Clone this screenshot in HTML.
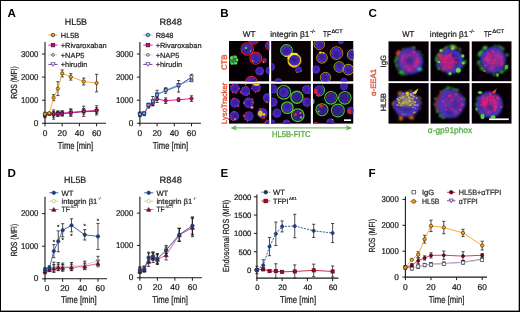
<!DOCTYPE html><html><head><meta charset="utf-8"><style>html,body{margin:0;padding:0;background:#fff;overflow:hidden}svg{display:block;will-change:transform;text-rendering:geometricPrecision}</style></head><body>
<svg width="520" height="312" viewBox="0 0 520 312" font-family='"Liberation Sans", sans-serif'>
<defs><filter id="b1" x="-50%" y="-50%" width="200%" height="200%"><feGaussianBlur stdDeviation="0.9"/></filter><filter id="b2" x="-50%" y="-50%" width="200%" height="200%"><feGaussianBlur stdDeviation="1.0"/></filter><filter id="b3" x="-50%" y="-50%" width="200%" height="200%"><feGaussianBlur stdDeviation="0.35"/></filter><filter id="cb" x="-10%" y="-10%" width="120%" height="120%"><feGaussianBlur stdDeviation="0.9"/></filter></defs>
<rect x="0" y="0" width="520" height="312" fill="#000"/>
<rect x="1" y="1" width="517.7" height="309.6" fill="#fff"/>
<text x="7.6" y="16.6" font-size="11.6" fill="#000" font-weight="bold" >A</text>
<text x="220.2" y="16.6" font-size="11.6" fill="#000" font-weight="bold" >B</text>
<text x="368.4" y="16.8" font-size="11.6" fill="#000" font-weight="bold" >C</text>
<text x="7.6" y="176.6" font-size="11.6" fill="#000" font-weight="bold" >D</text>
<text x="220.4" y="176.8" font-size="11.6" fill="#000" font-weight="bold" >E</text>
<text x="368.6" y="176.8" font-size="11.6" fill="#000" font-weight="bold" >F</text>
<line x1="45" y1="42" x2="45" y2="123.8" stroke="#1a1a1a" stroke-width="1.1" />
<line x1="44.5" y1="123.3" x2="106" y2="123.3" stroke="#1a1a1a" stroke-width="1.1" />
<line x1="42" y1="123.3" x2="45" y2="123.3" stroke="#1a1a1a" stroke-width="1" />
<text x="38.4" y="125.8" font-size="8.4" fill="#1a1a1a" stroke="#1a1a1a" stroke-width="0.22" text-anchor="end" >0</text>
<line x1="42" y1="100.2" x2="45" y2="100.2" stroke="#1a1a1a" stroke-width="1" />
<text x="38.4" y="102.7" font-size="8.4" fill="#1a1a1a" stroke="#1a1a1a" stroke-width="0.22" text-anchor="end" textLength="17.4" lengthAdjust="spacingAndGlyphs" >1000</text>
<line x1="42" y1="77.1" x2="45" y2="77.1" stroke="#1a1a1a" stroke-width="1" />
<text x="38.4" y="79.6" font-size="8.4" fill="#1a1a1a" stroke="#1a1a1a" stroke-width="0.22" text-anchor="end" textLength="17.4" lengthAdjust="spacingAndGlyphs" >2000</text>
<line x1="42" y1="54" x2="45" y2="54" stroke="#1a1a1a" stroke-width="1" />
<text x="38.4" y="56.5" font-size="8.4" fill="#1a1a1a" stroke="#1a1a1a" stroke-width="0.22" text-anchor="end" textLength="17.4" lengthAdjust="spacingAndGlyphs" >3000</text>
<line x1="45" y1="123.3" x2="45" y2="126.3" stroke="#1a1a1a" stroke-width="1" />
<text x="45" y="135.9" font-size="8.4" fill="#1a1a1a" stroke="#1a1a1a" stroke-width="0.22" text-anchor="middle" >0</text>
<line x1="62.2" y1="123.3" x2="62.2" y2="126.3" stroke="#1a1a1a" stroke-width="1" />
<text x="62.2" y="135.9" font-size="8.4" fill="#1a1a1a" stroke="#1a1a1a" stroke-width="0.22" text-anchor="middle" >20</text>
<line x1="79.4" y1="123.3" x2="79.4" y2="126.3" stroke="#1a1a1a" stroke-width="1" />
<text x="79.4" y="135.9" font-size="8.4" fill="#1a1a1a" stroke="#1a1a1a" stroke-width="0.22" text-anchor="middle" >40</text>
<line x1="96.6" y1="123.3" x2="96.6" y2="126.3" stroke="#1a1a1a" stroke-width="1" />
<text x="96.6" y="135.9" font-size="8.4" fill="#1a1a1a" stroke="#1a1a1a" stroke-width="0.22" text-anchor="middle" >60</text>
<text x="64.8" y="24.9" font-size="9.2" fill="#1a1a1a" stroke="#1a1a1a" stroke-width="0.22" textLength="22.2" lengthAdjust="spacingAndGlyphs" >HL5B</text>
<text x="57.8" y="148.9" font-size="10" fill="#1a1a1a" stroke="#1a1a1a" stroke-width="0.22" textLength="35.4" lengthAdjust="spacingAndGlyphs" >Time [min]</text>
<line x1="48.4" y1="35" x2="57.6" y2="35" stroke="#f7a21b" stroke-width="0.9" />
<circle cx="53" cy="35" r="1.75" fill="#f7a21b" stroke="#231f20" stroke-width="0.7"/>
<text x="60.8" y="37.6" font-size="7.4" fill="#231f20" stroke="#231f20" stroke-width="0.22" >HL5B</text>
<line x1="48.4" y1="45.1" x2="57.6" y2="45.1" stroke="#e5007e" stroke-width="0.9" />
<rect x="51.25" y="43.35" width="3.5" height="3.5" fill="#e5007e" stroke="#231f20" stroke-width="0.7"/>
<text x="60.8" y="47.7" font-size="7.4" fill="#231f20" stroke="#231f20" stroke-width="0.22" >+Rivaroxaban</text>
<line x1="48.4" y1="54.9" x2="57.6" y2="54.9" stroke="#c8c8c8" stroke-width="0.9" />
<circle cx="53" cy="54.9" r="1.35" fill="#fff" stroke="#231f20" stroke-width="0.7"/>
<text x="60.8" y="57.5" font-size="7.4" fill="#231f20" stroke="#231f20" stroke-width="0.22" >+NAP5</text>
<line x1="48.4" y1="64.4" x2="57.6" y2="64.4" stroke="#5d2a8e" stroke-width="0.9" />
<polygon points="50.9,62.65 55.1,62.65 53,66.33" fill="#fff" stroke="#5d2a8e" stroke-width="0.7"/>
<text x="60.8" y="67" font-size="7.4" fill="#231f20" stroke="#231f20" stroke-width="0.22" >+hirudin</text>
<line x1="45" y1="112.21" x2="45" y2="117.76" stroke="#231f20" stroke-width="0.8" />
<line x1="43.4" y1="112.21" x2="46.6" y2="112.21" stroke="#231f20" stroke-width="0.8" />
<line x1="43.4" y1="117.76" x2="46.6" y2="117.76" stroke="#231f20" stroke-width="0.8" />
<line x1="53.6" y1="109.9" x2="53.6" y2="119.14" stroke="#231f20" stroke-width="0.8" />
<line x1="52" y1="109.9" x2="55.2" y2="109.9" stroke="#231f20" stroke-width="0.8" />
<line x1="52" y1="119.14" x2="55.2" y2="119.14" stroke="#231f20" stroke-width="0.8" />
<line x1="57.9" y1="110.83" x2="57.9" y2="116.37" stroke="#231f20" stroke-width="0.8" />
<line x1="56.3" y1="110.83" x2="59.5" y2="110.83" stroke="#231f20" stroke-width="0.8" />
<line x1="56.3" y1="116.37" x2="59.5" y2="116.37" stroke="#231f20" stroke-width="0.8" />
<line x1="62.2" y1="110.59" x2="62.2" y2="116.14" stroke="#231f20" stroke-width="0.8" />
<line x1="60.6" y1="110.59" x2="63.8" y2="110.59" stroke="#231f20" stroke-width="0.8" />
<line x1="60.6" y1="116.14" x2="63.8" y2="116.14" stroke="#231f20" stroke-width="0.8" />
<line x1="70.8" y1="108.98" x2="70.8" y2="115.91" stroke="#231f20" stroke-width="0.8" />
<line x1="69.2" y1="108.98" x2="72.4" y2="108.98" stroke="#231f20" stroke-width="0.8" />
<line x1="69.2" y1="115.91" x2="72.4" y2="115.91" stroke="#231f20" stroke-width="0.8" />
<line x1="83.7" y1="106.21" x2="83.7" y2="116.37" stroke="#231f20" stroke-width="0.8" />
<line x1="82.1" y1="106.21" x2="85.3" y2="106.21" stroke="#231f20" stroke-width="0.8" />
<line x1="82.1" y1="116.37" x2="85.3" y2="116.37" stroke="#231f20" stroke-width="0.8" />
<line x1="96.6" y1="105.74" x2="96.6" y2="114.98" stroke="#231f20" stroke-width="0.8" />
<line x1="95" y1="105.74" x2="98.2" y2="105.74" stroke="#231f20" stroke-width="0.8" />
<line x1="95" y1="114.98" x2="98.2" y2="114.98" stroke="#231f20" stroke-width="0.8" />
<polyline points="45,114.98 49.3,113.6 53.6,114.52 57.9,113.6 62.2,113.37 70.8,112.44 83.7,111.29 96.6,110.36" fill="none" stroke="#c8c8c8" stroke-width="0.9" />
<circle cx="45" cy="114.98" r="1.3" fill="#fff" stroke="#231f20" stroke-width="0.7"/>
<circle cx="49.3" cy="113.6" r="1.3" fill="#fff" stroke="#231f20" stroke-width="0.7"/>
<circle cx="53.6" cy="114.52" r="1.3" fill="#fff" stroke="#231f20" stroke-width="0.7"/>
<circle cx="57.9" cy="113.6" r="1.3" fill="#fff" stroke="#231f20" stroke-width="0.7"/>
<circle cx="62.2" cy="113.37" r="1.3" fill="#fff" stroke="#231f20" stroke-width="0.7"/>
<circle cx="70.8" cy="112.44" r="1.3" fill="#fff" stroke="#231f20" stroke-width="0.7"/>
<circle cx="83.7" cy="111.29" r="1.3" fill="#fff" stroke="#231f20" stroke-width="0.7"/>
<circle cx="96.6" cy="110.36" r="1.3" fill="#fff" stroke="#231f20" stroke-width="0.7"/>
<polyline points="45,115.22 49.3,114.06 53.6,114.52 57.9,113.83 62.2,113.6 70.8,112.67 83.7,111.75 96.6,111.29" fill="none" stroke="#5d2a8e" stroke-width="0.9" />
<polygon points="43.02,113.56 46.98,113.56 45,117.03" fill="#fff" stroke="#5d2a8e" stroke-width="0.7"/>
<polygon points="47.32,112.41 51.28,112.41 49.3,115.88" fill="#fff" stroke="#5d2a8e" stroke-width="0.7"/>
<polygon points="51.62,112.87 55.58,112.87 53.6,116.34" fill="#fff" stroke="#5d2a8e" stroke-width="0.7"/>
<polygon points="55.92,112.18 59.88,112.18 57.9,115.64" fill="#fff" stroke="#5d2a8e" stroke-width="0.7"/>
<polygon points="60.22,111.95 64.18,111.95 62.2,115.41" fill="#fff" stroke="#5d2a8e" stroke-width="0.7"/>
<polygon points="68.82,111.02 72.78,111.02 70.8,114.49" fill="#fff" stroke="#5d2a8e" stroke-width="0.7"/>
<polygon points="81.72,110.1 85.68,110.1 83.7,113.56" fill="#fff" stroke="#5d2a8e" stroke-width="0.7"/>
<polygon points="94.62,109.64 98.58,109.64 96.6,113.1" fill="#fff" stroke="#5d2a8e" stroke-width="0.7"/>
<line x1="45" y1="113.14" x2="45" y2="116.83" stroke="#231f20" stroke-width="0.8" />
<line x1="43.4" y1="113.14" x2="46.6" y2="113.14" stroke="#231f20" stroke-width="0.8" />
<line x1="43.4" y1="116.83" x2="46.6" y2="116.83" stroke="#231f20" stroke-width="0.8" />
<line x1="53.6" y1="111.52" x2="53.6" y2="117.06" stroke="#231f20" stroke-width="0.8" />
<line x1="52" y1="111.52" x2="55.2" y2="111.52" stroke="#231f20" stroke-width="0.8" />
<line x1="52" y1="117.06" x2="55.2" y2="117.06" stroke="#231f20" stroke-width="0.8" />
<line x1="57.9" y1="111.52" x2="57.9" y2="116.14" stroke="#231f20" stroke-width="0.8" />
<line x1="56.3" y1="111.52" x2="59.5" y2="111.52" stroke="#231f20" stroke-width="0.8" />
<line x1="56.3" y1="116.14" x2="59.5" y2="116.14" stroke="#231f20" stroke-width="0.8" />
<line x1="62.2" y1="111.75" x2="62.2" y2="115.45" stroke="#231f20" stroke-width="0.8" />
<line x1="60.6" y1="111.75" x2="63.8" y2="111.75" stroke="#231f20" stroke-width="0.8" />
<line x1="60.6" y1="115.45" x2="63.8" y2="115.45" stroke="#231f20" stroke-width="0.8" />
<line x1="70.8" y1="109.21" x2="70.8" y2="116.14" stroke="#231f20" stroke-width="0.8" />
<line x1="69.2" y1="109.21" x2="72.4" y2="109.21" stroke="#231f20" stroke-width="0.8" />
<line x1="69.2" y1="116.14" x2="72.4" y2="116.14" stroke="#231f20" stroke-width="0.8" />
<line x1="83.7" y1="108.52" x2="83.7" y2="114.06" stroke="#231f20" stroke-width="0.8" />
<line x1="82.1" y1="108.52" x2="85.3" y2="108.52" stroke="#231f20" stroke-width="0.8" />
<line x1="82.1" y1="114.06" x2="85.3" y2="114.06" stroke="#231f20" stroke-width="0.8" />
<line x1="96.6" y1="107.82" x2="96.6" y2="113.37" stroke="#231f20" stroke-width="0.8" />
<line x1="95" y1="107.82" x2="98.2" y2="107.82" stroke="#231f20" stroke-width="0.8" />
<line x1="95" y1="113.37" x2="98.2" y2="113.37" stroke="#231f20" stroke-width="0.8" />
<polyline points="45,114.98 49.3,113.83 53.6,114.29 57.9,113.83 62.2,113.6 70.8,112.67 83.7,111.29 96.6,110.59" fill="none" stroke="#e5007e" stroke-width="0.9" />
<rect x="43.55" y="113.53" width="2.9" height="2.9" fill="#e5007e" stroke="#231f20" stroke-width="0.7"/>
<rect x="47.85" y="112.38" width="2.9" height="2.9" fill="#e5007e" stroke="#231f20" stroke-width="0.7"/>
<rect x="52.15" y="112.84" width="2.9" height="2.9" fill="#e5007e" stroke="#231f20" stroke-width="0.7"/>
<rect x="56.45" y="112.38" width="2.9" height="2.9" fill="#e5007e" stroke="#231f20" stroke-width="0.7"/>
<rect x="60.75" y="112.15" width="2.9" height="2.9" fill="#e5007e" stroke="#231f20" stroke-width="0.7"/>
<rect x="69.35" y="111.22" width="2.9" height="2.9" fill="#e5007e" stroke="#231f20" stroke-width="0.7"/>
<rect x="82.25" y="109.84" width="2.9" height="2.9" fill="#e5007e" stroke="#231f20" stroke-width="0.7"/>
<rect x="95.15" y="109.14" width="2.9" height="2.9" fill="#e5007e" stroke="#231f20" stroke-width="0.7"/>
<line x1="53.6" y1="94.66" x2="53.6" y2="100.66" stroke="#231f20" stroke-width="0.8" />
<line x1="52" y1="94.66" x2="55.2" y2="94.66" stroke="#231f20" stroke-width="0.8" />
<line x1="52" y1="100.66" x2="55.2" y2="100.66" stroke="#231f20" stroke-width="0.8" />
<line x1="57.9" y1="81.72" x2="57.9" y2="95.58" stroke="#231f20" stroke-width="0.8" />
<line x1="56.3" y1="81.72" x2="59.5" y2="81.72" stroke="#231f20" stroke-width="0.8" />
<line x1="56.3" y1="95.58" x2="59.5" y2="95.58" stroke="#231f20" stroke-width="0.8" />
<line x1="62.2" y1="69.94" x2="62.2" y2="76.87" stroke="#231f20" stroke-width="0.8" />
<line x1="60.6" y1="69.94" x2="63.8" y2="69.94" stroke="#231f20" stroke-width="0.8" />
<line x1="60.6" y1="76.87" x2="63.8" y2="76.87" stroke="#231f20" stroke-width="0.8" />
<line x1="70.8" y1="73.64" x2="70.8" y2="80.1" stroke="#231f20" stroke-width="0.8" />
<line x1="69.2" y1="73.64" x2="72.4" y2="73.64" stroke="#231f20" stroke-width="0.8" />
<line x1="69.2" y1="80.1" x2="72.4" y2="80.1" stroke="#231f20" stroke-width="0.8" />
<line x1="83.7" y1="78.02" x2="83.7" y2="84.95" stroke="#231f20" stroke-width="0.8" />
<line x1="82.1" y1="78.02" x2="85.3" y2="78.02" stroke="#231f20" stroke-width="0.8" />
<line x1="82.1" y1="84.95" x2="85.3" y2="84.95" stroke="#231f20" stroke-width="0.8" />
<line x1="96.6" y1="74.33" x2="96.6" y2="91.88" stroke="#231f20" stroke-width="0.8" />
<line x1="95" y1="74.33" x2="98.2" y2="74.33" stroke="#231f20" stroke-width="0.8" />
<line x1="95" y1="91.88" x2="98.2" y2="91.88" stroke="#231f20" stroke-width="0.8" />
<polyline points="45,114.06 49.3,113.14 53.6,97.66 57.9,88.65 62.2,73.4 70.8,76.87 83.7,81.49 96.6,83.11" fill="none" stroke="#f7a21b" stroke-width="0.9" />
<circle cx="45" cy="114.06" r="1.65" fill="#f7a21b" stroke="#4a3000" stroke-width="0.7"/>
<circle cx="49.3" cy="113.14" r="1.65" fill="#f7a21b" stroke="#4a3000" stroke-width="0.7"/>
<circle cx="53.6" cy="97.66" r="1.65" fill="#f7a21b" stroke="#4a3000" stroke-width="0.7"/>
<circle cx="57.9" cy="88.65" r="1.65" fill="#f7a21b" stroke="#4a3000" stroke-width="0.7"/>
<circle cx="62.2" cy="73.4" r="1.65" fill="#f7a21b" stroke="#4a3000" stroke-width="0.7"/>
<circle cx="70.8" cy="76.87" r="1.65" fill="#f7a21b" stroke="#4a3000" stroke-width="0.7"/>
<circle cx="83.7" cy="81.49" r="1.65" fill="#f7a21b" stroke="#4a3000" stroke-width="0.7"/>
<circle cx="96.6" cy="83.11" r="1.65" fill="#f7a21b" stroke="#4a3000" stroke-width="0.7"/>
<line x1="139.9" y1="42" x2="139.9" y2="123.8" stroke="#1a1a1a" stroke-width="1.1" />
<line x1="139.4" y1="123.3" x2="200.9" y2="123.3" stroke="#1a1a1a" stroke-width="1.1" />
<line x1="136.9" y1="123.3" x2="139.9" y2="123.3" stroke="#1a1a1a" stroke-width="1" />
<text x="133.3" y="125.8" font-size="8.4" fill="#1a1a1a" stroke="#1a1a1a" stroke-width="0.22" text-anchor="end" >0</text>
<line x1="136.9" y1="100.2" x2="139.9" y2="100.2" stroke="#1a1a1a" stroke-width="1" />
<text x="133.3" y="102.7" font-size="8.4" fill="#1a1a1a" stroke="#1a1a1a" stroke-width="0.22" text-anchor="end" textLength="17.4" lengthAdjust="spacingAndGlyphs" >1000</text>
<line x1="136.9" y1="77.1" x2="139.9" y2="77.1" stroke="#1a1a1a" stroke-width="1" />
<text x="133.3" y="79.6" font-size="8.4" fill="#1a1a1a" stroke="#1a1a1a" stroke-width="0.22" text-anchor="end" textLength="17.4" lengthAdjust="spacingAndGlyphs" >2000</text>
<line x1="136.9" y1="54" x2="139.9" y2="54" stroke="#1a1a1a" stroke-width="1" />
<text x="133.3" y="56.5" font-size="8.4" fill="#1a1a1a" stroke="#1a1a1a" stroke-width="0.22" text-anchor="end" textLength="17.4" lengthAdjust="spacingAndGlyphs" >3000</text>
<line x1="139.9" y1="123.3" x2="139.9" y2="126.3" stroke="#1a1a1a" stroke-width="1" />
<text x="139.9" y="135.9" font-size="8.4" fill="#1a1a1a" stroke="#1a1a1a" stroke-width="0.22" text-anchor="middle" >0</text>
<line x1="157.1" y1="123.3" x2="157.1" y2="126.3" stroke="#1a1a1a" stroke-width="1" />
<text x="157.1" y="135.9" font-size="8.4" fill="#1a1a1a" stroke="#1a1a1a" stroke-width="0.22" text-anchor="middle" >20</text>
<line x1="174.3" y1="123.3" x2="174.3" y2="126.3" stroke="#1a1a1a" stroke-width="1" />
<text x="174.3" y="135.9" font-size="8.4" fill="#1a1a1a" stroke="#1a1a1a" stroke-width="0.22" text-anchor="middle" >40</text>
<line x1="191.5" y1="123.3" x2="191.5" y2="126.3" stroke="#1a1a1a" stroke-width="1" />
<text x="191.5" y="135.9" font-size="8.4" fill="#1a1a1a" stroke="#1a1a1a" stroke-width="0.22" text-anchor="middle" >60</text>
<text x="159.6" y="24.9" font-size="9.2" fill="#1a1a1a" stroke="#1a1a1a" stroke-width="0.22" textLength="22.2" lengthAdjust="spacingAndGlyphs" >R848</text>
<text x="152.7" y="148.9" font-size="10" fill="#1a1a1a" stroke="#1a1a1a" stroke-width="0.22" textLength="35.4" lengthAdjust="spacingAndGlyphs" >Time [min]</text>
<line x1="143.3" y1="35" x2="152.5" y2="35" stroke="#5cb8ea" stroke-width="0.9" />
<circle cx="147.9" cy="35" r="1.75" fill="#5cb8ea" stroke="#231f20" stroke-width="0.7"/>
<text x="155.7" y="37.6" font-size="7.4" fill="#231f20" stroke="#231f20" stroke-width="0.22" >R848</text>
<line x1="143.3" y1="45.1" x2="152.5" y2="45.1" stroke="#e5007e" stroke-width="0.9" />
<rect x="146.15" y="43.35" width="3.5" height="3.5" fill="#e5007e" stroke="#231f20" stroke-width="0.7"/>
<text x="155.7" y="47.7" font-size="7.4" fill="#231f20" stroke="#231f20" stroke-width="0.22" >+Rivaroxaban</text>
<line x1="143.3" y1="54.9" x2="152.5" y2="54.9" stroke="#c8c8c8" stroke-width="0.9" />
<circle cx="147.9" cy="54.9" r="1.35" fill="#fff" stroke="#231f20" stroke-width="0.7"/>
<text x="155.7" y="57.5" font-size="7.4" fill="#231f20" stroke="#231f20" stroke-width="0.22" >+NAP5</text>
<line x1="143.3" y1="64.4" x2="152.5" y2="64.4" stroke="#5d2a8e" stroke-width="0.9" />
<polygon points="145.8,62.65 150,62.65 147.9,66.33" fill="#fff" stroke="#5d2a8e" stroke-width="0.7"/>
<text x="155.7" y="67" font-size="7.4" fill="#231f20" stroke="#231f20" stroke-width="0.22" >+hirudin</text>
<line x1="139.9" y1="111.98" x2="139.9" y2="116.6" stroke="#231f20" stroke-width="0.8" />
<line x1="138.3" y1="111.98" x2="141.5" y2="111.98" stroke="#231f20" stroke-width="0.8" />
<line x1="138.3" y1="116.6" x2="141.5" y2="116.6" stroke="#231f20" stroke-width="0.8" />
<line x1="148.5" y1="103.2" x2="148.5" y2="107.82" stroke="#231f20" stroke-width="0.8" />
<line x1="146.9" y1="103.2" x2="150.1" y2="103.2" stroke="#231f20" stroke-width="0.8" />
<line x1="146.9" y1="107.82" x2="150.1" y2="107.82" stroke="#231f20" stroke-width="0.8" />
<line x1="152.8" y1="96.5" x2="152.8" y2="105.74" stroke="#231f20" stroke-width="0.8" />
<line x1="151.2" y1="96.5" x2="154.4" y2="96.5" stroke="#231f20" stroke-width="0.8" />
<line x1="151.2" y1="105.74" x2="154.4" y2="105.74" stroke="#231f20" stroke-width="0.8" />
<line x1="157.1" y1="90.27" x2="157.1" y2="97.2" stroke="#231f20" stroke-width="0.8" />
<line x1="155.5" y1="90.27" x2="158.7" y2="90.27" stroke="#231f20" stroke-width="0.8" />
<line x1="155.5" y1="97.2" x2="158.7" y2="97.2" stroke="#231f20" stroke-width="0.8" />
<line x1="165.7" y1="87.73" x2="165.7" y2="93.27" stroke="#231f20" stroke-width="0.8" />
<line x1="164.1" y1="87.73" x2="167.3" y2="87.73" stroke="#231f20" stroke-width="0.8" />
<line x1="164.1" y1="93.27" x2="167.3" y2="93.27" stroke="#231f20" stroke-width="0.8" />
<line x1="178.6" y1="80.56" x2="178.6" y2="92.12" stroke="#231f20" stroke-width="0.8" />
<line x1="177" y1="80.56" x2="180.2" y2="80.56" stroke="#231f20" stroke-width="0.8" />
<line x1="177" y1="92.12" x2="180.2" y2="92.12" stroke="#231f20" stroke-width="0.8" />
<line x1="191.5" y1="74.33" x2="191.5" y2="79.87" stroke="#231f20" stroke-width="0.8" />
<line x1="189.9" y1="74.33" x2="193.1" y2="74.33" stroke="#231f20" stroke-width="0.8" />
<line x1="189.9" y1="79.87" x2="193.1" y2="79.87" stroke="#231f20" stroke-width="0.8" />
<polyline points="139.9,114.29 144.2,113.6 148.5,105.51 152.8,101.12 157.1,93.73 165.7,90.5 178.6,86.34 191.5,77.1" fill="none" stroke="#c8c8c8" stroke-width="0.9" />
<circle cx="139.9" cy="114.29" r="1.3" fill="#fff" stroke="#231f20" stroke-width="0.7"/>
<circle cx="144.2" cy="113.6" r="1.3" fill="#fff" stroke="#231f20" stroke-width="0.7"/>
<circle cx="148.5" cy="105.51" r="1.3" fill="#fff" stroke="#231f20" stroke-width="0.7"/>
<circle cx="152.8" cy="101.12" r="1.3" fill="#fff" stroke="#231f20" stroke-width="0.7"/>
<circle cx="157.1" cy="93.73" r="1.3" fill="#fff" stroke="#231f20" stroke-width="0.7"/>
<circle cx="165.7" cy="90.5" r="1.3" fill="#fff" stroke="#231f20" stroke-width="0.7"/>
<circle cx="178.6" cy="86.34" r="1.3" fill="#fff" stroke="#231f20" stroke-width="0.7"/>
<circle cx="191.5" cy="77.1" r="1.3" fill="#fff" stroke="#231f20" stroke-width="0.7"/>
<polyline points="139.9,114.52 144.2,113.6 148.5,105.28 152.8,101.35 157.1,94.42 165.7,90.96 178.6,85.42 191.5,77.33" fill="none" stroke="#5d2a8e" stroke-width="0.9" />
<polygon points="137.92,112.87 141.88,112.87 139.9,116.34" fill="#fff" stroke="#5d2a8e" stroke-width="0.7"/>
<polygon points="142.22,111.95 146.18,111.95 144.2,115.41" fill="#fff" stroke="#5d2a8e" stroke-width="0.7"/>
<polygon points="146.52,103.63 150.48,103.63 148.5,107.1" fill="#fff" stroke="#5d2a8e" stroke-width="0.7"/>
<polygon points="150.82,99.7 154.78,99.7 152.8,103.17" fill="#fff" stroke="#5d2a8e" stroke-width="0.7"/>
<polygon points="155.12,92.77 159.08,92.77 157.1,96.24" fill="#fff" stroke="#5d2a8e" stroke-width="0.7"/>
<polygon points="163.72,89.31 167.68,89.31 165.7,92.78" fill="#fff" stroke="#5d2a8e" stroke-width="0.7"/>
<polygon points="176.62,83.77 180.58,83.77 178.6,87.23" fill="#fff" stroke="#5d2a8e" stroke-width="0.7"/>
<polygon points="189.52,75.68 193.48,75.68 191.5,79.15" fill="#fff" stroke="#5d2a8e" stroke-width="0.7"/>
<line x1="139.9" y1="112.44" x2="139.9" y2="116.14" stroke="#231f20" stroke-width="0.8" />
<line x1="138.3" y1="112.44" x2="141.5" y2="112.44" stroke="#231f20" stroke-width="0.8" />
<line x1="138.3" y1="116.14" x2="141.5" y2="116.14" stroke="#231f20" stroke-width="0.8" />
<line x1="144.2" y1="111.98" x2="144.2" y2="115.68" stroke="#231f20" stroke-width="0.8" />
<line x1="142.6" y1="111.98" x2="145.8" y2="111.98" stroke="#231f20" stroke-width="0.8" />
<line x1="142.6" y1="115.68" x2="145.8" y2="115.68" stroke="#231f20" stroke-width="0.8" />
<line x1="148.5" y1="104.13" x2="148.5" y2="107.82" stroke="#231f20" stroke-width="0.8" />
<line x1="146.9" y1="104.13" x2="150.1" y2="104.13" stroke="#231f20" stroke-width="0.8" />
<line x1="146.9" y1="107.82" x2="150.1" y2="107.82" stroke="#231f20" stroke-width="0.8" />
<line x1="152.8" y1="101.12" x2="152.8" y2="105.74" stroke="#231f20" stroke-width="0.8" />
<line x1="151.2" y1="101.12" x2="154.4" y2="101.12" stroke="#231f20" stroke-width="0.8" />
<line x1="151.2" y1="105.74" x2="154.4" y2="105.74" stroke="#231f20" stroke-width="0.8" />
<line x1="157.1" y1="95.58" x2="157.1" y2="102.51" stroke="#231f20" stroke-width="0.8" />
<line x1="155.5" y1="95.58" x2="158.7" y2="95.58" stroke="#231f20" stroke-width="0.8" />
<line x1="155.5" y1="102.51" x2="158.7" y2="102.51" stroke="#231f20" stroke-width="0.8" />
<line x1="165.7" y1="97.89" x2="165.7" y2="103.43" stroke="#231f20" stroke-width="0.8" />
<line x1="164.1" y1="97.89" x2="167.3" y2="97.89" stroke="#231f20" stroke-width="0.8" />
<line x1="164.1" y1="103.43" x2="167.3" y2="103.43" stroke="#231f20" stroke-width="0.8" />
<line x1="178.6" y1="97.89" x2="178.6" y2="101.59" stroke="#231f20" stroke-width="0.8" />
<line x1="177" y1="97.89" x2="180.2" y2="97.89" stroke="#231f20" stroke-width="0.8" />
<line x1="177" y1="101.59" x2="180.2" y2="101.59" stroke="#231f20" stroke-width="0.8" />
<line x1="191.5" y1="95.81" x2="191.5" y2="101.36" stroke="#231f20" stroke-width="0.8" />
<line x1="189.9" y1="95.81" x2="193.1" y2="95.81" stroke="#231f20" stroke-width="0.8" />
<line x1="189.9" y1="101.36" x2="193.1" y2="101.36" stroke="#231f20" stroke-width="0.8" />
<polyline points="139.9,114.29 144.2,113.83 148.5,105.97 152.8,103.43 157.1,99.05 165.7,100.66 178.6,99.74 191.5,98.58" fill="none" stroke="#e5007e" stroke-width="0.9" />
<circle cx="139.9" cy="114.29" r="1.65" fill="#e5007e" stroke="#231f20" stroke-width="0.7"/>
<circle cx="144.2" cy="113.83" r="1.65" fill="#e5007e" stroke="#231f20" stroke-width="0.7"/>
<circle cx="148.5" cy="105.97" r="1.65" fill="#e5007e" stroke="#231f20" stroke-width="0.7"/>
<circle cx="152.8" cy="103.43" r="1.65" fill="#e5007e" stroke="#231f20" stroke-width="0.7"/>
<circle cx="157.1" cy="99.05" r="1.65" fill="#e5007e" stroke="#231f20" stroke-width="0.7"/>
<circle cx="165.7" cy="100.66" r="1.65" fill="#e5007e" stroke="#231f20" stroke-width="0.7"/>
<circle cx="178.6" cy="99.74" r="1.65" fill="#e5007e" stroke="#231f20" stroke-width="0.7"/>
<circle cx="191.5" cy="98.58" r="1.65" fill="#e5007e" stroke="#231f20" stroke-width="0.7"/>
<polyline points="139.9,114.29 144.2,113.37 148.5,105.05 152.8,101.35 157.1,95.12 165.7,90.04 178.6,84.95 191.5,80.33" fill="none" stroke="#5cb8ea" stroke-width="0.9" />
<rect x="138.45" y="112.84" width="2.9" height="2.9" fill="#5cb8ea" stroke="#1b2a5a" stroke-width="0.7"/>
<rect x="142.75" y="111.92" width="2.9" height="2.9" fill="#5cb8ea" stroke="#1b2a5a" stroke-width="0.7"/>
<rect x="147.05" y="103.6" width="2.9" height="2.9" fill="#5cb8ea" stroke="#1b2a5a" stroke-width="0.7"/>
<rect x="151.35" y="99.9" width="2.9" height="2.9" fill="#5cb8ea" stroke="#1b2a5a" stroke-width="0.7"/>
<rect x="155.65" y="93.67" width="2.9" height="2.9" fill="#5cb8ea" stroke="#1b2a5a" stroke-width="0.7"/>
<rect x="164.25" y="88.59" width="2.9" height="2.9" fill="#5cb8ea" stroke="#1b2a5a" stroke-width="0.7"/>
<rect x="177.15" y="83.5" width="2.9" height="2.9" fill="#5cb8ea" stroke="#1b2a5a" stroke-width="0.7"/>
<rect x="190.05" y="78.88" width="2.9" height="2.9" fill="#5cb8ea" stroke="#1b2a5a" stroke-width="0.7"/>
<text x="16.8" y="98.8" font-size="8.8" fill="#1a1a1a" stroke="#1a1a1a" stroke-width="0.22" textLength="32.6" lengthAdjust="spacingAndGlyphs" transform="rotate(-90 16.8 98.8)" >ROS (MFI)</text>
<line x1="45" y1="196.8" x2="45" y2="279.3" stroke="#1a1a1a" stroke-width="1.1" />
<line x1="44.5" y1="278.8" x2="107" y2="278.8" stroke="#1a1a1a" stroke-width="1.1" />
<line x1="42" y1="278.8" x2="45" y2="278.8" stroke="#1a1a1a" stroke-width="1" />
<text x="38.4" y="281.3" font-size="8.4" fill="#1a1a1a" stroke="#1a1a1a" stroke-width="0.22" text-anchor="end" >0</text>
<line x1="42" y1="246.2" x2="45" y2="246.2" stroke="#1a1a1a" stroke-width="1" />
<text x="38.4" y="248.7" font-size="8.4" fill="#1a1a1a" stroke="#1a1a1a" stroke-width="0.22" text-anchor="end" textLength="17.4" lengthAdjust="spacingAndGlyphs" >1000</text>
<line x1="42" y1="213.6" x2="45" y2="213.6" stroke="#1a1a1a" stroke-width="1" />
<text x="38.4" y="216.1" font-size="8.4" fill="#1a1a1a" stroke="#1a1a1a" stroke-width="0.22" text-anchor="end" textLength="17.4" lengthAdjust="spacingAndGlyphs" >2000</text>
<line x1="45" y1="278.8" x2="45" y2="281.8" stroke="#1a1a1a" stroke-width="1" />
<text x="47.2" y="291.4" font-size="8.4" fill="#1a1a1a" stroke="#1a1a1a" stroke-width="0.22" text-anchor="middle" >0</text>
<line x1="62.66" y1="278.8" x2="62.66" y2="281.8" stroke="#1a1a1a" stroke-width="1" />
<text x="64.86" y="291.4" font-size="8.4" fill="#1a1a1a" stroke="#1a1a1a" stroke-width="0.22" text-anchor="middle" >20</text>
<line x1="80.32" y1="278.8" x2="80.32" y2="281.8" stroke="#1a1a1a" stroke-width="1" />
<text x="82.52" y="291.4" font-size="8.4" fill="#1a1a1a" stroke="#1a1a1a" stroke-width="0.22" text-anchor="middle" >40</text>
<line x1="97.98" y1="278.8" x2="97.98" y2="281.8" stroke="#1a1a1a" stroke-width="1" />
<text x="100.18" y="291.4" font-size="8.4" fill="#1a1a1a" stroke="#1a1a1a" stroke-width="0.22" text-anchor="middle" >60</text>
<text x="64.1" y="182.8" font-size="9.2" fill="#1a1a1a" stroke="#1a1a1a" stroke-width="0.22" textLength="22.2" lengthAdjust="spacingAndGlyphs" >HL5B</text>
<text x="60.9" y="303.3" font-size="10" fill="#1a1a1a" stroke="#1a1a1a" stroke-width="0.22" textLength="35.8" lengthAdjust="spacingAndGlyphs" >Time [min]</text>
<line x1="49.2" y1="192.8" x2="58.4" y2="192.8" stroke="#36589a" stroke-width="0.9" />
<circle cx="53.8" cy="192.8" r="1.75" fill="#1d3c78" stroke="#1d3c78" stroke-width="0.7"/>
<line x1="49.2" y1="201.2" x2="58.4" y2="201.2" stroke="#c8d8a4" stroke-width="0.9" />
<circle cx="53.8" cy="201.2" r="1.75" fill="#fff" stroke="#a8bf7a" stroke-width="0.7"/>
<line x1="49.2" y1="209.5" x2="58.4" y2="209.5" stroke="#e6479b" stroke-width="0.9" />
<polygon points="51.7,211.25 55.9,211.25 53.8,207.57" fill="#6e0a3c" stroke="#6e0a3c" stroke-width="0.7"/>
<text x="61.5" y="195.6" font-size="7.6" fill="#231f20" stroke="#231f20" stroke-width="0.22" >WT</text>
<text x="61.5" y="204" font-size="7.6" fill="#231f20" stroke="#231f20" stroke-width="0.22" textLength="35.8" lengthAdjust="spacingAndGlyphs" >integrin β1</text>
<text x="97.8" y="199.6" font-size="4.2" fill="#231f20" stroke="#231f20" stroke-width="0.1" >-/-</text>
<text x="61.5" y="212.3" font-size="7.6" fill="#231f20" stroke="#231f20" stroke-width="0.22" textLength="8.4" lengthAdjust="spacingAndGlyphs" >TF</text>
<text x="70.5" y="208" font-size="4.2" fill="#231f20" stroke="#231f20" stroke-width="0.1" textLength="8" lengthAdjust="spacingAndGlyphs" >ΔCT</text>
<line x1="45" y1="268.04" x2="45" y2="273.26" stroke="#231f20" stroke-width="0.8" />
<line x1="43.4" y1="268.04" x2="46.6" y2="268.04" stroke="#231f20" stroke-width="0.8" />
<line x1="43.4" y1="273.26" x2="46.6" y2="273.26" stroke="#231f20" stroke-width="0.8" />
<line x1="49.41" y1="267.06" x2="49.41" y2="270.98" stroke="#231f20" stroke-width="0.8" />
<line x1="47.81" y1="267.06" x2="51.02" y2="267.06" stroke="#231f20" stroke-width="0.8" />
<line x1="47.81" y1="270.98" x2="51.02" y2="270.98" stroke="#231f20" stroke-width="0.8" />
<line x1="53.83" y1="262.17" x2="53.83" y2="271.95" stroke="#231f20" stroke-width="0.8" />
<line x1="52.23" y1="262.17" x2="55.43" y2="262.17" stroke="#231f20" stroke-width="0.8" />
<line x1="52.23" y1="271.95" x2="55.43" y2="271.95" stroke="#231f20" stroke-width="0.8" />
<line x1="58.25" y1="262.5" x2="58.25" y2="270.32" stroke="#231f20" stroke-width="0.8" />
<line x1="56.65" y1="262.5" x2="59.85" y2="262.5" stroke="#231f20" stroke-width="0.8" />
<line x1="56.65" y1="270.32" x2="59.85" y2="270.32" stroke="#231f20" stroke-width="0.8" />
<line x1="62.66" y1="263.15" x2="62.66" y2="270.98" stroke="#231f20" stroke-width="0.8" />
<line x1="61.06" y1="263.15" x2="64.26" y2="263.15" stroke="#231f20" stroke-width="0.8" />
<line x1="61.06" y1="270.98" x2="64.26" y2="270.98" stroke="#231f20" stroke-width="0.8" />
<line x1="71.49" y1="262.5" x2="71.49" y2="270.32" stroke="#231f20" stroke-width="0.8" />
<line x1="69.89" y1="262.5" x2="73.09" y2="262.5" stroke="#231f20" stroke-width="0.8" />
<line x1="69.89" y1="270.32" x2="73.09" y2="270.32" stroke="#231f20" stroke-width="0.8" />
<line x1="84.73" y1="261.2" x2="84.73" y2="269.02" stroke="#231f20" stroke-width="0.8" />
<line x1="83.14" y1="261.2" x2="86.33" y2="261.2" stroke="#231f20" stroke-width="0.8" />
<line x1="83.14" y1="269.02" x2="86.33" y2="269.02" stroke="#231f20" stroke-width="0.8" />
<line x1="97.98" y1="256.31" x2="97.98" y2="264.78" stroke="#231f20" stroke-width="0.8" />
<line x1="96.38" y1="256.31" x2="99.58" y2="256.31" stroke="#231f20" stroke-width="0.8" />
<line x1="96.38" y1="264.78" x2="99.58" y2="264.78" stroke="#231f20" stroke-width="0.8" />
<polyline points="45,270.65 49.41,269.02 53.83,267.06 58.25,266.41 62.66,267.06 71.49,266.41 84.73,265.11 97.98,260.54" fill="none" stroke="#c8d8a4" stroke-width="0.9" />
<circle cx="45" cy="270.65" r="1.7" fill="#fff" stroke="#9fb070" stroke-width="0.7"/>
<circle cx="49.41" cy="269.02" r="1.7" fill="#fff" stroke="#9fb070" stroke-width="0.7"/>
<circle cx="53.83" cy="267.06" r="1.7" fill="#fff" stroke="#9fb070" stroke-width="0.7"/>
<circle cx="58.25" cy="266.41" r="1.7" fill="#fff" stroke="#9fb070" stroke-width="0.7"/>
<circle cx="62.66" cy="267.06" r="1.7" fill="#fff" stroke="#9fb070" stroke-width="0.7"/>
<circle cx="71.49" cy="266.41" r="1.7" fill="#fff" stroke="#9fb070" stroke-width="0.7"/>
<circle cx="84.73" cy="265.11" r="1.7" fill="#fff" stroke="#9fb070" stroke-width="0.7"/>
<circle cx="97.98" cy="260.54" r="1.7" fill="#fff" stroke="#9fb070" stroke-width="0.7"/>
<line x1="45" y1="268.69" x2="45" y2="273.91" stroke="#231f20" stroke-width="0.8" />
<line x1="43.4" y1="268.69" x2="46.6" y2="268.69" stroke="#231f20" stroke-width="0.8" />
<line x1="43.4" y1="273.91" x2="46.6" y2="273.91" stroke="#231f20" stroke-width="0.8" />
<line x1="49.41" y1="267.72" x2="49.41" y2="271.63" stroke="#231f20" stroke-width="0.8" />
<line x1="47.81" y1="267.72" x2="51.02" y2="267.72" stroke="#231f20" stroke-width="0.8" />
<line x1="47.81" y1="271.63" x2="51.02" y2="271.63" stroke="#231f20" stroke-width="0.8" />
<line x1="53.83" y1="264.46" x2="53.83" y2="272.28" stroke="#231f20" stroke-width="0.8" />
<line x1="52.23" y1="264.46" x2="55.43" y2="264.46" stroke="#231f20" stroke-width="0.8" />
<line x1="52.23" y1="272.28" x2="55.43" y2="272.28" stroke="#231f20" stroke-width="0.8" />
<line x1="58.25" y1="264.13" x2="58.25" y2="270.65" stroke="#231f20" stroke-width="0.8" />
<line x1="56.65" y1="264.13" x2="59.85" y2="264.13" stroke="#231f20" stroke-width="0.8" />
<line x1="56.65" y1="270.65" x2="59.85" y2="270.65" stroke="#231f20" stroke-width="0.8" />
<line x1="62.66" y1="264.46" x2="62.66" y2="270.98" stroke="#231f20" stroke-width="0.8" />
<line x1="61.06" y1="264.46" x2="64.26" y2="264.46" stroke="#231f20" stroke-width="0.8" />
<line x1="61.06" y1="270.98" x2="64.26" y2="270.98" stroke="#231f20" stroke-width="0.8" />
<line x1="71.49" y1="264.13" x2="71.49" y2="270.65" stroke="#231f20" stroke-width="0.8" />
<line x1="69.89" y1="264.13" x2="73.09" y2="264.13" stroke="#231f20" stroke-width="0.8" />
<line x1="69.89" y1="270.65" x2="73.09" y2="270.65" stroke="#231f20" stroke-width="0.8" />
<line x1="84.73" y1="263.15" x2="84.73" y2="269.67" stroke="#231f20" stroke-width="0.8" />
<line x1="83.14" y1="263.15" x2="86.33" y2="263.15" stroke="#231f20" stroke-width="0.8" />
<line x1="83.14" y1="269.67" x2="86.33" y2="269.67" stroke="#231f20" stroke-width="0.8" />
<line x1="97.98" y1="260.22" x2="97.98" y2="266.74" stroke="#231f20" stroke-width="0.8" />
<line x1="96.38" y1="260.22" x2="99.58" y2="260.22" stroke="#231f20" stroke-width="0.8" />
<line x1="96.38" y1="266.74" x2="99.58" y2="266.74" stroke="#231f20" stroke-width="0.8" />
<polyline points="45,271.3 49.41,269.67 53.83,268.37 58.25,267.39 62.66,267.72 71.49,267.39 84.73,266.41 97.98,263.48" fill="none" stroke="#e6479b" stroke-width="0.9" />
<polygon points="42.96,273 47.04,273 45,269.43" fill="#6e0a3c" stroke="#6e0a3c" stroke-width="0.7"/>
<polygon points="47.38,271.37 51.45,271.37 49.41,267.8" fill="#6e0a3c" stroke="#6e0a3c" stroke-width="0.7"/>
<polygon points="51.79,270.07 55.87,270.07 53.83,266.5" fill="#6e0a3c" stroke="#6e0a3c" stroke-width="0.7"/>
<polygon points="56.21,269.09 60.29,269.09 58.25,265.52" fill="#6e0a3c" stroke="#6e0a3c" stroke-width="0.7"/>
<polygon points="60.62,269.42 64.7,269.42 62.66,265.85" fill="#6e0a3c" stroke="#6e0a3c" stroke-width="0.7"/>
<polygon points="69.45,269.09 73.53,269.09 71.49,265.52" fill="#6e0a3c" stroke="#6e0a3c" stroke-width="0.7"/>
<polygon points="82.69,268.11 86.78,268.11 84.73,264.54" fill="#6e0a3c" stroke="#6e0a3c" stroke-width="0.7"/>
<polygon points="95.94,265.18 100.02,265.18 97.98,261.61" fill="#6e0a3c" stroke="#6e0a3c" stroke-width="0.7"/>
<line x1="45" y1="267.72" x2="45" y2="272.28" stroke="#231f20" stroke-width="0.8" />
<line x1="43.4" y1="267.72" x2="46.6" y2="267.72" stroke="#231f20" stroke-width="0.8" />
<line x1="43.4" y1="272.28" x2="46.6" y2="272.28" stroke="#231f20" stroke-width="0.8" />
<line x1="49.41" y1="265.76" x2="49.41" y2="269.67" stroke="#231f20" stroke-width="0.8" />
<line x1="47.81" y1="265.76" x2="51.02" y2="265.76" stroke="#231f20" stroke-width="0.8" />
<line x1="47.81" y1="269.67" x2="51.02" y2="269.67" stroke="#231f20" stroke-width="0.8" />
<line x1="53.83" y1="244.57" x2="53.83" y2="257.61" stroke="#231f20" stroke-width="0.8" />
<line x1="52.23" y1="244.57" x2="55.43" y2="244.57" stroke="#231f20" stroke-width="0.8" />
<line x1="52.23" y1="257.61" x2="55.43" y2="257.61" stroke="#231f20" stroke-width="0.8" />
<line x1="58.25" y1="230.88" x2="58.25" y2="251.74" stroke="#231f20" stroke-width="0.8" />
<line x1="56.65" y1="230.88" x2="59.85" y2="230.88" stroke="#231f20" stroke-width="0.8" />
<line x1="56.65" y1="251.74" x2="59.85" y2="251.74" stroke="#231f20" stroke-width="0.8" />
<line x1="62.66" y1="223.71" x2="62.66" y2="236.75" stroke="#231f20" stroke-width="0.8" />
<line x1="61.06" y1="223.71" x2="64.26" y2="223.71" stroke="#231f20" stroke-width="0.8" />
<line x1="61.06" y1="236.75" x2="64.26" y2="236.75" stroke="#231f20" stroke-width="0.8" />
<line x1="71.49" y1="218.82" x2="71.49" y2="231.86" stroke="#231f20" stroke-width="0.8" />
<line x1="69.89" y1="218.82" x2="73.09" y2="218.82" stroke="#231f20" stroke-width="0.8" />
<line x1="69.89" y1="231.86" x2="73.09" y2="231.86" stroke="#231f20" stroke-width="0.8" />
<line x1="84.73" y1="229.57" x2="84.73" y2="240.01" stroke="#231f20" stroke-width="0.8" />
<line x1="83.14" y1="229.57" x2="86.33" y2="229.57" stroke="#231f20" stroke-width="0.8" />
<line x1="83.14" y1="240.01" x2="86.33" y2="240.01" stroke="#231f20" stroke-width="0.8" />
<line x1="97.98" y1="223.38" x2="97.98" y2="249.46" stroke="#231f20" stroke-width="0.8" />
<line x1="96.38" y1="223.38" x2="99.58" y2="223.38" stroke="#231f20" stroke-width="0.8" />
<line x1="96.38" y1="249.46" x2="99.58" y2="249.46" stroke="#231f20" stroke-width="0.8" />
<polyline points="45,270 49.41,267.72 53.83,251.09 58.25,241.31 62.66,230.23 71.49,225.34 84.73,234.79 97.98,236.42" fill="none" stroke="#36589a" stroke-width="0.9" />
<circle cx="45" cy="270" r="1.7" fill="#1d3c78" stroke="#1d3c78" stroke-width="0.7"/>
<circle cx="49.41" cy="267.72" r="1.7" fill="#1d3c78" stroke="#1d3c78" stroke-width="0.7"/>
<circle cx="53.83" cy="251.09" r="1.7" fill="#1d3c78" stroke="#1d3c78" stroke-width="0.7"/>
<circle cx="58.25" cy="241.31" r="1.7" fill="#1d3c78" stroke="#1d3c78" stroke-width="0.7"/>
<circle cx="62.66" cy="230.23" r="1.7" fill="#1d3c78" stroke="#1d3c78" stroke-width="0.7"/>
<circle cx="71.49" cy="225.34" r="1.7" fill="#1d3c78" stroke="#1d3c78" stroke-width="0.7"/>
<circle cx="84.73" cy="234.79" r="1.7" fill="#1d3c78" stroke="#1d3c78" stroke-width="0.7"/>
<circle cx="97.98" cy="236.42" r="1.7" fill="#1d3c78" stroke="#1d3c78" stroke-width="0.7"/>
<text x="53.83" y="243.91" font-size="6" fill="#231f20" stroke="#231f20" stroke-width="0.22" text-anchor="middle" >*</text>
<text x="58.25" y="229.24" font-size="6" fill="#231f20" stroke="#231f20" stroke-width="0.22" text-anchor="middle" >*</text>
<text x="62.66" y="241.95" font-size="6" fill="#231f20" stroke="#231f20" stroke-width="0.22" text-anchor="middle" >*</text>
<text x="71.49" y="238.04" font-size="6" fill="#231f20" stroke="#231f20" stroke-width="0.22" text-anchor="middle" >*</text>
<text x="84.73" y="227.61" font-size="6" fill="#231f20" stroke="#231f20" stroke-width="0.22" text-anchor="middle" >*</text>
<text x="97.98" y="222.72" font-size="6" fill="#231f20" stroke="#231f20" stroke-width="0.22" text-anchor="middle" >*</text>
<line x1="139.9" y1="196.8" x2="139.9" y2="278.2" stroke="#1a1a1a" stroke-width="1.1" />
<line x1="139.4" y1="277.7" x2="201.9" y2="277.7" stroke="#1a1a1a" stroke-width="1.1" />
<line x1="136.9" y1="277.7" x2="139.9" y2="277.7" stroke="#1a1a1a" stroke-width="1" />
<text x="133.3" y="280.2" font-size="8.4" fill="#1a1a1a" stroke="#1a1a1a" stroke-width="0.22" text-anchor="end" >0</text>
<line x1="136.9" y1="245.4" x2="139.9" y2="245.4" stroke="#1a1a1a" stroke-width="1" />
<text x="133.3" y="247.9" font-size="8.4" fill="#1a1a1a" stroke="#1a1a1a" stroke-width="0.22" text-anchor="end" textLength="17.4" lengthAdjust="spacingAndGlyphs" >1000</text>
<line x1="136.9" y1="213.1" x2="139.9" y2="213.1" stroke="#1a1a1a" stroke-width="1" />
<text x="133.3" y="215.6" font-size="8.4" fill="#1a1a1a" stroke="#1a1a1a" stroke-width="0.22" text-anchor="end" textLength="17.4" lengthAdjust="spacingAndGlyphs" >2000</text>
<line x1="139.9" y1="277.7" x2="139.9" y2="280.7" stroke="#1a1a1a" stroke-width="1" />
<text x="139.9" y="290.3" font-size="8.4" fill="#1a1a1a" stroke="#1a1a1a" stroke-width="0.22" text-anchor="middle" >0</text>
<line x1="157.4" y1="277.7" x2="157.4" y2="280.7" stroke="#1a1a1a" stroke-width="1" />
<text x="157.4" y="290.3" font-size="8.4" fill="#1a1a1a" stroke="#1a1a1a" stroke-width="0.22" text-anchor="middle" >20</text>
<line x1="174.9" y1="277.7" x2="174.9" y2="280.7" stroke="#1a1a1a" stroke-width="1" />
<text x="174.9" y="290.3" font-size="8.4" fill="#1a1a1a" stroke="#1a1a1a" stroke-width="0.22" text-anchor="middle" >40</text>
<line x1="192.4" y1="277.7" x2="192.4" y2="280.7" stroke="#1a1a1a" stroke-width="1" />
<text x="192.4" y="290.3" font-size="8.4" fill="#1a1a1a" stroke="#1a1a1a" stroke-width="0.22" text-anchor="middle" >60</text>
<text x="159.6" y="182.8" font-size="9.2" fill="#1a1a1a" stroke="#1a1a1a" stroke-width="0.22" textLength="22.2" lengthAdjust="spacingAndGlyphs" >R848</text>
<text x="152.2" y="303.3" font-size="10" fill="#1a1a1a" stroke="#1a1a1a" stroke-width="0.22" textLength="35.8" lengthAdjust="spacingAndGlyphs" >Time [min]</text>
<line x1="144.1" y1="192.8" x2="153.3" y2="192.8" stroke="#36589a" stroke-width="0.9" />
<circle cx="148.7" cy="192.8" r="1.75" fill="#1d3c78" stroke="#1d3c78" stroke-width="0.7"/>
<line x1="144.1" y1="201.2" x2="153.3" y2="201.2" stroke="#c8d8a4" stroke-width="0.9" />
<circle cx="148.7" cy="201.2" r="1.75" fill="#fff" stroke="#a8bf7a" stroke-width="0.7"/>
<line x1="144.1" y1="209.5" x2="153.3" y2="209.5" stroke="#e6479b" stroke-width="0.9" />
<polygon points="146.6,211.25 150.8,211.25 148.7,207.57" fill="#6e0a3c" stroke="#6e0a3c" stroke-width="0.7"/>
<text x="156.4" y="195.6" font-size="7.6" fill="#231f20" stroke="#231f20" stroke-width="0.22" >WT</text>
<text x="156.4" y="204" font-size="7.6" fill="#231f20" stroke="#231f20" stroke-width="0.22" textLength="35.8" lengthAdjust="spacingAndGlyphs" >integrin β1</text>
<text x="192.7" y="199.6" font-size="4.2" fill="#231f20" stroke="#231f20" stroke-width="0.1" >-/-</text>
<text x="156.4" y="212.3" font-size="7.6" fill="#231f20" stroke="#231f20" stroke-width="0.22" textLength="8.4" lengthAdjust="spacingAndGlyphs" >TF</text>
<text x="165.4" y="208" font-size="4.2" fill="#231f20" stroke="#231f20" stroke-width="0.1" textLength="8" lengthAdjust="spacingAndGlyphs" >ΔCT</text>
<line x1="139.9" y1="266.72" x2="139.9" y2="273.18" stroke="#231f20" stroke-width="0.8" />
<line x1="138.3" y1="266.72" x2="141.5" y2="266.72" stroke="#231f20" stroke-width="0.8" />
<line x1="138.3" y1="273.18" x2="141.5" y2="273.18" stroke="#231f20" stroke-width="0.8" />
<line x1="144.28" y1="266.07" x2="144.28" y2="271.24" stroke="#231f20" stroke-width="0.8" />
<line x1="142.68" y1="266.07" x2="145.88" y2="266.07" stroke="#231f20" stroke-width="0.8" />
<line x1="142.68" y1="271.24" x2="145.88" y2="271.24" stroke="#231f20" stroke-width="0.8" />
<line x1="148.65" y1="252.18" x2="148.65" y2="261.87" stroke="#231f20" stroke-width="0.8" />
<line x1="147.05" y1="252.18" x2="150.25" y2="252.18" stroke="#231f20" stroke-width="0.8" />
<line x1="147.05" y1="261.87" x2="150.25" y2="261.87" stroke="#231f20" stroke-width="0.8" />
<line x1="153.03" y1="251.86" x2="153.03" y2="259.61" stroke="#231f20" stroke-width="0.8" />
<line x1="151.43" y1="251.86" x2="154.62" y2="251.86" stroke="#231f20" stroke-width="0.8" />
<line x1="151.43" y1="259.61" x2="154.62" y2="259.61" stroke="#231f20" stroke-width="0.8" />
<line x1="157.4" y1="253.47" x2="157.4" y2="263.17" stroke="#231f20" stroke-width="0.8" />
<line x1="155.8" y1="253.47" x2="159" y2="253.47" stroke="#231f20" stroke-width="0.8" />
<line x1="155.8" y1="263.17" x2="159" y2="263.17" stroke="#231f20" stroke-width="0.8" />
<line x1="166.15" y1="245.4" x2="166.15" y2="253.15" stroke="#231f20" stroke-width="0.8" />
<line x1="164.55" y1="245.4" x2="167.75" y2="245.4" stroke="#231f20" stroke-width="0.8" />
<line x1="164.55" y1="253.15" x2="167.75" y2="253.15" stroke="#231f20" stroke-width="0.8" />
<line x1="179.28" y1="228.28" x2="179.28" y2="241.2" stroke="#231f20" stroke-width="0.8" />
<line x1="177.68" y1="228.28" x2="180.88" y2="228.28" stroke="#231f20" stroke-width="0.8" />
<line x1="177.68" y1="241.2" x2="180.88" y2="241.2" stroke="#231f20" stroke-width="0.8" />
<line x1="192.4" y1="216.98" x2="192.4" y2="235.06" stroke="#231f20" stroke-width="0.8" />
<line x1="190.8" y1="216.98" x2="194" y2="216.98" stroke="#231f20" stroke-width="0.8" />
<line x1="190.8" y1="235.06" x2="194" y2="235.06" stroke="#231f20" stroke-width="0.8" />
<polyline points="139.9,269.95 144.28,268.66 148.65,257.03 153.03,255.74 157.4,258.32 166.15,249.28 179.28,234.74 192.4,226.02" fill="none" stroke="#c8d8a4" stroke-width="0.9" />
<circle cx="139.9" cy="269.95" r="1.7" fill="#fff" stroke="#9fb070" stroke-width="0.7"/>
<circle cx="144.28" cy="268.66" r="1.7" fill="#fff" stroke="#9fb070" stroke-width="0.7"/>
<circle cx="148.65" cy="257.03" r="1.7" fill="#fff" stroke="#9fb070" stroke-width="0.7"/>
<circle cx="153.03" cy="255.74" r="1.7" fill="#fff" stroke="#9fb070" stroke-width="0.7"/>
<circle cx="157.4" cy="258.32" r="1.7" fill="#fff" stroke="#9fb070" stroke-width="0.7"/>
<circle cx="166.15" cy="249.28" r="1.7" fill="#fff" stroke="#9fb070" stroke-width="0.7"/>
<circle cx="179.28" cy="234.74" r="1.7" fill="#fff" stroke="#9fb070" stroke-width="0.7"/>
<circle cx="192.4" cy="226.02" r="1.7" fill="#fff" stroke="#9fb070" stroke-width="0.7"/>
<line x1="139.9" y1="268.33" x2="139.9" y2="273.5" stroke="#231f20" stroke-width="0.8" />
<line x1="138.3" y1="268.33" x2="141.5" y2="268.33" stroke="#231f20" stroke-width="0.8" />
<line x1="138.3" y1="273.5" x2="141.5" y2="273.5" stroke="#231f20" stroke-width="0.8" />
<line x1="144.28" y1="267.04" x2="144.28" y2="272.21" stroke="#231f20" stroke-width="0.8" />
<line x1="142.68" y1="267.04" x2="145.88" y2="267.04" stroke="#231f20" stroke-width="0.8" />
<line x1="142.68" y1="272.21" x2="145.88" y2="272.21" stroke="#231f20" stroke-width="0.8" />
<line x1="148.65" y1="256.7" x2="148.65" y2="266.4" stroke="#231f20" stroke-width="0.8" />
<line x1="147.05" y1="256.7" x2="150.25" y2="256.7" stroke="#231f20" stroke-width="0.8" />
<line x1="147.05" y1="266.4" x2="150.25" y2="266.4" stroke="#231f20" stroke-width="0.8" />
<line x1="153.03" y1="252.83" x2="153.03" y2="262.52" stroke="#231f20" stroke-width="0.8" />
<line x1="151.43" y1="252.83" x2="154.62" y2="252.83" stroke="#231f20" stroke-width="0.8" />
<line x1="151.43" y1="262.52" x2="154.62" y2="262.52" stroke="#231f20" stroke-width="0.8" />
<line x1="157.4" y1="254.77" x2="157.4" y2="264.46" stroke="#231f20" stroke-width="0.8" />
<line x1="155.8" y1="254.77" x2="159" y2="254.77" stroke="#231f20" stroke-width="0.8" />
<line x1="155.8" y1="264.46" x2="159" y2="264.46" stroke="#231f20" stroke-width="0.8" />
<line x1="166.15" y1="250.24" x2="166.15" y2="259.94" stroke="#231f20" stroke-width="0.8" />
<line x1="164.55" y1="250.24" x2="167.75" y2="250.24" stroke="#231f20" stroke-width="0.8" />
<line x1="164.55" y1="259.94" x2="167.75" y2="259.94" stroke="#231f20" stroke-width="0.8" />
<line x1="179.28" y1="228.6" x2="179.28" y2="241.52" stroke="#231f20" stroke-width="0.8" />
<line x1="177.68" y1="228.6" x2="180.88" y2="228.6" stroke="#231f20" stroke-width="0.8" />
<line x1="177.68" y1="241.52" x2="180.88" y2="241.52" stroke="#231f20" stroke-width="0.8" />
<line x1="192.4" y1="218.59" x2="192.4" y2="236.68" stroke="#231f20" stroke-width="0.8" />
<line x1="190.8" y1="218.59" x2="194" y2="218.59" stroke="#231f20" stroke-width="0.8" />
<line x1="190.8" y1="236.68" x2="194" y2="236.68" stroke="#231f20" stroke-width="0.8" />
<polyline points="139.9,270.92 144.28,269.62 148.65,261.55 153.03,257.67 157.4,259.61 166.15,255.09 179.28,235.06 192.4,227.63" fill="none" stroke="#e6479b" stroke-width="0.9" />
<polygon points="137.86,272.62 141.94,272.62 139.9,269.05" fill="#6e0a3c" stroke="#6e0a3c" stroke-width="0.7"/>
<polygon points="142.24,271.32 146.31,271.32 144.28,267.75" fill="#6e0a3c" stroke="#6e0a3c" stroke-width="0.7"/>
<polygon points="146.61,263.25 150.69,263.25 148.65,259.68" fill="#6e0a3c" stroke="#6e0a3c" stroke-width="0.7"/>
<polygon points="150.99,259.37 155.06,259.37 153.03,255.8" fill="#6e0a3c" stroke="#6e0a3c" stroke-width="0.7"/>
<polygon points="155.36,261.31 159.44,261.31 157.4,257.74" fill="#6e0a3c" stroke="#6e0a3c" stroke-width="0.7"/>
<polygon points="164.11,256.79 168.19,256.79 166.15,253.22" fill="#6e0a3c" stroke="#6e0a3c" stroke-width="0.7"/>
<polygon points="177.24,236.76 181.31,236.76 179.28,233.19" fill="#6e0a3c" stroke="#6e0a3c" stroke-width="0.7"/>
<polygon points="190.36,229.33 194.44,229.33 192.4,225.76" fill="#6e0a3c" stroke="#6e0a3c" stroke-width="0.7"/>
<line x1="139.9" y1="267.69" x2="139.9" y2="272.86" stroke="#231f20" stroke-width="0.8" />
<line x1="138.3" y1="267.69" x2="141.5" y2="267.69" stroke="#231f20" stroke-width="0.8" />
<line x1="138.3" y1="272.86" x2="141.5" y2="272.86" stroke="#231f20" stroke-width="0.8" />
<line x1="144.28" y1="266.39" x2="144.28" y2="271.56" stroke="#231f20" stroke-width="0.8" />
<line x1="142.68" y1="266.39" x2="145.88" y2="266.39" stroke="#231f20" stroke-width="0.8" />
<line x1="142.68" y1="271.56" x2="145.88" y2="271.56" stroke="#231f20" stroke-width="0.8" />
<line x1="148.65" y1="253.15" x2="148.65" y2="262.84" stroke="#231f20" stroke-width="0.8" />
<line x1="147.05" y1="253.15" x2="150.25" y2="253.15" stroke="#231f20" stroke-width="0.8" />
<line x1="147.05" y1="262.84" x2="150.25" y2="262.84" stroke="#231f20" stroke-width="0.8" />
<line x1="153.03" y1="252.51" x2="153.03" y2="260.26" stroke="#231f20" stroke-width="0.8" />
<line x1="151.43" y1="252.51" x2="154.62" y2="252.51" stroke="#231f20" stroke-width="0.8" />
<line x1="151.43" y1="260.26" x2="154.62" y2="260.26" stroke="#231f20" stroke-width="0.8" />
<line x1="157.4" y1="254.12" x2="157.4" y2="263.81" stroke="#231f20" stroke-width="0.8" />
<line x1="155.8" y1="254.12" x2="159" y2="254.12" stroke="#231f20" stroke-width="0.8" />
<line x1="155.8" y1="263.81" x2="159" y2="263.81" stroke="#231f20" stroke-width="0.8" />
<line x1="166.15" y1="247.01" x2="166.15" y2="253.47" stroke="#231f20" stroke-width="0.8" />
<line x1="164.55" y1="247.01" x2="167.75" y2="247.01" stroke="#231f20" stroke-width="0.8" />
<line x1="164.55" y1="253.47" x2="167.75" y2="253.47" stroke="#231f20" stroke-width="0.8" />
<line x1="179.28" y1="228.28" x2="179.28" y2="241.2" stroke="#231f20" stroke-width="0.8" />
<line x1="177.68" y1="228.28" x2="180.88" y2="228.28" stroke="#231f20" stroke-width="0.8" />
<line x1="177.68" y1="241.2" x2="180.88" y2="241.2" stroke="#231f20" stroke-width="0.8" />
<line x1="192.4" y1="217.3" x2="192.4" y2="234.09" stroke="#231f20" stroke-width="0.8" />
<line x1="190.8" y1="217.3" x2="194" y2="217.3" stroke="#231f20" stroke-width="0.8" />
<line x1="190.8" y1="234.09" x2="194" y2="234.09" stroke="#231f20" stroke-width="0.8" />
<polyline points="139.9,270.27 144.28,268.98 148.65,258 153.03,256.38 157.4,258.97 166.15,250.24 179.28,234.74 192.4,225.7" fill="none" stroke="#36589a" stroke-width="0.9" />
<circle cx="139.9" cy="270.27" r="1.7" fill="#1d3c78" stroke="#1d3c78" stroke-width="0.7"/>
<circle cx="144.28" cy="268.98" r="1.7" fill="#1d3c78" stroke="#1d3c78" stroke-width="0.7"/>
<circle cx="148.65" cy="258" r="1.7" fill="#1d3c78" stroke="#1d3c78" stroke-width="0.7"/>
<circle cx="153.03" cy="256.38" r="1.7" fill="#1d3c78" stroke="#1d3c78" stroke-width="0.7"/>
<circle cx="157.4" cy="258.97" r="1.7" fill="#1d3c78" stroke="#1d3c78" stroke-width="0.7"/>
<circle cx="166.15" cy="250.24" r="1.7" fill="#1d3c78" stroke="#1d3c78" stroke-width="0.7"/>
<circle cx="179.28" cy="234.74" r="1.7" fill="#1d3c78" stroke="#1d3c78" stroke-width="0.7"/>
<circle cx="192.4" cy="225.7" r="1.7" fill="#1d3c78" stroke="#1d3c78" stroke-width="0.7"/>
<text x="16.8" y="256.3" font-size="8.8" fill="#1a1a1a" stroke="#1a1a1a" stroke-width="0.22" textLength="32.5" lengthAdjust="spacingAndGlyphs" transform="rotate(-90 16.8 256.3)" >ROS (MFI)</text>
<line x1="256.9" y1="194.6" x2="256.9" y2="278.6" stroke="#1a1a1a" stroke-width="1.1" />
<line x1="256.4" y1="278.1" x2="338.4" y2="278.1" stroke="#1a1a1a" stroke-width="1.1" />
<line x1="253.9" y1="270" x2="256.9" y2="270" stroke="#1a1a1a" stroke-width="1" />
<text x="251.4" y="272.8" font-size="7.8" fill="#1a1a1a" stroke="#1a1a1a" stroke-width="0.22" text-anchor="end" >0</text>
<line x1="253.9" y1="251.7" x2="256.9" y2="251.7" stroke="#1a1a1a" stroke-width="1" />
<text x="251.4" y="254.5" font-size="7.8" fill="#1a1a1a" stroke="#1a1a1a" stroke-width="0.22" text-anchor="end" >500</text>
<line x1="253.9" y1="233.4" x2="256.9" y2="233.4" stroke="#1a1a1a" stroke-width="1" />
<text x="251.4" y="236.2" font-size="7.8" fill="#1a1a1a" stroke="#1a1a1a" stroke-width="0.22" text-anchor="end" >1000</text>
<line x1="253.9" y1="215.1" x2="256.9" y2="215.1" stroke="#1a1a1a" stroke-width="1" />
<text x="251.4" y="217.9" font-size="7.8" fill="#1a1a1a" stroke="#1a1a1a" stroke-width="0.22" text-anchor="end" >1500</text>
<line x1="253.9" y1="196.8" x2="256.9" y2="196.8" stroke="#1a1a1a" stroke-width="1" />
<text x="251.4" y="199.6" font-size="7.8" fill="#1a1a1a" stroke="#1a1a1a" stroke-width="0.22" text-anchor="end" >2000</text>
<line x1="256.9" y1="278.1" x2="256.9" y2="281.1" stroke="#1a1a1a" stroke-width="1" />
<text x="257.4" y="290.3" font-size="7.8" fill="#1a1a1a" stroke="#1a1a1a" stroke-width="0.22" text-anchor="middle" >0</text>
<line x1="282.14" y1="278.1" x2="282.14" y2="281.1" stroke="#1a1a1a" stroke-width="1" />
<text x="282.64" y="290.3" font-size="7.8" fill="#1a1a1a" stroke="#1a1a1a" stroke-width="0.22" text-anchor="middle" >20</text>
<line x1="307.38" y1="278.1" x2="307.38" y2="281.1" stroke="#1a1a1a" stroke-width="1" />
<text x="307.88" y="290.3" font-size="7.8" fill="#1a1a1a" stroke="#1a1a1a" stroke-width="0.22" text-anchor="middle" >40</text>
<line x1="332.62" y1="278.1" x2="332.62" y2="281.1" stroke="#1a1a1a" stroke-width="1" />
<text x="333.12" y="290.3" font-size="7.8" fill="#1a1a1a" stroke="#1a1a1a" stroke-width="0.22" text-anchor="middle" >60</text>
<text x="280.1" y="303" font-size="10" fill="#1a1a1a" stroke="#1a1a1a" stroke-width="0.22" textLength="36" lengthAdjust="spacingAndGlyphs" >Time [min]</text>
<text x="228.8" y="272" font-size="8.8" fill="#1a1a1a" stroke="#1a1a1a" stroke-width="0.22" textLength="72.2" lengthAdjust="spacingAndGlyphs" transform="rotate(-90 228.8 272)" >Endosomal ROS (MFI)</text>
<line x1="261.3" y1="192.2" x2="270.1" y2="192.2" stroke="#36589a" stroke-width="0.9" stroke-dasharray="1.5,1"/>
<circle cx="265.7" cy="192.2" r="1.8" fill="#1d3c78" stroke="#0a1a40" stroke-width="0.7"/>
<text x="273" y="195" font-size="7.6" fill="#231f20" stroke="#231f20" stroke-width="0.22" >WT</text>
<line x1="261.3" y1="201" x2="270.1" y2="201" stroke="#c2304f" stroke-width="0.9" />
<rect x="263.9" y="199.2" width="3.6" height="3.6" fill="#b0002a" stroke="#5a0012" stroke-width="0.7"/>
<text x="273" y="203.8" font-size="7.6" fill="#231f20" stroke="#231f20" stroke-width="0.22" textLength="15.6" lengthAdjust="spacingAndGlyphs" >TFPI</text>
<text x="289" y="199.6" font-size="4.2" fill="#231f20" stroke="#231f20" stroke-width="0.22" >ΔK1</text>
<line x1="256.9" y1="266.34" x2="256.9" y2="273.66" stroke="#231f20" stroke-width="0.8" />
<line x1="255.3" y1="266.34" x2="258.5" y2="266.34" stroke="#231f20" stroke-width="0.8" />
<line x1="255.3" y1="273.66" x2="258.5" y2="273.66" stroke="#231f20" stroke-width="0.8" />
<line x1="275.83" y1="263.78" x2="275.83" y2="278.42" stroke="#231f20" stroke-width="0.8" />
<line x1="274.23" y1="263.78" x2="277.43" y2="263.78" stroke="#231f20" stroke-width="0.8" />
<line x1="274.23" y1="278.42" x2="277.43" y2="278.42" stroke="#231f20" stroke-width="0.8" />
<line x1="294.76" y1="264.88" x2="294.76" y2="278.05" stroke="#231f20" stroke-width="0.8" />
<line x1="293.16" y1="264.88" x2="296.36" y2="264.88" stroke="#231f20" stroke-width="0.8" />
<line x1="293.16" y1="278.05" x2="296.36" y2="278.05" stroke="#231f20" stroke-width="0.8" />
<line x1="313.69" y1="264.14" x2="313.69" y2="276.59" stroke="#231f20" stroke-width="0.8" />
<line x1="312.09" y1="264.14" x2="315.29" y2="264.14" stroke="#231f20" stroke-width="0.8" />
<line x1="312.09" y1="276.59" x2="315.29" y2="276.59" stroke="#231f20" stroke-width="0.8" />
<line x1="332.62" y1="265.97" x2="332.62" y2="276.95" stroke="#231f20" stroke-width="0.8" />
<line x1="331.02" y1="265.97" x2="334.22" y2="265.97" stroke="#231f20" stroke-width="0.8" />
<line x1="331.02" y1="276.95" x2="334.22" y2="276.95" stroke="#231f20" stroke-width="0.8" />
<polyline points="256.9,270 263.21,269.27 269.52,271.1 275.83,271.1 282.14,271.83 294.76,271.46 313.69,270.37 332.62,271.46" fill="none" stroke="#c2304f" stroke-width="1" />
<rect x="255.3" y="268.4" width="3.2" height="3.2" fill="#b0002a" stroke="#5a0012" stroke-width="0.7"/>
<rect x="261.61" y="267.67" width="3.2" height="3.2" fill="#b0002a" stroke="#5a0012" stroke-width="0.7"/>
<rect x="267.92" y="269.5" width="3.2" height="3.2" fill="#b0002a" stroke="#5a0012" stroke-width="0.7"/>
<rect x="274.23" y="269.5" width="3.2" height="3.2" fill="#b0002a" stroke="#5a0012" stroke-width="0.7"/>
<rect x="280.54" y="270.23" width="3.2" height="3.2" fill="#b0002a" stroke="#5a0012" stroke-width="0.7"/>
<rect x="293.16" y="269.86" width="3.2" height="3.2" fill="#b0002a" stroke="#5a0012" stroke-width="0.7"/>
<rect x="312.09" y="268.77" width="3.2" height="3.2" fill="#b0002a" stroke="#5a0012" stroke-width="0.7"/>
<rect x="331.02" y="269.86" width="3.2" height="3.2" fill="#b0002a" stroke="#5a0012" stroke-width="0.7"/>
<line x1="263.21" y1="259.75" x2="263.21" y2="270.73" stroke="#231f20" stroke-width="0.8" />
<line x1="261.61" y1="259.75" x2="264.81" y2="259.75" stroke="#231f20" stroke-width="0.8" />
<line x1="261.61" y1="270.73" x2="264.81" y2="270.73" stroke="#231f20" stroke-width="0.8" />
<line x1="269.52" y1="237.43" x2="269.52" y2="255.73" stroke="#231f20" stroke-width="0.8" />
<line x1="267.92" y1="237.43" x2="271.12" y2="237.43" stroke="#231f20" stroke-width="0.8" />
<line x1="267.92" y1="255.73" x2="271.12" y2="255.73" stroke="#231f20" stroke-width="0.8" />
<line x1="275.83" y1="222.05" x2="275.83" y2="245.48" stroke="#231f20" stroke-width="0.8" />
<line x1="274.23" y1="222.05" x2="277.43" y2="222.05" stroke="#231f20" stroke-width="0.8" />
<line x1="274.23" y1="245.48" x2="277.43" y2="245.48" stroke="#231f20" stroke-width="0.8" />
<line x1="282.14" y1="220.96" x2="282.14" y2="231.94" stroke="#231f20" stroke-width="0.8" />
<line x1="280.54" y1="220.96" x2="283.74" y2="220.96" stroke="#231f20" stroke-width="0.8" />
<line x1="280.54" y1="231.94" x2="283.74" y2="231.94" stroke="#231f20" stroke-width="0.8" />
<line x1="294.76" y1="214.37" x2="294.76" y2="237.79" stroke="#231f20" stroke-width="0.8" />
<line x1="293.16" y1="214.37" x2="296.36" y2="214.37" stroke="#231f20" stroke-width="0.8" />
<line x1="293.16" y1="237.79" x2="296.36" y2="237.79" stroke="#231f20" stroke-width="0.8" />
<line x1="313.69" y1="224.25" x2="313.69" y2="237.43" stroke="#231f20" stroke-width="0.8" />
<line x1="312.09" y1="224.25" x2="315.29" y2="224.25" stroke="#231f20" stroke-width="0.8" />
<line x1="312.09" y1="237.43" x2="315.29" y2="237.43" stroke="#231f20" stroke-width="0.8" />
<line x1="332.62" y1="223.52" x2="332.62" y2="242.55" stroke="#231f20" stroke-width="0.8" />
<line x1="331.02" y1="223.52" x2="334.22" y2="223.52" stroke="#231f20" stroke-width="0.8" />
<line x1="331.02" y1="242.55" x2="334.22" y2="242.55" stroke="#231f20" stroke-width="0.8" />
<polyline points="256.9,270 263.21,265.24 269.52,246.58 275.83,233.77 282.14,226.45 294.76,226.08 313.69,230.84 332.62,233.03" fill="none" stroke="#36589a" stroke-width="1" stroke-dasharray="2,1.2"/>
<circle cx="256.9" cy="270" r="1.6" fill="#1d3c78" stroke="#1d3c78" stroke-width="0.7"/>
<circle cx="263.21" cy="265.24" r="1.6" fill="#1d3c78" stroke="#1d3c78" stroke-width="0.7"/>
<circle cx="269.52" cy="246.58" r="1.6" fill="#1d3c78" stroke="#1d3c78" stroke-width="0.7"/>
<circle cx="275.83" cy="233.77" r="1.6" fill="#1d3c78" stroke="#1d3c78" stroke-width="0.7"/>
<circle cx="282.14" cy="226.45" r="1.6" fill="#1d3c78" stroke="#1d3c78" stroke-width="0.7"/>
<circle cx="294.76" cy="226.08" r="1.6" fill="#1d3c78" stroke="#1d3c78" stroke-width="0.7"/>
<circle cx="313.69" cy="230.84" r="1.6" fill="#1d3c78" stroke="#1d3c78" stroke-width="0.7"/>
<circle cx="332.62" cy="233.03" r="1.6" fill="#1d3c78" stroke="#1d3c78" stroke-width="0.7"/>
<line x1="405.4" y1="196.6" x2="405.4" y2="277.6" stroke="#1a1a1a" stroke-width="1.1" />
<line x1="404.9" y1="277.1" x2="487" y2="277.1" stroke="#1a1a1a" stroke-width="1.1" />
<line x1="402.4" y1="277.1" x2="405.4" y2="277.1" stroke="#1a1a1a" stroke-width="1" />
<text x="398.8" y="279.6" font-size="8.4" fill="#1a1a1a" stroke="#1a1a1a" stroke-width="0.22" text-anchor="end" >0</text>
<line x1="402.4" y1="251.2" x2="405.4" y2="251.2" stroke="#1a1a1a" stroke-width="1" />
<text x="398.8" y="253.7" font-size="8.4" fill="#1a1a1a" stroke="#1a1a1a" stroke-width="0.22" text-anchor="end" textLength="17.4" lengthAdjust="spacingAndGlyphs" >1000</text>
<line x1="402.4" y1="225.3" x2="405.4" y2="225.3" stroke="#1a1a1a" stroke-width="1" />
<text x="398.8" y="227.8" font-size="8.4" fill="#1a1a1a" stroke="#1a1a1a" stroke-width="0.22" text-anchor="end" textLength="17.4" lengthAdjust="spacingAndGlyphs" >2000</text>
<line x1="402.4" y1="199.4" x2="405.4" y2="199.4" stroke="#1a1a1a" stroke-width="1" />
<text x="398.8" y="201.9" font-size="8.4" fill="#1a1a1a" stroke="#1a1a1a" stroke-width="0.22" text-anchor="end" textLength="17.4" lengthAdjust="spacingAndGlyphs" >3000</text>
<line x1="405.4" y1="277.1" x2="405.4" y2="280.1" stroke="#1a1a1a" stroke-width="1" />
<text x="405.4" y="289.7" font-size="8.4" fill="#1a1a1a" stroke="#1a1a1a" stroke-width="0.22" text-anchor="middle" >0</text>
<line x1="431" y1="277.1" x2="431" y2="280.1" stroke="#1a1a1a" stroke-width="1" />
<text x="431" y="289.7" font-size="8.4" fill="#1a1a1a" stroke="#1a1a1a" stroke-width="0.22" text-anchor="middle" >20</text>
<line x1="456.6" y1="277.1" x2="456.6" y2="280.1" stroke="#1a1a1a" stroke-width="1" />
<text x="456.6" y="289.7" font-size="8.4" fill="#1a1a1a" stroke="#1a1a1a" stroke-width="0.22" text-anchor="middle" >40</text>
<line x1="482.2" y1="277.1" x2="482.2" y2="280.1" stroke="#1a1a1a" stroke-width="1" />
<text x="482.2" y="289.7" font-size="8.4" fill="#1a1a1a" stroke="#1a1a1a" stroke-width="0.22" text-anchor="middle" >60</text>
<text x="428.7" y="303.4" font-size="10" fill="#1a1a1a" stroke="#1a1a1a" stroke-width="0.22" textLength="35.7" lengthAdjust="spacingAndGlyphs" >Time [min]</text>
<text x="375.5" y="252.6" font-size="8.8" fill="#1a1a1a" stroke="#1a1a1a" stroke-width="0.22" textLength="33.6" lengthAdjust="spacingAndGlyphs" transform="rotate(-90 375.5 252.6)" >ROS (MFI)</text>
<line x1="409.7" y1="192.2" x2="417.7" y2="192.2" stroke="#d8d8d8" stroke-width="0.9" />
<rect x="412" y="190.5" width="3.4" height="3.4" fill="#fff" stroke="#555" stroke-width="0.8"/>
<text x="422" y="195" font-size="7.6" fill="#231f20" stroke="#231f20" stroke-width="0.22" >IgG</text>
<line x1="409.7" y1="201.4" x2="417.7" y2="201.4" stroke="#f7a21b" stroke-width="0.9" />
<circle cx="413.7" cy="201.4" r="1.9" fill="#f7a21b" stroke="#4a3000" stroke-width="0.7"/>
<text x="422" y="204.2" font-size="7.6" fill="#231f20" stroke="#231f20" stroke-width="0.22" textLength="17.4" lengthAdjust="spacingAndGlyphs" >HL5B</text>
<line x1="447" y1="192.3" x2="455.4" y2="192.3" stroke="#c2304f" stroke-width="0.9" />
<circle cx="451.2" cy="192.3" r="1.8" fill="#8a0020" stroke="#3a0010" stroke-width="0.7"/>
<text x="458.8" y="195.1" font-size="7.6" fill="#231f20" stroke="#231f20" stroke-width="0.22" textLength="42.4" lengthAdjust="spacingAndGlyphs" >HL5B+αTFPI</text>
<line x1="447" y1="200.8" x2="455.4" y2="200.8" stroke="#5d2a8e" stroke-width="0.9" />
<polygon points="449.16,199.1 453.24,199.1 451.2,202.67" fill="#fff" stroke="#5d2a8e" stroke-width="0.8"/>
<text x="458.8" y="203.6" font-size="7.6" fill="#231f20" stroke="#231f20" stroke-width="0.22" textLength="18.9" lengthAdjust="spacingAndGlyphs" >αTFPI</text>
<line x1="405.4" y1="265.7" x2="405.4" y2="268.81" stroke="#231f20" stroke-width="0.8" />
<line x1="403.8" y1="265.7" x2="407" y2="265.7" stroke="#231f20" stroke-width="0.8" />
<line x1="403.8" y1="268.81" x2="407" y2="268.81" stroke="#231f20" stroke-width="0.8" />
<line x1="411.8" y1="266.48" x2="411.8" y2="269.59" stroke="#231f20" stroke-width="0.8" />
<line x1="410.2" y1="266.48" x2="413.4" y2="266.48" stroke="#231f20" stroke-width="0.8" />
<line x1="410.2" y1="269.59" x2="413.4" y2="269.59" stroke="#231f20" stroke-width="0.8" />
<line x1="418.2" y1="265.19" x2="418.2" y2="268.29" stroke="#231f20" stroke-width="0.8" />
<line x1="416.6" y1="265.19" x2="419.8" y2="265.19" stroke="#231f20" stroke-width="0.8" />
<line x1="416.6" y1="268.29" x2="419.8" y2="268.29" stroke="#231f20" stroke-width="0.8" />
<line x1="424.6" y1="263.37" x2="424.6" y2="266.48" stroke="#231f20" stroke-width="0.8" />
<line x1="423" y1="263.37" x2="426.2" y2="263.37" stroke="#231f20" stroke-width="0.8" />
<line x1="423" y1="266.48" x2="426.2" y2="266.48" stroke="#231f20" stroke-width="0.8" />
<line x1="431" y1="262.6" x2="431" y2="265.7" stroke="#231f20" stroke-width="0.8" />
<line x1="429.4" y1="262.6" x2="432.6" y2="262.6" stroke="#231f20" stroke-width="0.8" />
<line x1="429.4" y1="265.7" x2="432.6" y2="265.7" stroke="#231f20" stroke-width="0.8" />
<line x1="443.8" y1="262.08" x2="443.8" y2="265.19" stroke="#231f20" stroke-width="0.8" />
<line x1="442.2" y1="262.08" x2="445.4" y2="262.08" stroke="#231f20" stroke-width="0.8" />
<line x1="442.2" y1="265.19" x2="445.4" y2="265.19" stroke="#231f20" stroke-width="0.8" />
<line x1="463" y1="260.52" x2="463" y2="263.63" stroke="#231f20" stroke-width="0.8" />
<line x1="461.4" y1="260.52" x2="464.6" y2="260.52" stroke="#231f20" stroke-width="0.8" />
<line x1="461.4" y1="263.63" x2="464.6" y2="263.63" stroke="#231f20" stroke-width="0.8" />
<line x1="482.2" y1="257.68" x2="482.2" y2="260.78" stroke="#231f20" stroke-width="0.8" />
<line x1="480.6" y1="257.68" x2="483.8" y2="257.68" stroke="#231f20" stroke-width="0.8" />
<line x1="480.6" y1="260.78" x2="483.8" y2="260.78" stroke="#231f20" stroke-width="0.8" />
<polyline points="405.4,267.26 411.8,268.04 418.2,266.74 424.6,264.93 431,264.15 443.8,263.63 463,262.08 482.2,259.23" fill="none" stroke="#8e5fb0" stroke-width="0.9" />
<polygon points="403.72,265.86 407.08,265.86 405.4,268.8" fill="#fff" stroke="#5d2a8e" stroke-width="0.7"/>
<polygon points="410.12,266.64 413.48,266.64 411.8,269.58" fill="#fff" stroke="#5d2a8e" stroke-width="0.7"/>
<polygon points="416.52,265.34 419.88,265.34 418.2,268.28" fill="#fff" stroke="#5d2a8e" stroke-width="0.7"/>
<polygon points="422.92,263.53 426.28,263.53 424.6,266.47" fill="#fff" stroke="#5d2a8e" stroke-width="0.7"/>
<polygon points="429.32,262.75 432.68,262.75 431,265.69" fill="#fff" stroke="#5d2a8e" stroke-width="0.7"/>
<polygon points="442.12,262.23 445.48,262.23 443.8,265.17" fill="#fff" stroke="#5d2a8e" stroke-width="0.7"/>
<polygon points="461.32,260.68 464.68,260.68 463,263.62" fill="#fff" stroke="#5d2a8e" stroke-width="0.7"/>
<polygon points="480.52,257.83 483.88,257.83 482.2,260.77" fill="#fff" stroke="#5d2a8e" stroke-width="0.7"/>
<line x1="405.4" y1="265.96" x2="405.4" y2="269.07" stroke="#231f20" stroke-width="0.8" />
<line x1="403.8" y1="265.96" x2="407" y2="265.96" stroke="#231f20" stroke-width="0.8" />
<line x1="403.8" y1="269.07" x2="407" y2="269.07" stroke="#231f20" stroke-width="0.8" />
<line x1="411.8" y1="267" x2="411.8" y2="270.11" stroke="#231f20" stroke-width="0.8" />
<line x1="410.2" y1="267" x2="413.4" y2="267" stroke="#231f20" stroke-width="0.8" />
<line x1="410.2" y1="270.11" x2="413.4" y2="270.11" stroke="#231f20" stroke-width="0.8" />
<line x1="418.2" y1="264.93" x2="418.2" y2="268.03" stroke="#231f20" stroke-width="0.8" />
<line x1="416.6" y1="264.93" x2="419.8" y2="264.93" stroke="#231f20" stroke-width="0.8" />
<line x1="416.6" y1="268.03" x2="419.8" y2="268.03" stroke="#231f20" stroke-width="0.8" />
<line x1="424.6" y1="263.63" x2="424.6" y2="266.74" stroke="#231f20" stroke-width="0.8" />
<line x1="423" y1="263.63" x2="426.2" y2="263.63" stroke="#231f20" stroke-width="0.8" />
<line x1="423" y1="266.74" x2="426.2" y2="266.74" stroke="#231f20" stroke-width="0.8" />
<line x1="431" y1="263.11" x2="431" y2="266.22" stroke="#231f20" stroke-width="0.8" />
<line x1="429.4" y1="263.11" x2="432.6" y2="263.11" stroke="#231f20" stroke-width="0.8" />
<line x1="429.4" y1="266.22" x2="432.6" y2="266.22" stroke="#231f20" stroke-width="0.8" />
<line x1="443.8" y1="262.47" x2="443.8" y2="265.57" stroke="#231f20" stroke-width="0.8" />
<line x1="442.2" y1="262.47" x2="445.4" y2="262.47" stroke="#231f20" stroke-width="0.8" />
<line x1="442.2" y1="265.57" x2="445.4" y2="265.57" stroke="#231f20" stroke-width="0.8" />
<line x1="463" y1="261.04" x2="463" y2="264.15" stroke="#231f20" stroke-width="0.8" />
<line x1="461.4" y1="261.04" x2="464.6" y2="261.04" stroke="#231f20" stroke-width="0.8" />
<line x1="461.4" y1="264.15" x2="464.6" y2="264.15" stroke="#231f20" stroke-width="0.8" />
<line x1="482.2" y1="258.32" x2="482.2" y2="261.43" stroke="#231f20" stroke-width="0.8" />
<line x1="480.6" y1="258.32" x2="483.8" y2="258.32" stroke="#231f20" stroke-width="0.8" />
<line x1="480.6" y1="261.43" x2="483.8" y2="261.43" stroke="#231f20" stroke-width="0.8" />
<polyline points="405.4,267.52 411.8,268.55 418.2,266.48 424.6,265.19 431,264.67 443.8,264.02 463,262.6 482.2,259.88" fill="none" stroke="#cfcfcf" stroke-width="0.9" />
<rect x="403.9" y="266.02" width="3" height="3" fill="#fff" stroke="#555" stroke-width="0.7"/>
<rect x="410.3" y="267.05" width="3" height="3" fill="#fff" stroke="#555" stroke-width="0.7"/>
<rect x="416.7" y="264.98" width="3" height="3" fill="#fff" stroke="#555" stroke-width="0.7"/>
<rect x="423.1" y="263.69" width="3" height="3" fill="#fff" stroke="#555" stroke-width="0.7"/>
<rect x="429.5" y="263.17" width="3" height="3" fill="#fff" stroke="#555" stroke-width="0.7"/>
<rect x="442.3" y="262.52" width="3" height="3" fill="#fff" stroke="#555" stroke-width="0.7"/>
<rect x="461.5" y="261.1" width="3" height="3" fill="#fff" stroke="#555" stroke-width="0.7"/>
<rect x="480.7" y="258.38" width="3" height="3" fill="#fff" stroke="#555" stroke-width="0.7"/>
<line x1="405.4" y1="265.96" x2="405.4" y2="269.07" stroke="#231f20" stroke-width="0.8" />
<line x1="403.8" y1="265.96" x2="407" y2="265.96" stroke="#231f20" stroke-width="0.8" />
<line x1="403.8" y1="269.07" x2="407" y2="269.07" stroke="#231f20" stroke-width="0.8" />
<line x1="411.8" y1="263.63" x2="411.8" y2="266.74" stroke="#231f20" stroke-width="0.8" />
<line x1="410.2" y1="263.63" x2="413.4" y2="263.63" stroke="#231f20" stroke-width="0.8" />
<line x1="410.2" y1="266.74" x2="413.4" y2="266.74" stroke="#231f20" stroke-width="0.8" />
<line x1="418.2" y1="258.19" x2="418.2" y2="263.37" stroke="#231f20" stroke-width="0.8" />
<line x1="416.6" y1="258.19" x2="419.8" y2="258.19" stroke="#231f20" stroke-width="0.8" />
<line x1="416.6" y1="263.37" x2="419.8" y2="263.37" stroke="#231f20" stroke-width="0.8" />
<line x1="424.6" y1="255.86" x2="424.6" y2="260.01" stroke="#231f20" stroke-width="0.8" />
<line x1="423" y1="255.86" x2="426.2" y2="255.86" stroke="#231f20" stroke-width="0.8" />
<line x1="423" y1="260.01" x2="426.2" y2="260.01" stroke="#231f20" stroke-width="0.8" />
<line x1="431" y1="252.81" x2="431" y2="257.99" stroke="#231f20" stroke-width="0.8" />
<line x1="429.4" y1="252.81" x2="432.6" y2="252.81" stroke="#231f20" stroke-width="0.8" />
<line x1="429.4" y1="257.99" x2="432.6" y2="257.99" stroke="#231f20" stroke-width="0.8" />
<line x1="443.8" y1="251.07" x2="443.8" y2="259.36" stroke="#231f20" stroke-width="0.8" />
<line x1="442.2" y1="251.07" x2="445.4" y2="251.07" stroke="#231f20" stroke-width="0.8" />
<line x1="442.2" y1="259.36" x2="445.4" y2="259.36" stroke="#231f20" stroke-width="0.8" />
<line x1="463" y1="251.72" x2="463" y2="260.52" stroke="#231f20" stroke-width="0.8" />
<line x1="461.4" y1="251.72" x2="464.6" y2="251.72" stroke="#231f20" stroke-width="0.8" />
<line x1="461.4" y1="260.52" x2="464.6" y2="260.52" stroke="#231f20" stroke-width="0.8" />
<line x1="482.2" y1="253.66" x2="482.2" y2="256.77" stroke="#231f20" stroke-width="0.8" />
<line x1="480.6" y1="253.66" x2="483.8" y2="253.66" stroke="#231f20" stroke-width="0.8" />
<line x1="480.6" y1="256.77" x2="483.8" y2="256.77" stroke="#231f20" stroke-width="0.8" />
<polyline points="405.4,267.52 411.8,265.19 418.2,260.78 424.6,257.93 431,255.4 443.8,255.21 463,256.12 482.2,255.21" fill="none" stroke="#c2304f" stroke-width="0.9" />
<circle cx="405.4" cy="267.52" r="1.5" fill="#8a0020" stroke="#3a0010" stroke-width="0.7"/>
<circle cx="411.8" cy="265.19" r="1.5" fill="#8a0020" stroke="#3a0010" stroke-width="0.7"/>
<circle cx="418.2" cy="260.78" r="1.5" fill="#8a0020" stroke="#3a0010" stroke-width="0.7"/>
<circle cx="424.6" cy="257.93" r="1.5" fill="#8a0020" stroke="#3a0010" stroke-width="0.7"/>
<circle cx="431" cy="255.4" r="1.5" fill="#8a0020" stroke="#3a0010" stroke-width="0.7"/>
<circle cx="443.8" cy="255.21" r="1.5" fill="#8a0020" stroke="#3a0010" stroke-width="0.7"/>
<circle cx="463" cy="256.12" r="1.5" fill="#8a0020" stroke="#3a0010" stroke-width="0.7"/>
<circle cx="482.2" cy="255.21" r="1.5" fill="#8a0020" stroke="#3a0010" stroke-width="0.7"/>
<line x1="418.2" y1="251.74" x2="418.2" y2="257.44" stroke="#231f20" stroke-width="0.8" />
<line x1="416.6" y1="251.74" x2="419.8" y2="251.74" stroke="#231f20" stroke-width="0.8" />
<line x1="416.6" y1="257.44" x2="419.8" y2="257.44" stroke="#231f20" stroke-width="0.8" />
<line x1="424.6" y1="235.32" x2="424.6" y2="243.09" stroke="#231f20" stroke-width="0.8" />
<line x1="423" y1="235.32" x2="426.2" y2="235.32" stroke="#231f20" stroke-width="0.8" />
<line x1="423" y1="243.09" x2="426.2" y2="243.09" stroke="#231f20" stroke-width="0.8" />
<line x1="431" y1="220.2" x2="431" y2="231.59" stroke="#231f20" stroke-width="0.8" />
<line x1="429.4" y1="220.2" x2="432.6" y2="220.2" stroke="#231f20" stroke-width="0.8" />
<line x1="429.4" y1="231.59" x2="432.6" y2="231.59" stroke="#231f20" stroke-width="0.8" />
<line x1="443.8" y1="221.29" x2="443.8" y2="233.72" stroke="#231f20" stroke-width="0.8" />
<line x1="442.2" y1="221.29" x2="445.4" y2="221.29" stroke="#231f20" stroke-width="0.8" />
<line x1="442.2" y1="233.72" x2="445.4" y2="233.72" stroke="#231f20" stroke-width="0.8" />
<line x1="463" y1="229.26" x2="463" y2="236.51" stroke="#231f20" stroke-width="0.8" />
<line x1="461.4" y1="229.26" x2="464.6" y2="229.26" stroke="#231f20" stroke-width="0.8" />
<line x1="461.4" y1="236.51" x2="464.6" y2="236.51" stroke="#231f20" stroke-width="0.8" />
<line x1="482.2" y1="241.2" x2="482.2" y2="250.01" stroke="#231f20" stroke-width="0.8" />
<line x1="480.6" y1="241.2" x2="483.8" y2="241.2" stroke="#231f20" stroke-width="0.8" />
<line x1="480.6" y1="250.01" x2="483.8" y2="250.01" stroke="#231f20" stroke-width="0.8" />
<polyline points="405.4,267.52 411.8,259.8 418.2,254.59 424.6,239.21 431,225.9 443.8,227.5 463,232.89 482.2,245.61" fill="none" stroke="#f7a21b" stroke-width="0.9" />
<circle cx="405.4" cy="267.52" r="1.7" fill="#f7a21b" stroke="#4a3000" stroke-width="0.7"/>
<circle cx="411.8" cy="259.8" r="1.7" fill="#f7a21b" stroke="#4a3000" stroke-width="0.7"/>
<circle cx="418.2" cy="254.59" r="1.7" fill="#f7a21b" stroke="#4a3000" stroke-width="0.7"/>
<circle cx="424.6" cy="239.21" r="1.7" fill="#f7a21b" stroke="#4a3000" stroke-width="0.7"/>
<circle cx="431" cy="225.9" r="1.7" fill="#f7a21b" stroke="#4a3000" stroke-width="0.7"/>
<circle cx="443.8" cy="227.5" r="1.7" fill="#f7a21b" stroke="#4a3000" stroke-width="0.7"/>
<circle cx="463" cy="232.89" r="1.7" fill="#f7a21b" stroke="#4a3000" stroke-width="0.7"/>
<circle cx="482.2" cy="245.61" r="1.7" fill="#f7a21b" stroke="#4a3000" stroke-width="0.7"/>
<clipPath id="c1"><rect x="229" y="41" width="40.3" height="40.6"/></clipPath>
<g clip-path="url(#c1)">
<rect x="229" y="41" width="40.3" height="40.6" fill="#060006"/>
<g>
<circle cx="247.3" cy="49" r="5.3" fill="#4a2cba" filter="url(#b3)" opacity="1"/>
<circle cx="246.78" cy="49.71" r="2.04" fill="#2e1a84" filter="url(#b1)" opacity="0.55"/>
<circle cx="246.42" cy="50.04" r="1.92" fill="#2e1a84" filter="url(#b1)" opacity="0.55"/>
<circle cx="248.68" cy="48.66" r="1.46" fill="#2e1a84" filter="url(#b1)" opacity="0.55"/>
<circle cx="247.36" cy="48.74" r="1.98" fill="#2e1a84" filter="url(#b1)" opacity="0.55"/>
<circle cx="247.3" cy="49" r="6.2" fill="none" stroke="#ee1c25" stroke-width="1.1" filter="url(#b3)" opacity="1"/>
<ellipse cx="246" cy="48" rx="1.3" ry="1.3" fill="#4cc63a" filter="url(#b3)" opacity="1"/>
<ellipse cx="250.6" cy="51" rx="0.8" ry="0.8" fill="#4cc63a" filter="url(#b3)" opacity="1"/>
<circle cx="255.8" cy="58.3" r="5" fill="#4a2cba" filter="url(#b3)" opacity="1"/>
<circle cx="256.16" cy="55.78" r="1.45" fill="#2e1a84" filter="url(#b1)" opacity="0.55"/>
<circle cx="256.78" cy="59.12" r="1.29" fill="#2e1a84" filter="url(#b1)" opacity="0.55"/>
<circle cx="256.12" cy="60.21" r="1.62" fill="#2e1a84" filter="url(#b1)" opacity="0.55"/>
<circle cx="254.64" cy="57.68" r="1.31" fill="#2e1a84" filter="url(#b1)" opacity="0.55"/>
<circle cx="255.8" cy="58.3" r="5.9" fill="none" stroke="#ee1c25" stroke-width="1.1" filter="url(#b3)" opacity="1"/>
<ellipse cx="252.8" cy="61" rx="0.7" ry="0.7" fill="#f2d21a" filter="url(#b3)" opacity="1"/>
<circle cx="253.5" cy="38.8" r="4.5" fill="#4a2cba" filter="url(#b3)" opacity="1"/>
<circle cx="253.55" cy="38.86" r="1.16" fill="#2e1a84" filter="url(#b1)" opacity="0.55"/>
<circle cx="253.88" cy="38.77" r="1.46" fill="#2e1a84" filter="url(#b1)" opacity="0.55"/>
<circle cx="252.26" cy="38.1" r="1.41" fill="#2e1a84" filter="url(#b1)" opacity="0.55"/>
<circle cx="254.49" cy="39.6" r="1.49" fill="#2e1a84" filter="url(#b1)" opacity="0.55"/>
<circle cx="253.5" cy="38.8" r="5.4" fill="none" stroke="#ee1c25" stroke-width="1.1" filter="url(#b3)" opacity="1"/>
<circle cx="270.2" cy="45.5" r="4.2" fill="#4a2cba" filter="url(#b3)" opacity="1"/>
<circle cx="270.86" cy="47.4" r="1.64" fill="#2e1a84" filter="url(#b1)" opacity="0.55"/>
<circle cx="271.1" cy="45.92" r="1.1" fill="#2e1a84" filter="url(#b1)" opacity="0.55"/>
<circle cx="272.13" cy="44.24" r="1.15" fill="#2e1a84" filter="url(#b1)" opacity="0.55"/>
<circle cx="269.63" cy="46.92" r="1.36" fill="#2e1a84" filter="url(#b1)" opacity="0.55"/>
<circle cx="270.2" cy="45.5" r="4.8" fill="none" stroke="#ee1c25" stroke-width="0.9" filter="url(#b3)" opacity="1"/>
<ellipse cx="233.8" cy="60.2" rx="4.2" ry="4.6" fill="#30a828" filter="url(#b3)" opacity="0.95"/>
<ellipse cx="231.5" cy="57.5" rx="1.5" ry="1.5" fill="#58e040" filter="url(#b3)" opacity="1"/>
<ellipse cx="235.5" cy="56.8" rx="1.3" ry="1.3" fill="#58e040" filter="url(#b3)" opacity="1"/>
<ellipse cx="237.2" cy="60" rx="1.3" ry="1.3" fill="#58e040" filter="url(#b3)" opacity="1"/>
<ellipse cx="235.8" cy="63.2" rx="1.4" ry="1.4" fill="#58e040" filter="url(#b3)" opacity="1"/>
<ellipse cx="231.8" cy="63.5" rx="1.2" ry="1.2" fill="#58e040" filter="url(#b3)" opacity="1"/>
<ellipse cx="234.6" cy="59.2" rx="1.3" ry="1.1" fill="#3848b8" filter="url(#b3)" opacity="1"/>
<ellipse cx="232.6" cy="61.6" rx="1.1" ry="1" fill="#3848b8" filter="url(#b3)" opacity="1"/>
<ellipse cx="236" cy="61.5" rx="0.8" ry="0.8" fill="#2a2a90" filter="url(#b3)" opacity="1"/>
<ellipse cx="264.5" cy="60.5" rx="2.2" ry="2.2" fill="#6a1f6a" filter="url(#b3)" opacity="1"/>
<circle cx="264.5" cy="60.5" r="2.2" fill="none" stroke="#b0202a" stroke-width="0.6" filter="url(#b3)" opacity="1"/>
<ellipse cx="263.5" cy="62" rx="0.7" ry="0.7" fill="#f2d21a" filter="url(#b3)" opacity="1"/>
<circle cx="259.7" cy="71.2" r="4.4" fill="#4a2cba" filter="url(#b3)" opacity="1"/>
<circle cx="259.75" cy="71.33" r="1.14" fill="#2e1a84" filter="url(#b1)" opacity="0.55"/>
<circle cx="258.67" cy="71.09" r="1.47" fill="#2e1a84" filter="url(#b1)" opacity="0.55"/>
<circle cx="258.37" cy="69.86" r="1.48" fill="#2e1a84" filter="url(#b1)" opacity="0.55"/>
<circle cx="259.77" cy="71.06" r="1.16" fill="#2e1a84" filter="url(#b1)" opacity="0.55"/>
<circle cx="269.5" cy="70.5" r="3.8" fill="#4a2cba" filter="url(#b3)" opacity="1"/>
<circle cx="269.48" cy="70.34" r="1.4" fill="#2e1a84" filter="url(#b1)" opacity="0.55"/>
<circle cx="270.8" cy="70.96" r="1.08" fill="#2e1a84" filter="url(#b1)" opacity="0.55"/>
<circle cx="269.22" cy="70.01" r="1" fill="#2e1a84" filter="url(#b1)" opacity="0.55"/>
<circle cx="269.89" cy="70.61" r="1.4" fill="#2e1a84" filter="url(#b1)" opacity="0.55"/>
<ellipse cx="261" cy="73.5" rx="0.6" ry="0.6" fill="#2a90ff" filter="url(#b3)" opacity="1"/>
<circle cx="251.4" cy="82.3" r="5" fill="#4a2cba" filter="url(#b3)" opacity="1"/>
<circle cx="251.4" cy="82.35" r="1.9" fill="#2e1a84" filter="url(#b1)" opacity="0.55"/>
<circle cx="251.35" cy="83.38" r="1.44" fill="#2e1a84" filter="url(#b1)" opacity="0.55"/>
<circle cx="252.79" cy="83.23" r="1.95" fill="#2e1a84" filter="url(#b1)" opacity="0.55"/>
<circle cx="254.03" cy="82.81" r="1.93" fill="#2e1a84" filter="url(#b1)" opacity="0.55"/>
<circle cx="251.4" cy="82.3" r="5.9" fill="none" stroke="#ee1c25" stroke-width="1.1" filter="url(#b3)" opacity="1"/>
</g></g>
<clipPath id="c2"><rect x="271.1" y="41" width="39.8" height="40.6"/></clipPath>
<g clip-path="url(#c2)">
<rect x="271.1" y="41" width="39.8" height="40.6" fill="#0b0202"/>
<g>
<circle cx="286.5" cy="50.4" r="5.3" fill="#4a2cba" filter="url(#b3)" opacity="1"/>
<circle cx="287.56" cy="51.23" r="1.4" fill="#2e1a84" filter="url(#b1)" opacity="0.55"/>
<circle cx="284.71" cy="50.8" r="2.06" fill="#2e1a84" filter="url(#b1)" opacity="0.55"/>
<circle cx="288.44" cy="50.91" r="1.96" fill="#2e1a84" filter="url(#b1)" opacity="0.55"/>
<circle cx="287.18" cy="50.26" r="1.69" fill="#2e1a84" filter="url(#b1)" opacity="0.55"/>
<circle cx="286.5" cy="50.4" r="5.9" fill="none" stroke="#56dc3c" stroke-width="1" filter="url(#b3)" opacity="1"/>
<path d="M292.04,52.42 A5.9,5.9 0 0 1 284.48,55.94" fill="none" stroke="#f2d21a" stroke-width="1.2" filter="url(#b3)" opacity="1"/>
<circle cx="294.4" cy="60.2" r="5.6" fill="#4a2cba" filter="url(#b3)" opacity="1"/>
<circle cx="291.91" cy="59.11" r="1.94" fill="#2e1a84" filter="url(#b1)" opacity="0.55"/>
<circle cx="294.06" cy="59.24" r="2.2" fill="#2e1a84" filter="url(#b1)" opacity="0.55"/>
<circle cx="294.44" cy="60.16" r="1.61" fill="#2e1a84" filter="url(#b1)" opacity="0.55"/>
<circle cx="294.77" cy="59.99" r="2.16" fill="#2e1a84" filter="url(#b1)" opacity="0.55"/>
<circle cx="294.4" cy="60.2" r="6.3" fill="none" stroke="#f2d21a" stroke-width="1.3" filter="url(#b3)" opacity="1"/>
<path d="M288.2,59.11 A6.3,6.3 0 0 1 297.55,54.74" fill="none" stroke="#ffe84a" stroke-width="2" filter="url(#b3)" opacity="1"/>
<path d="M297.6,65.74 A6.4,6.4 0 0 1 288.86,63.4" fill="none" stroke="#f5d020" stroke-width="1.8" filter="url(#b3)" opacity="1"/>
<ellipse cx="289.54" cy="55.46" rx="0.71" ry="0.71" fill="#f08a12" filter="url(#b3)" opacity="1"/>
<ellipse cx="300.75" cy="57.8" rx="0.75" ry="0.75" fill="#f08a12" filter="url(#b3)" opacity="1"/>
<ellipse cx="300.71" cy="61.36" rx="0.76" ry="0.76" fill="#f08a12" filter="url(#b3)" opacity="1"/>
<ellipse cx="290.25" cy="54.56" rx="0.46" ry="0.46" fill="#f08a12" filter="url(#b3)" opacity="1"/>
<ellipse cx="288.4" cy="61.38" rx="0.62" ry="0.62" fill="#f08a12" filter="url(#b3)" opacity="1"/>
<ellipse cx="289.22" cy="57.6" rx="0.5" ry="0.5" fill="#f08a12" filter="url(#b3)" opacity="1"/>
<ellipse cx="293.11" cy="67.11" rx="0.7" ry="0.7" fill="#f08a12" filter="url(#b3)" opacity="1"/>
<circle cx="298.4" cy="69.6" r="3.3" fill="#4a2cba" filter="url(#b3)" opacity="1"/>
<circle cx="299.38" cy="68.43" r="1.08" fill="#2e1a84" filter="url(#b1)" opacity="0.55"/>
<circle cx="297.21" cy="70.86" r="1.13" fill="#2e1a84" filter="url(#b1)" opacity="0.55"/>
<circle cx="298.51" cy="69.6" r="0.95" fill="#2e1a84" filter="url(#b1)" opacity="0.55"/>
<circle cx="298.44" cy="69.59" r="1" fill="#2e1a84" filter="url(#b1)" opacity="0.55"/>
<ellipse cx="296.98" cy="72.43" rx="0.6" ry="0.6" fill="#f08a12" filter="url(#b3)" opacity="1"/>
<ellipse cx="301.5" cy="71.11" rx="0.51" ry="0.51" fill="#f08a12" filter="url(#b3)" opacity="1"/>
<ellipse cx="301.6" cy="70.82" rx="0.4" ry="0.4" fill="#f08a12" filter="url(#b3)" opacity="1"/>
<ellipse cx="295.56" cy="70.86" rx="0.41" ry="0.41" fill="#f08a12" filter="url(#b3)" opacity="1"/>
<circle cx="271.2" cy="66.9" r="3.8" fill="#4a2cba" filter="url(#b3)" opacity="1"/>
<circle cx="271.2" cy="66.85" r="1.12" fill="#2e1a84" filter="url(#b1)" opacity="0.55"/>
<circle cx="271.95" cy="66.99" r="1.29" fill="#2e1a84" filter="url(#b1)" opacity="0.55"/>
<circle cx="271.76" cy="66.25" r="1.32" fill="#2e1a84" filter="url(#b1)" opacity="0.55"/>
<circle cx="270.81" cy="68.4" r="1.17" fill="#2e1a84" filter="url(#b1)" opacity="0.55"/>
<circle cx="278.3" cy="82.3" r="4" fill="#4a2cba" filter="url(#b3)" opacity="1"/>
<circle cx="277.75" cy="82.57" r="1.46" fill="#2e1a84" filter="url(#b1)" opacity="0.55"/>
<circle cx="278.52" cy="82.54" r="1.02" fill="#2e1a84" filter="url(#b1)" opacity="0.55"/>
<circle cx="279.04" cy="81.95" r="1.23" fill="#2e1a84" filter="url(#b1)" opacity="0.55"/>
<circle cx="278.46" cy="82.29" r="1.4" fill="#2e1a84" filter="url(#b1)" opacity="0.55"/>
</g></g>
<clipPath id="c3"><rect x="312.8" y="41" width="40.7" height="40.6"/></clipPath>
<g clip-path="url(#c3)">
<rect x="312.8" y="41" width="40.7" height="40.6" fill="#060006"/>
<g>
<circle cx="319.3" cy="44.3" r="4.6" fill="#4a2cba" filter="url(#b3)" opacity="1"/>
<circle cx="319.86" cy="44.36" r="1.65" fill="#2e1a84" filter="url(#b1)" opacity="0.55"/>
<circle cx="321.59" cy="44.88" r="1.48" fill="#2e1a84" filter="url(#b1)" opacity="0.55"/>
<circle cx="320.45" cy="45.08" r="1.44" fill="#2e1a84" filter="url(#b1)" opacity="0.55"/>
<circle cx="320.13" cy="46.25" r="1.28" fill="#2e1a84" filter="url(#b1)" opacity="0.55"/>
<circle cx="319.3" cy="44.3" r="5.3" fill="none" stroke="#e89018" stroke-width="0.8" filter="url(#b3)" opacity="1"/>
<circle cx="336.5" cy="53.1" r="5.7" fill="#4a2cba" filter="url(#b3)" opacity="1"/>
<circle cx="336.47" cy="53.65" r="1.85" fill="#2e1a84" filter="url(#b1)" opacity="0.55"/>
<circle cx="336.88" cy="55.45" r="1.98" fill="#2e1a84" filter="url(#b1)" opacity="0.55"/>
<circle cx="336.46" cy="55.43" r="2.19" fill="#2e1a84" filter="url(#b1)" opacity="0.55"/>
<circle cx="336.51" cy="53.17" r="2.23" fill="#2e1a84" filter="url(#b1)" opacity="0.55"/>
<circle cx="336.5" cy="53.1" r="6.4" fill="none" stroke="#eb9a18" stroke-width="0.8" filter="url(#b3)" opacity="1"/>
<circle cx="322" cy="57.9" r="4.6" fill="#4a2cba" filter="url(#b3)" opacity="1"/>
<circle cx="321.54" cy="56.17" r="1.7" fill="#2e1a84" filter="url(#b1)" opacity="0.55"/>
<circle cx="323.34" cy="57.39" r="1.5" fill="#2e1a84" filter="url(#b1)" opacity="0.55"/>
<circle cx="322.12" cy="57.35" r="1.65" fill="#2e1a84" filter="url(#b1)" opacity="0.55"/>
<circle cx="321.72" cy="56.66" r="1.47" fill="#2e1a84" filter="url(#b1)" opacity="0.55"/>
<circle cx="322" cy="57.9" r="5.3" fill="none" stroke="#e8b020" stroke-width="0.8" filter="url(#b3)" opacity="1"/>
<circle cx="352.6" cy="54.8" r="4.6" fill="#4a2cba" filter="url(#b3)" opacity="1"/>
<circle cx="352.03" cy="53.89" r="1.17" fill="#2e1a84" filter="url(#b1)" opacity="0.55"/>
<circle cx="352.48" cy="54.61" r="1.57" fill="#2e1a84" filter="url(#b1)" opacity="0.55"/>
<circle cx="352.09" cy="55.39" r="1.52" fill="#2e1a84" filter="url(#b1)" opacity="0.55"/>
<circle cx="352.76" cy="54.93" r="1.36" fill="#2e1a84" filter="url(#b1)" opacity="0.55"/>
<circle cx="352.6" cy="54.8" r="5.3" fill="none" stroke="#e8c020" stroke-width="0.8" filter="url(#b3)" opacity="1"/>
<circle cx="339.3" cy="67" r="4.6" fill="#4a2cba" filter="url(#b3)" opacity="1"/>
<circle cx="339.67" cy="65.26" r="1.59" fill="#2e1a84" filter="url(#b1)" opacity="0.55"/>
<circle cx="339.07" cy="64.58" r="1.4" fill="#2e1a84" filter="url(#b1)" opacity="0.55"/>
<circle cx="339.34" cy="65.44" r="1.16" fill="#2e1a84" filter="url(#b1)" opacity="0.55"/>
<circle cx="339.31" cy="66.58" r="1.54" fill="#2e1a84" filter="url(#b1)" opacity="0.55"/>
<circle cx="339.3" cy="67" r="5.3" fill="none" stroke="#b8d020" stroke-width="0.8" filter="url(#b3)" opacity="1"/>
<circle cx="348.3" cy="69.6" r="4.6" fill="#4a2cba" filter="url(#b3)" opacity="1"/>
<circle cx="348.28" cy="69.57" r="1.36" fill="#2e1a84" filter="url(#b1)" opacity="0.55"/>
<circle cx="349.35" cy="69.5" r="1.83" fill="#2e1a84" filter="url(#b1)" opacity="0.55"/>
<circle cx="347.99" cy="69.61" r="1.54" fill="#2e1a84" filter="url(#b1)" opacity="0.55"/>
<circle cx="349.62" cy="71.6" r="1.69" fill="#2e1a84" filter="url(#b1)" opacity="0.55"/>
<circle cx="348.3" cy="69.6" r="5.3" fill="none" stroke="#e8c818" stroke-width="0.8" filter="url(#b3)" opacity="1"/>
<circle cx="316" cy="69.6" r="4.1" fill="#4a2cba" filter="url(#b3)" opacity="1"/>
<circle cx="315.34" cy="69.86" r="1.6" fill="#2e1a84" filter="url(#b1)" opacity="0.55"/>
<circle cx="317.34" cy="68.6" r="1.29" fill="#2e1a84" filter="url(#b1)" opacity="0.55"/>
<circle cx="314.63" cy="69.65" r="1.23" fill="#2e1a84" filter="url(#b1)" opacity="0.55"/>
<circle cx="315" cy="67.77" r="1.08" fill="#2e1a84" filter="url(#b1)" opacity="0.55"/>
<circle cx="325.5" cy="77.5" r="4.5" fill="#4a2cba" filter="url(#b3)" opacity="1"/>
<circle cx="324.89" cy="76.83" r="1.33" fill="#2e1a84" filter="url(#b1)" opacity="0.55"/>
<circle cx="325.39" cy="77.43" r="1.8" fill="#2e1a84" filter="url(#b1)" opacity="0.55"/>
<circle cx="325.55" cy="77.52" r="1.38" fill="#2e1a84" filter="url(#b1)" opacity="0.55"/>
<circle cx="325.22" cy="77.48" r="1.32" fill="#2e1a84" filter="url(#b1)" opacity="0.55"/>
<circle cx="325.5" cy="77.5" r="5.2" fill="none" stroke="#d8b020" stroke-width="0.8" filter="url(#b3)" opacity="1"/>
<circle cx="344" cy="81" r="3.3" fill="#4a2cba" filter="url(#b3)" opacity="1"/>
<circle cx="343.84" cy="80.16" r="1.22" fill="#2e1a84" filter="url(#b1)" opacity="0.55"/>
<circle cx="344.53" cy="81.4" r="1.22" fill="#2e1a84" filter="url(#b1)" opacity="0.55"/>
<circle cx="343.34" cy="81.04" r="1.2" fill="#2e1a84" filter="url(#b1)" opacity="0.55"/>
<circle cx="345.3" cy="81.66" r="1.27" fill="#2e1a84" filter="url(#b1)" opacity="0.55"/>
<circle cx="340.8" cy="41.5" r="2.8" fill="#4a2cba" filter="url(#b3)" opacity="1"/>
<circle cx="339.92" cy="40.46" r="1.08" fill="#2e1a84" filter="url(#b1)" opacity="0.55"/>
<circle cx="340.78" cy="41.01" r="1.02" fill="#2e1a84" filter="url(#b1)" opacity="0.55"/>
<circle cx="341.36" cy="41.16" r="0.99" fill="#2e1a84" filter="url(#b1)" opacity="0.55"/>
<circle cx="339.62" cy="40.76" r="1.12" fill="#2e1a84" filter="url(#b1)" opacity="0.55"/>
<ellipse cx="320.5" cy="52.6" rx="1.6" ry="1" fill="#f2d21a" filter="url(#b3)" opacity="1"/>
<ellipse cx="323.5" cy="52.8" rx="1" ry="1" fill="#ffb000" filter="url(#b3)" opacity="1"/>
</g></g>
<clipPath id="c4"><rect x="229" y="83.5" width="40.3" height="40.3"/></clipPath>
<g clip-path="url(#c4)">
<rect x="229" y="83.5" width="40.3" height="40.3" fill="#060006"/>
<g>
<circle cx="234.9" cy="88.4" r="4.8" fill="#4a2cba" filter="url(#b3)" opacity="1"/>
<circle cx="236.35" cy="88.97" r="1.51" fill="#2e1a84" filter="url(#b1)" opacity="0.55"/>
<circle cx="233.57" cy="90.39" r="1.56" fill="#2e1a84" filter="url(#b1)" opacity="0.55"/>
<circle cx="234.72" cy="88.26" r="1.79" fill="#2e1a84" filter="url(#b1)" opacity="0.55"/>
<circle cx="235.3" cy="86.99" r="1.41" fill="#2e1a84" filter="url(#b1)" opacity="0.55"/>
<ellipse cx="230.85" cy="86.45" rx="0.79" ry="0.79" fill="#f03020" filter="url(#b3)" opacity="0.9"/>
<ellipse cx="236.22" cy="93.08" rx="0.9" ry="0.9" fill="#f03020" filter="url(#b3)" opacity="0.9"/>
<ellipse cx="232.49" cy="84.92" rx="0.76" ry="0.76" fill="#f03020" filter="url(#b3)" opacity="0.9"/>
<ellipse cx="232.87" cy="92.21" rx="0.95" ry="0.95" fill="#f03020" filter="url(#b3)" opacity="0.9"/>
<ellipse cx="239.02" cy="88.31" rx="0.91" ry="0.91" fill="#f03020" filter="url(#b3)" opacity="0.9"/>
<circle cx="245.3" cy="91" r="4.9" fill="#4a2cba" filter="url(#b3)" opacity="1"/>
<circle cx="247.67" cy="89.87" r="1.78" fill="#2e1a84" filter="url(#b1)" opacity="0.55"/>
<circle cx="244.36" cy="90.45" r="1.54" fill="#2e1a84" filter="url(#b1)" opacity="0.55"/>
<circle cx="245.1" cy="90.07" r="1.9" fill="#2e1a84" filter="url(#b1)" opacity="0.55"/>
<circle cx="246.4" cy="91.56" r="1.23" fill="#2e1a84" filter="url(#b1)" opacity="0.55"/>
<ellipse cx="240.8" cy="92.39" rx="0.94" ry="0.94" fill="#f03020" filter="url(#b3)" opacity="0.9"/>
<ellipse cx="240.75" cy="92" rx="0.79" ry="0.79" fill="#f03020" filter="url(#b3)" opacity="0.9"/>
<ellipse cx="247.16" cy="95.28" rx="0.81" ry="0.81" fill="#f03020" filter="url(#b3)" opacity="0.9"/>
<ellipse cx="246.44" cy="86.9" rx="0.66" ry="0.66" fill="#f03020" filter="url(#b3)" opacity="0.9"/>
<ellipse cx="249.48" cy="93.67" rx="0.84" ry="0.84" fill="#f03020" filter="url(#b3)" opacity="0.9"/>
<circle cx="256.3" cy="87.6" r="4.7" fill="#4a2cba" filter="url(#b3)" opacity="1"/>
<circle cx="256.32" cy="87.55" r="1.6" fill="#2e1a84" filter="url(#b1)" opacity="0.55"/>
<circle cx="256.28" cy="87.33" r="1.22" fill="#2e1a84" filter="url(#b1)" opacity="0.55"/>
<circle cx="254.99" cy="88.39" r="1.63" fill="#2e1a84" filter="url(#b1)" opacity="0.55"/>
<circle cx="254.87" cy="89.5" r="1.58" fill="#2e1a84" filter="url(#b1)" opacity="0.55"/>
<ellipse cx="251.75" cy="88.33" rx="0.82" ry="0.82" fill="#f03020" filter="url(#b3)" opacity="0.9"/>
<ellipse cx="258.8" cy="90.73" rx="0.69" ry="0.69" fill="#f03020" filter="url(#b3)" opacity="0.9"/>
<ellipse cx="255.58" cy="92.3" rx="0.84" ry="0.84" fill="#f03020" filter="url(#b3)" opacity="0.9"/>
<ellipse cx="252.67" cy="84.91" rx="0.82" ry="0.82" fill="#f03020" filter="url(#b3)" opacity="0.9"/>
<ellipse cx="259" cy="91.09" rx="0.6" ry="0.6" fill="#f03020" filter="url(#b3)" opacity="0.9"/>
<circle cx="267.6" cy="97.9" r="4.8" fill="#4a2cba" filter="url(#b3)" opacity="1"/>
<circle cx="267.77" cy="99.06" r="1.43" fill="#2e1a84" filter="url(#b1)" opacity="0.55"/>
<circle cx="267.27" cy="98.27" r="1.3" fill="#2e1a84" filter="url(#b1)" opacity="0.55"/>
<circle cx="267.87" cy="98.47" r="1.57" fill="#2e1a84" filter="url(#b1)" opacity="0.55"/>
<circle cx="266.9" cy="99.48" r="1.57" fill="#2e1a84" filter="url(#b1)" opacity="0.55"/>
<ellipse cx="267.33" cy="102.63" rx="0.83" ry="0.83" fill="#f03020" filter="url(#b3)" opacity="0.9"/>
<ellipse cx="270.09" cy="94.44" rx="0.63" ry="0.63" fill="#f03020" filter="url(#b3)" opacity="0.9"/>
<ellipse cx="270.19" cy="101.33" rx="0.86" ry="0.86" fill="#f03020" filter="url(#b3)" opacity="0.9"/>
<ellipse cx="270.74" cy="101.25" rx="0.62" ry="0.62" fill="#f03020" filter="url(#b3)" opacity="0.9"/>
<ellipse cx="266.36" cy="102.22" rx="0.9" ry="0.9" fill="#f03020" filter="url(#b3)" opacity="0.9"/>
<circle cx="234.9" cy="102.8" r="4.9" fill="#4a2cba" filter="url(#b3)" opacity="1"/>
<circle cx="233.29" cy="102.59" r="1.69" fill="#2e1a84" filter="url(#b1)" opacity="0.55"/>
<circle cx="237.04" cy="101.74" r="1.33" fill="#2e1a84" filter="url(#b1)" opacity="0.55"/>
<circle cx="235.01" cy="102.77" r="1.5" fill="#2e1a84" filter="url(#b1)" opacity="0.55"/>
<circle cx="236.04" cy="103.7" r="1.53" fill="#2e1a84" filter="url(#b1)" opacity="0.55"/>
<ellipse cx="238.7" cy="105.82" rx="0.82" ry="0.82" fill="#f03020" filter="url(#b3)" opacity="0.9"/>
<ellipse cx="239.02" cy="101.18" rx="0.64" ry="0.64" fill="#f03020" filter="url(#b3)" opacity="0.9"/>
<ellipse cx="234.42" cy="98.01" rx="0.66" ry="0.66" fill="#f03020" filter="url(#b3)" opacity="0.9"/>
<ellipse cx="233.07" cy="98.63" rx="0.87" ry="0.87" fill="#f03020" filter="url(#b3)" opacity="0.9"/>
<ellipse cx="238.13" cy="105.77" rx="0.93" ry="0.93" fill="#f03020" filter="url(#b3)" opacity="0.9"/>
<circle cx="248.7" cy="102.8" r="5.2" fill="#4a2cba" filter="url(#b3)" opacity="1"/>
<circle cx="248.2" cy="103.76" r="1.41" fill="#2e1a84" filter="url(#b1)" opacity="0.55"/>
<circle cx="247.69" cy="103.49" r="1.33" fill="#2e1a84" filter="url(#b1)" opacity="0.55"/>
<circle cx="249.16" cy="102.83" r="1.95" fill="#2e1a84" filter="url(#b1)" opacity="0.55"/>
<circle cx="248.86" cy="102.25" r="1.82" fill="#2e1a84" filter="url(#b1)" opacity="0.55"/>
<ellipse cx="253.03" cy="101.84" rx="0.86" ry="0.86" fill="#f03020" filter="url(#b3)" opacity="0.9"/>
<ellipse cx="251.68" cy="107.36" rx="0.53" ry="0.53" fill="#f03020" filter="url(#b3)" opacity="0.9"/>
<ellipse cx="252.43" cy="99.28" rx="0.91" ry="0.91" fill="#f03020" filter="url(#b3)" opacity="0.9"/>
<ellipse cx="253.37" cy="102.79" rx="0.68" ry="0.68" fill="#f03020" filter="url(#b3)" opacity="0.9"/>
<ellipse cx="247.48" cy="98.25" rx="0.64" ry="0.64" fill="#f03020" filter="url(#b3)" opacity="0.9"/>
<circle cx="234.3" cy="116" r="4.9" fill="#4a2cba" filter="url(#b3)" opacity="1"/>
<circle cx="234.76" cy="115.75" r="1.59" fill="#2e1a84" filter="url(#b1)" opacity="0.55"/>
<circle cx="234.46" cy="116.06" r="1.84" fill="#2e1a84" filter="url(#b1)" opacity="0.55"/>
<circle cx="234.58" cy="115.85" r="1.45" fill="#2e1a84" filter="url(#b1)" opacity="0.55"/>
<circle cx="236" cy="116.74" r="1.49" fill="#2e1a84" filter="url(#b1)" opacity="0.55"/>
<ellipse cx="231.31" cy="119.54" rx="0.71" ry="0.71" fill="#f03020" filter="url(#b3)" opacity="0.9"/>
<ellipse cx="229.99" cy="117.5" rx="0.82" ry="0.82" fill="#f03020" filter="url(#b3)" opacity="0.9"/>
<ellipse cx="234.03" cy="120.78" rx="0.53" ry="0.53" fill="#f03020" filter="url(#b3)" opacity="0.9"/>
<ellipse cx="232.86" cy="120.26" rx="0.59" ry="0.59" fill="#f03020" filter="url(#b3)" opacity="0.9"/>
<ellipse cx="234.12" cy="111.53" rx="0.88" ry="0.88" fill="#f03020" filter="url(#b3)" opacity="0.9"/>
<circle cx="248.7" cy="116.2" r="4.9" fill="#4a2cba" filter="url(#b3)" opacity="1"/>
<circle cx="249.49" cy="115.37" r="1.27" fill="#2e1a84" filter="url(#b1)" opacity="0.55"/>
<circle cx="250.61" cy="114.47" r="1.6" fill="#2e1a84" filter="url(#b1)" opacity="0.55"/>
<circle cx="247.34" cy="113.93" r="1.72" fill="#2e1a84" filter="url(#b1)" opacity="0.55"/>
<circle cx="250.09" cy="118.28" r="1.66" fill="#2e1a84" filter="url(#b1)" opacity="0.55"/>
<ellipse cx="243.79" cy="115.52" rx="0.96" ry="0.96" fill="#f03020" filter="url(#b3)" opacity="0.9"/>
<ellipse cx="247.49" cy="120.96" rx="0.84" ry="0.84" fill="#f03020" filter="url(#b3)" opacity="0.9"/>
<ellipse cx="246.44" cy="112.57" rx="0.54" ry="0.54" fill="#f03020" filter="url(#b3)" opacity="0.9"/>
<ellipse cx="245.04" cy="119.46" rx="0.64" ry="0.64" fill="#f03020" filter="url(#b3)" opacity="0.9"/>
<ellipse cx="244.22" cy="116.15" rx="0.91" ry="0.91" fill="#f03020" filter="url(#b3)" opacity="0.9"/>
<circle cx="262.5" cy="113.2" r="5.2" fill="#4a2cba" filter="url(#b3)" opacity="1"/>
<circle cx="262.22" cy="113.36" r="1.52" fill="#2e1a84" filter="url(#b1)" opacity="0.55"/>
<circle cx="263.13" cy="113.73" r="1.51" fill="#2e1a84" filter="url(#b1)" opacity="0.55"/>
<circle cx="260.59" cy="112.19" r="1.49" fill="#2e1a84" filter="url(#b1)" opacity="0.55"/>
<circle cx="261.62" cy="113.55" r="1.63" fill="#2e1a84" filter="url(#b1)" opacity="0.55"/>
<ellipse cx="264.64" cy="117.84" rx="0.68" ry="0.68" fill="#f03020" filter="url(#b3)" opacity="0.9"/>
<ellipse cx="264.08" cy="117.87" rx="0.75" ry="0.75" fill="#f03020" filter="url(#b3)" opacity="0.9"/>
<ellipse cx="257.64" cy="113.82" rx="0.64" ry="0.64" fill="#f03020" filter="url(#b3)" opacity="0.9"/>
<ellipse cx="262.38" cy="118.34" rx="0.67" ry="0.67" fill="#f03020" filter="url(#b3)" opacity="0.9"/>
<ellipse cx="260.12" cy="108.54" rx="0.91" ry="0.91" fill="#f03020" filter="url(#b3)" opacity="0.9"/>
<circle cx="268" cy="123" r="3" fill="#4a2cba" filter="url(#b3)" opacity="1"/>
<circle cx="269.01" cy="121.71" r="0.84" fill="#2e1a84" filter="url(#b1)" opacity="0.55"/>
<circle cx="268.07" cy="123.6" r="0.86" fill="#2e1a84" filter="url(#b1)" opacity="0.55"/>
<circle cx="268.03" cy="123.86" r="0.9" fill="#2e1a84" filter="url(#b1)" opacity="0.55"/>
<circle cx="267.74" cy="123.26" r="0.99" fill="#2e1a84" filter="url(#b1)" opacity="0.55"/>
<ellipse cx="266.66" cy="120.29" rx="0.76" ry="0.76" fill="#f03020" filter="url(#b3)" opacity="0.9"/>
<ellipse cx="265.22" cy="122.8" rx="0.97" ry="0.97" fill="#f03020" filter="url(#b3)" opacity="0.9"/>
<ellipse cx="267.35" cy="125.56" rx="0.64" ry="0.64" fill="#f03020" filter="url(#b3)" opacity="0.9"/>
<ellipse cx="267.82" cy="125.74" rx="0.65" ry="0.65" fill="#f03020" filter="url(#b3)" opacity="0.9"/>
<ellipse cx="270.14" cy="124.72" rx="0.66" ry="0.66" fill="#f03020" filter="url(#b3)" opacity="0.9"/>
<ellipse cx="256.5" cy="84" rx="3" ry="1.8" fill="#f2d21a" filter="url(#b3)" opacity="1"/>
<ellipse cx="252" cy="107.5" rx="1.4" ry="1.2" fill="#ff80c0" filter="url(#b3)" opacity="1"/>
<ellipse cx="260.5" cy="113.5" rx="2.3" ry="3" fill="#f2d21a" filter="url(#b3)" opacity="0.9"/>
<ellipse cx="264" cy="114.5" rx="1.4" ry="1.4" fill="#ffb000" filter="url(#b3)" opacity="1"/>
<ellipse cx="235" cy="119" rx="1" ry="1" fill="#f08a12" filter="url(#b3)" opacity="1"/>
<ellipse cx="244" cy="103" rx="0.8" ry="0.8" fill="#f08a12" filter="url(#b3)" opacity="1"/>
<ellipse cx="245.5" cy="84.5" rx="0.7" ry="0.7" fill="#f08a12" filter="url(#b3)" opacity="1"/>
</g></g>
<clipPath id="c5"><rect x="271.1" y="83.5" width="39.8" height="40.3"/></clipPath>
<g clip-path="url(#c5)">
<rect x="271.1" y="83.5" width="39.8" height="40.3" fill="#060006"/>
<g>
<circle cx="283.8" cy="92.3" r="5.2" fill="#4a2cba" filter="url(#b3)" opacity="1"/>
<circle cx="284.1" cy="91.07" r="2.03" fill="#2e1a84" filter="url(#b1)" opacity="0.55"/>
<circle cx="282.84" cy="91.73" r="2.01" fill="#2e1a84" filter="url(#b1)" opacity="0.55"/>
<circle cx="284.02" cy="92.29" r="1.63" fill="#2e1a84" filter="url(#b1)" opacity="0.55"/>
<circle cx="281.64" cy="94.06" r="1.46" fill="#2e1a84" filter="url(#b1)" opacity="0.55"/>
<circle cx="283.8" cy="92.3" r="6.8" fill="none" stroke="#4cc63a" stroke-width="1.2" filter="url(#b3)" opacity="1"/>
<circle cx="296.9" cy="97.3" r="5" fill="#37258f" filter="url(#b3)" opacity="1"/>
<circle cx="298.76" cy="98.92" r="1.99" fill="#2e1a84" filter="url(#b1)" opacity="0.55"/>
<circle cx="296.78" cy="97.31" r="1.71" fill="#2e1a84" filter="url(#b1)" opacity="0.55"/>
<circle cx="295.15" cy="97.59" r="1.96" fill="#2e1a84" filter="url(#b1)" opacity="0.55"/>
<circle cx="297.62" cy="96.53" r="1.95" fill="#2e1a84" filter="url(#b1)" opacity="0.55"/>
<circle cx="296.9" cy="97.3" r="6" fill="none" stroke="#4cc63a" stroke-width="1.4" filter="url(#b3)" opacity="1"/>
<circle cx="306.8" cy="89.5" r="4.6" fill="#4a2cba" filter="url(#b3)" opacity="1"/>
<circle cx="306.97" cy="91.87" r="1.17" fill="#2e1a84" filter="url(#b1)" opacity="0.55"/>
<circle cx="306.95" cy="88.99" r="1.52" fill="#2e1a84" filter="url(#b1)" opacity="0.55"/>
<circle cx="306.38" cy="89.38" r="1.57" fill="#2e1a84" filter="url(#b1)" opacity="0.55"/>
<circle cx="304.67" cy="90.26" r="1.78" fill="#2e1a84" filter="url(#b1)" opacity="0.55"/>
<ellipse cx="309.11" cy="93.41" rx="0.65" ry="0.65" fill="#ee1c25" filter="url(#b3)" opacity="1"/>
<ellipse cx="302.73" cy="90.04" rx="0.71" ry="0.71" fill="#ee1c25" filter="url(#b3)" opacity="1"/>
<ellipse cx="308.36" cy="85.4" rx="0.6" ry="0.6" fill="#ee1c25" filter="url(#b3)" opacity="1"/>
<ellipse cx="307.14" cy="93.4" rx="0.55" ry="0.55" fill="#ee1c25" filter="url(#b3)" opacity="1"/>
<ellipse cx="303.38" cy="87.47" rx="0.71" ry="0.71" fill="#ee1c25" filter="url(#b3)" opacity="1"/>
<circle cx="306.8" cy="102.2" r="4.6" fill="#4a2cba" filter="url(#b3)" opacity="1"/>
<circle cx="307.51" cy="101.17" r="1.69" fill="#2e1a84" filter="url(#b1)" opacity="0.55"/>
<circle cx="308.88" cy="102.87" r="1.17" fill="#2e1a84" filter="url(#b1)" opacity="0.55"/>
<circle cx="307.04" cy="103.62" r="1.27" fill="#2e1a84" filter="url(#b1)" opacity="0.55"/>
<circle cx="308.05" cy="100.88" r="1.8" fill="#2e1a84" filter="url(#b1)" opacity="0.55"/>
<ellipse cx="310.7" cy="101.15" rx="0.43" ry="0.43" fill="#ee1c25" filter="url(#b3)" opacity="1"/>
<ellipse cx="310.88" cy="102.16" rx="0.46" ry="0.46" fill="#ee1c25" filter="url(#b3)" opacity="1"/>
<ellipse cx="304.35" cy="98.76" rx="0.74" ry="0.74" fill="#ee1c25" filter="url(#b3)" opacity="1"/>
<ellipse cx="307.35" cy="106.96" rx="0.54" ry="0.54" fill="#ee1c25" filter="url(#b3)" opacity="1"/>
<ellipse cx="302.96" cy="99.37" rx="0.67" ry="0.67" fill="#ee1c25" filter="url(#b3)" opacity="1"/>
<circle cx="273" cy="89" r="4.6" fill="#4a2cba" filter="url(#b3)" opacity="1"/>
<circle cx="272.4" cy="89.83" r="1.49" fill="#2e1a84" filter="url(#b1)" opacity="0.55"/>
<circle cx="273.92" cy="86.89" r="1.75" fill="#2e1a84" filter="url(#b1)" opacity="0.55"/>
<circle cx="271.36" cy="87.71" r="1.82" fill="#2e1a84" filter="url(#b1)" opacity="0.55"/>
<circle cx="272.83" cy="89.03" r="1.5" fill="#2e1a84" filter="url(#b1)" opacity="0.55"/>
<circle cx="273" cy="102.2" r="4.6" fill="#4a2cba" filter="url(#b3)" opacity="1"/>
<circle cx="271.47" cy="101.49" r="1.23" fill="#2e1a84" filter="url(#b1)" opacity="0.55"/>
<circle cx="275.16" cy="102.34" r="1.21" fill="#2e1a84" filter="url(#b1)" opacity="0.55"/>
<circle cx="272.93" cy="103.34" r="1.22" fill="#2e1a84" filter="url(#b1)" opacity="0.55"/>
<circle cx="273.43" cy="100.44" r="1.68" fill="#2e1a84" filter="url(#b1)" opacity="0.55"/>
<circle cx="287.3" cy="107.6" r="4.9" fill="#4a2cba" filter="url(#b3)" opacity="1"/>
<circle cx="287.97" cy="105.83" r="1.61" fill="#2e1a84" filter="url(#b1)" opacity="0.55"/>
<circle cx="287.39" cy="107.36" r="1.46" fill="#2e1a84" filter="url(#b1)" opacity="0.55"/>
<circle cx="288.16" cy="106.84" r="1.33" fill="#2e1a84" filter="url(#b1)" opacity="0.55"/>
<circle cx="285.66" cy="106.37" r="1.66" fill="#2e1a84" filter="url(#b1)" opacity="0.55"/>
<circle cx="287.3" cy="107.6" r="5.8" fill="none" stroke="#4cc63a" stroke-width="1.3" filter="url(#b3)" opacity="1"/>
<circle cx="297.7" cy="115.2" r="5.3" fill="#37258f" filter="url(#b3)" opacity="1"/>
<circle cx="297.74" cy="115.33" r="1.34" fill="#2e1a84" filter="url(#b1)" opacity="0.55"/>
<circle cx="298.32" cy="115.18" r="1.73" fill="#2e1a84" filter="url(#b1)" opacity="0.55"/>
<circle cx="299.92" cy="115.93" r="1.74" fill="#2e1a84" filter="url(#b1)" opacity="0.55"/>
<circle cx="296.29" cy="117.12" r="1.42" fill="#2e1a84" filter="url(#b1)" opacity="0.55"/>
<circle cx="297.7" cy="115.2" r="6.3" fill="none" stroke="#4cc63a" stroke-width="1.3" filter="url(#b3)" opacity="1"/>
<ellipse cx="295.5" cy="114.5" rx="1.4" ry="1.8" fill="#ee1c25" filter="url(#b3)" opacity="1"/>
<ellipse cx="300.5" cy="113" rx="1" ry="1" fill="#ff60a0" filter="url(#b3)" opacity="1"/>
<ellipse cx="301" cy="117.5" rx="0.9" ry="0.9" fill="#f2d21a" filter="url(#b3)" opacity="1"/>
<circle cx="276.9" cy="113.2" r="4.6" fill="#4a2cba" filter="url(#b3)" opacity="1"/>
<circle cx="277.53" cy="111.54" r="1.51" fill="#2e1a84" filter="url(#b1)" opacity="0.55"/>
<circle cx="276.98" cy="112.98" r="1.37" fill="#2e1a84" filter="url(#b1)" opacity="0.55"/>
<circle cx="277.71" cy="112.49" r="1.25" fill="#2e1a84" filter="url(#b1)" opacity="0.55"/>
<circle cx="275.36" cy="112.04" r="1.55" fill="#2e1a84" filter="url(#b1)" opacity="0.55"/>
<circle cx="286.5" cy="123.5" r="4" fill="#4a2cba" filter="url(#b3)" opacity="1"/>
<circle cx="287.99" cy="124.96" r="1.29" fill="#2e1a84" filter="url(#b1)" opacity="0.55"/>
<circle cx="286.55" cy="125.07" r="1.14" fill="#2e1a84" filter="url(#b1)" opacity="0.55"/>
<circle cx="288.15" cy="123.69" r="1.12" fill="#2e1a84" filter="url(#b1)" opacity="0.55"/>
<circle cx="286.26" cy="122.97" r="1.37" fill="#2e1a84" filter="url(#b1)" opacity="0.55"/>
<circle cx="272" cy="122.5" r="3" fill="#4a2cba" filter="url(#b3)" opacity="1"/>
<circle cx="271.31" cy="122.17" r="0.82" fill="#2e1a84" filter="url(#b1)" opacity="0.55"/>
<circle cx="271.86" cy="124.11" r="1.09" fill="#2e1a84" filter="url(#b1)" opacity="0.55"/>
<circle cx="271.02" cy="122.66" r="1.08" fill="#2e1a84" filter="url(#b1)" opacity="0.55"/>
<circle cx="271.52" cy="122.04" r="1.17" fill="#2e1a84" filter="url(#b1)" opacity="0.55"/>
</g></g>
<clipPath id="c6"><rect x="312.8" y="83.5" width="40.7" height="40.3"/></clipPath>
<g clip-path="url(#c6)">
<rect x="312.8" y="83.5" width="40.7" height="40.3" fill="#060006"/>
<g>
<circle cx="319" cy="90.3" r="5" fill="#4a2cba" filter="url(#b3)" opacity="1"/>
<circle cx="318.95" cy="90.58" r="1.76" fill="#2e1a84" filter="url(#b1)" opacity="0.55"/>
<circle cx="318.62" cy="90.28" r="1.61" fill="#2e1a84" filter="url(#b1)" opacity="0.55"/>
<circle cx="320.08" cy="90.28" r="1.45" fill="#2e1a84" filter="url(#b1)" opacity="0.55"/>
<circle cx="318.71" cy="90.5" r="1.92" fill="#2e1a84" filter="url(#b1)" opacity="0.55"/>
<path d="M321.9,85.28 A5.8,5.8 0 0 1 316.1,95.32" fill="none" stroke="#4cc63a" stroke-width="1" filter="url(#b3)" opacity="1"/>
<ellipse cx="315.8" cy="91.5" rx="2" ry="2.8" fill="#ee1c25" filter="url(#b3)" opacity="1"/>
<ellipse cx="318.5" cy="95" rx="1.8" ry="1.3" fill="#ee1c25" filter="url(#b3)" opacity="1"/>
<circle cx="331" cy="97.8" r="5.2" fill="#37258f" filter="url(#b3)" opacity="1"/>
<circle cx="331.73" cy="99.51" r="1.4" fill="#2e1a84" filter="url(#b1)" opacity="0.55"/>
<circle cx="328.88" cy="98.92" r="1.49" fill="#2e1a84" filter="url(#b1)" opacity="0.55"/>
<circle cx="331.35" cy="97.18" r="2.01" fill="#2e1a84" filter="url(#b1)" opacity="0.55"/>
<circle cx="328.93" cy="98.61" r="1.93" fill="#2e1a84" filter="url(#b1)" opacity="0.55"/>
<circle cx="331" cy="97.8" r="6.3" fill="none" stroke="#4cc63a" stroke-width="1.1" filter="url(#b3)" opacity="1"/>
<ellipse cx="335.7" cy="98.16" rx="0.51" ry="0.51" fill="#ee1c25" filter="url(#b3)" opacity="1"/>
<ellipse cx="329.09" cy="93.46" rx="0.42" ry="0.42" fill="#ee1c25" filter="url(#b3)" opacity="1"/>
<ellipse cx="331.62" cy="103.17" rx="0.43" ry="0.43" fill="#ee1c25" filter="url(#b3)" opacity="1"/>
<ellipse cx="330.69" cy="92.5" rx="0.43" ry="0.43" fill="#ee1c25" filter="url(#b3)" opacity="1"/>
<ellipse cx="326.05" cy="96.67" rx="0.52" ry="0.52" fill="#ee1c25" filter="url(#b3)" opacity="1"/>
<circle cx="344.8" cy="97.8" r="5.2" fill="#37258f" filter="url(#b3)" opacity="1"/>
<circle cx="342.14" cy="97.19" r="1.49" fill="#2e1a84" filter="url(#b1)" opacity="0.55"/>
<circle cx="346.25" cy="98.85" r="1.81" fill="#2e1a84" filter="url(#b1)" opacity="0.55"/>
<circle cx="344.37" cy="98.13" r="2.07" fill="#2e1a84" filter="url(#b1)" opacity="0.55"/>
<circle cx="344.16" cy="98.22" r="1.97" fill="#2e1a84" filter="url(#b1)" opacity="0.55"/>
<circle cx="344.8" cy="97.8" r="6.3" fill="none" stroke="#4cc63a" stroke-width="1.1" filter="url(#b3)" opacity="1"/>
<ellipse cx="349.06" cy="100.05" rx="0.49" ry="0.49" fill="#ee1c25" filter="url(#b3)" opacity="1"/>
<ellipse cx="348.95" cy="94.79" rx="0.62" ry="0.62" fill="#ee1c25" filter="url(#b3)" opacity="1"/>
<ellipse cx="348.95" cy="100.83" rx="0.66" ry="0.66" fill="#ee1c25" filter="url(#b3)" opacity="1"/>
<ellipse cx="339.25" cy="97" rx="0.68" ry="0.68" fill="#ee1c25" filter="url(#b3)" opacity="1"/>
<circle cx="344" cy="86.6" r="3.8" fill="#4a2cba" filter="url(#b3)" opacity="1"/>
<circle cx="344.13" cy="86.9" r="1.34" fill="#2e1a84" filter="url(#b1)" opacity="0.55"/>
<circle cx="343.7" cy="87.46" r="1.24" fill="#2e1a84" filter="url(#b1)" opacity="0.55"/>
<circle cx="344.04" cy="86.18" r="1.04" fill="#2e1a84" filter="url(#b1)" opacity="0.55"/>
<circle cx="343.81" cy="86.26" r="1.31" fill="#2e1a84" filter="url(#b1)" opacity="0.55"/>
<circle cx="322" cy="109.7" r="5" fill="#37258f" filter="url(#b3)" opacity="1"/>
<circle cx="322.24" cy="112.36" r="1.55" fill="#2e1a84" filter="url(#b1)" opacity="0.55"/>
<circle cx="322.73" cy="109.28" r="1.93" fill="#2e1a84" filter="url(#b1)" opacity="0.55"/>
<circle cx="322.31" cy="112.23" r="1.49" fill="#2e1a84" filter="url(#b1)" opacity="0.55"/>
<circle cx="321.38" cy="107.53" r="1.94" fill="#2e1a84" filter="url(#b1)" opacity="0.55"/>
<circle cx="322" cy="109.7" r="6" fill="none" stroke="#4cc63a" stroke-width="1.1" filter="url(#b3)" opacity="1"/>
<ellipse cx="321" cy="106" rx="2" ry="1.5" fill="#ee1c25" filter="url(#b3)" opacity="1"/>
<ellipse cx="318.5" cy="111.5" rx="1" ry="1" fill="#f08a12" filter="url(#b3)" opacity="1"/>
<circle cx="337.9" cy="110.5" r="5.4" fill="#37258f" filter="url(#b3)" opacity="1"/>
<circle cx="337.99" cy="111.77" r="1.97" fill="#2e1a84" filter="url(#b1)" opacity="0.55"/>
<circle cx="337.4" cy="111.95" r="1.37" fill="#2e1a84" filter="url(#b1)" opacity="0.55"/>
<circle cx="335.16" cy="110.3" r="1.99" fill="#2e1a84" filter="url(#b1)" opacity="0.55"/>
<circle cx="336.77" cy="108.62" r="1.99" fill="#2e1a84" filter="url(#b1)" opacity="0.55"/>
<circle cx="337.9" cy="110.5" r="6.4" fill="none" stroke="#4cc63a" stroke-width="1.1" filter="url(#b3)" opacity="1"/>
<circle cx="350.5" cy="110.5" r="3.8" fill="#4a2cba" filter="url(#b3)" opacity="1"/>
<circle cx="349.12" cy="110.54" r="1.11" fill="#2e1a84" filter="url(#b1)" opacity="0.55"/>
<circle cx="349.86" cy="110.98" r="1.37" fill="#2e1a84" filter="url(#b1)" opacity="0.55"/>
<circle cx="350.78" cy="111.82" r="1.31" fill="#2e1a84" filter="url(#b1)" opacity="0.55"/>
<circle cx="351.04" cy="109.71" r="1.2" fill="#2e1a84" filter="url(#b1)" opacity="0.55"/>
<ellipse cx="349.5" cy="111.5" rx="1.8" ry="2.4" fill="#ee1c25" filter="url(#b3)" opacity="0.9"/>
<circle cx="330.3" cy="122.5" r="4" fill="#4a2cba" filter="url(#b3)" opacity="1"/>
<circle cx="329.3" cy="122.17" r="1.42" fill="#2e1a84" filter="url(#b1)" opacity="0.55"/>
<circle cx="329.06" cy="123.13" r="1.11" fill="#2e1a84" filter="url(#b1)" opacity="0.55"/>
<circle cx="331.15" cy="121.52" r="1" fill="#2e1a84" filter="url(#b1)" opacity="0.55"/>
<circle cx="331.18" cy="122.48" r="1.09" fill="#2e1a84" filter="url(#b1)" opacity="0.55"/>
<ellipse cx="332.5" cy="119.5" rx="0.8" ry="0.8" fill="#f08a12" filter="url(#b3)" opacity="1"/>
<ellipse cx="313.5" cy="101.5" rx="1" ry="2.5" fill="#4cc63a" filter="url(#b3)" opacity="1"/>
<ellipse cx="316" cy="123" rx="2" ry="1.2" fill="#ee1c25" filter="url(#b3)" opacity="0.8"/>
<rect x="344" y="119.3" width="7" height="1.7" fill="#fff"/>
</g></g>
<clipPath id="c7"><rect x="388.3" y="41.2" width="40.5" height="40.2"/></clipPath>
<g clip-path="url(#c7)">
<rect x="388.3" y="41.2" width="40.5" height="40.2" fill="#060006"/>
<g>
<ellipse cx="397.06" cy="58.26" rx="1.79" ry="1.74" fill="#3cbf3c" filter="url(#b1)" opacity="0.95"/>
<ellipse cx="395.97" cy="62.47" rx="1.16" ry="0.8" fill="#3cbf3c" filter="url(#b1)" opacity="0.95"/>
<ellipse cx="398.22" cy="68.96" rx="1.16" ry="1.15" fill="#3cbf3c" filter="url(#b1)" opacity="0.95"/>
<ellipse cx="405.06" cy="73.38" rx="1.05" ry="0.96" fill="#3cbf3c" filter="url(#b1)" opacity="0.95"/>
<ellipse cx="397.18" cy="66.14" rx="1.25" ry="1.07" fill="#3cbf3c" filter="url(#b1)" opacity="0.95"/>
<ellipse cx="397.18" cy="64.67" rx="1.34" ry="0.97" fill="#3cbf3c" filter="url(#b1)" opacity="0.95"/>
<ellipse cx="403.21" cy="73.74" rx="1.55" ry="1.34" fill="#3cbf3c" filter="url(#b1)" opacity="0.95"/>
<ellipse cx="403.33" cy="49.44" rx="1.3" ry="1" fill="#3cbf3c" filter="url(#b1)" opacity="0.95"/>
<ellipse cx="396.4" cy="64.86" rx="0.99" ry="0.77" fill="#3cbf3c" filter="url(#b1)" opacity="0.95"/>
<ellipse cx="396.53" cy="59.9" rx="1" ry="0.88" fill="#3cbf3c" filter="url(#b1)" opacity="0.95"/>
<ellipse cx="407.06" cy="74.64" rx="1.11" ry="0.68" fill="#3cbf3c" filter="url(#b1)" opacity="0.95"/>
<ellipse cx="401.73" cy="71.19" rx="1.11" ry="0.97" fill="#3cbf3c" filter="url(#b1)" opacity="0.95"/>
<ellipse cx="399.06" cy="53.25" rx="1.53" ry="1.21" fill="#3cbf3c" filter="url(#b1)" opacity="0.95"/>
<ellipse cx="395.54" cy="61.26" rx="1.24" ry="1.18" fill="#3cbf3c" filter="url(#b1)" opacity="0.95"/>
<ellipse cx="414.27" cy="48.14" rx="0.8" ry="0.71" fill="#8ccc3a" filter="url(#b1)" opacity="0.95"/>
<ellipse cx="419.51" cy="51.97" rx="1.07" ry="0.88" fill="#8ccc3a" filter="url(#b1)" opacity="0.95"/>
<ellipse cx="412.78" cy="47.88" rx="1.07" ry="0.87" fill="#8ccc3a" filter="url(#b1)" opacity="0.95"/>
<ellipse cx="422.26" cy="54.79" rx="0.93" ry="0.64" fill="#8ccc3a" filter="url(#b1)" opacity="0.95"/>
<ellipse cx="414.1" cy="47.73" rx="1.11" ry="0.94" fill="#8ccc3a" filter="url(#b1)" opacity="0.95"/>
<ellipse cx="399" cy="53.8" rx="2.8" ry="3.3" fill="#e04a12" filter="url(#b1)" opacity="1"/>
<path d="M422.93,61 C422.98,63.15 422.35,65.57 421.34,67.55 C420.32,69.52 418.72,71.76 416.83,72.83 C414.94,73.9 412.22,74.04 410,73.95 C407.78,73.85 405.39,73.33 403.49,72.27 C401.6,71.21 399.62,69.45 398.62,67.57 C397.62,65.69 397.47,63.18 397.49,61 C397.51,58.82 397.74,56.4 398.73,54.49 C399.71,52.59 401.52,50.72 403.4,49.57 C405.28,48.41 407.87,47.42 410,47.54 C412.13,47.66 414.35,49.1 416.18,50.29 C418.02,51.48 419.87,52.87 420.99,54.65 C422.12,56.44 422.87,58.85 422.93,61Z" fill="#4a36b8" filter="url(#b1)" opacity="1"/>
<ellipse cx="411.38" cy="58.38" rx="3.79" ry="3.79" fill="#33248e" filter="url(#b1)" opacity="0.55"/>
<ellipse cx="405.6" cy="61.17" rx="3.15" ry="3.15" fill="#33248e" filter="url(#b1)" opacity="0.55"/>
<ellipse cx="411.36" cy="63.46" rx="2.77" ry="2.77" fill="#33248e" filter="url(#b1)" opacity="0.55"/>
<ellipse cx="410.83" cy="67.48" rx="2.76" ry="2.76" fill="#33248e" filter="url(#b1)" opacity="0.55"/>
<ellipse cx="407.42" cy="63.32" rx="2.38" ry="2.38" fill="#33248e" filter="url(#b1)" opacity="0.55"/>
<ellipse cx="408.24" cy="52.85" rx="2.63" ry="2.63" fill="#33248e" filter="url(#b1)" opacity="0.55"/>
<ellipse cx="411.25" cy="57.47" rx="3.43" ry="3.43" fill="#33248e" filter="url(#b1)" opacity="0.55"/>
<ellipse cx="410" cy="61" rx="9.5" ry="9" fill="#a82a9a" filter="url(#b2)" opacity="0.55"/>
<ellipse cx="409.49" cy="70.07" rx="1.03" ry="1.15" fill="#e8206a" filter="url(#b3)" opacity="0.75"/>
<ellipse cx="412.56" cy="67" rx="0.65" ry="0.47" fill="#e8206a" filter="url(#b3)" opacity="0.75"/>
<ellipse cx="409.42" cy="55.22" rx="0.92" ry="0.67" fill="#e8206a" filter="url(#b3)" opacity="0.75"/>
<ellipse cx="407.85" cy="68.46" rx="1.14" ry="1.1" fill="#e8206a" filter="url(#b3)" opacity="0.75"/>
<ellipse cx="416.8" cy="61.62" rx="0.65" ry="0.72" fill="#e8206a" filter="url(#b3)" opacity="0.75"/>
<ellipse cx="413.54" cy="52.02" rx="1.13" ry="1.19" fill="#e8206a" filter="url(#b3)" opacity="0.75"/>
<ellipse cx="419.12" cy="58" rx="0.72" ry="0.8" fill="#e8206a" filter="url(#b3)" opacity="0.75"/>
<ellipse cx="400.61" cy="61.78" rx="0.95" ry="0.81" fill="#e8206a" filter="url(#b3)" opacity="0.75"/>
<ellipse cx="404.9" cy="66.84" rx="0.77" ry="0.51" fill="#e8206a" filter="url(#b3)" opacity="0.75"/>
<ellipse cx="414.08" cy="52.29" rx="1.25" ry="1.27" fill="#e8206a" filter="url(#b3)" opacity="0.75"/>
<ellipse cx="401.15" cy="57.86" rx="0.64" ry="0.64" fill="#e8206a" filter="url(#b3)" opacity="0.75"/>
<ellipse cx="404.23" cy="63.14" rx="0.69" ry="0.63" fill="#e8206a" filter="url(#b3)" opacity="0.75"/>
<ellipse cx="409.84" cy="68.92" rx="0.98" ry="0.82" fill="#e8206a" filter="url(#b3)" opacity="0.75"/>
<ellipse cx="415.51" cy="66.93" rx="0.71" ry="0.53" fill="#e8206a" filter="url(#b3)" opacity="0.75"/>
<ellipse cx="412.52" cy="67.94" rx="0.59" ry="0.59" fill="#e8206a" filter="url(#b3)" opacity="0.75"/>
<ellipse cx="417.21" cy="58.84" rx="1.06" ry="1.23" fill="#e8206a" filter="url(#b3)" opacity="0.75"/>
<ellipse cx="415.68" cy="62.58" rx="1.12" ry="1.24" fill="#e8206a" filter="url(#b3)" opacity="0.75"/>
<ellipse cx="406.13" cy="56.38" rx="0.84" ry="0.94" fill="#e8206a" filter="url(#b3)" opacity="0.75"/>
<ellipse cx="417.28" cy="54.68" rx="0.69" ry="0.76" fill="#e8206a" filter="url(#b3)" opacity="0.75"/>
<ellipse cx="403.48" cy="67.54" rx="0.64" ry="0.76" fill="#e8206a" filter="url(#b3)" opacity="0.75"/>
<ellipse cx="402.62" cy="55.39" rx="0.69" ry="0.67" fill="#e8206a" filter="url(#b3)" opacity="0.75"/>
<ellipse cx="402.47" cy="56.81" rx="0.8" ry="0.83" fill="#e8206a" filter="url(#b3)" opacity="0.75"/>
<ellipse cx="406.23" cy="66.84" rx="0.66" ry="0.67" fill="#e8206a" filter="url(#b3)" opacity="0.75"/>
<ellipse cx="414.94" cy="65.21" rx="0.59" ry="0.58" fill="#e8206a" filter="url(#b3)" opacity="0.75"/>
<ellipse cx="402.14" cy="58.11" rx="0.57" ry="0.49" fill="#e8206a" filter="url(#b3)" opacity="0.75"/>
<ellipse cx="406.95" cy="65.6" rx="0.54" ry="0.65" fill="#e8206a" filter="url(#b3)" opacity="0.75"/>
<ellipse cx="415.05" cy="65.83" rx="0.73" ry="0.7" fill="#e8206a" filter="url(#b3)" opacity="0.75"/>
<ellipse cx="417.05" cy="64.73" rx="0.8" ry="0.88" fill="#e8206a" filter="url(#b3)" opacity="0.75"/>
<ellipse cx="417.19" cy="61.26" rx="0.9" ry="1.06" fill="#e8206a" filter="url(#b3)" opacity="0.75"/>
<ellipse cx="402.04" cy="60.16" rx="1.02" ry="0.8" fill="#e8206a" filter="url(#b3)" opacity="0.75"/>
<ellipse cx="417.99" cy="62.61" rx="1.2" ry="1.25" fill="#e8206a" filter="url(#b3)" opacity="0.75"/>
<ellipse cx="409.53" cy="70.07" rx="1.15" ry="0.87" fill="#e8206a" filter="url(#b3)" opacity="0.75"/>
<ellipse cx="403.77" cy="57.16" rx="0.72" ry="0.55" fill="#e8206a" filter="url(#b3)" opacity="0.75"/>
<ellipse cx="412.09" cy="67.99" rx="0.57" ry="0.48" fill="#e8206a" filter="url(#b3)" opacity="0.75"/>
<ellipse cx="416.78" cy="66.39" rx="1.57" ry="1.83" fill="#d82a8a" filter="url(#b1)" opacity="0.5"/>
<ellipse cx="409.19" cy="67.07" rx="1.66" ry="1.65" fill="#d82a8a" filter="url(#b1)" opacity="0.5"/>
<ellipse cx="407.2" cy="69.1" rx="1.28" ry="1.37" fill="#d82a8a" filter="url(#b1)" opacity="0.5"/>
<ellipse cx="414.34" cy="64.99" rx="1.85" ry="1.51" fill="#d82a8a" filter="url(#b1)" opacity="0.5"/>
<ellipse cx="409.4" cy="70.12" rx="1.55" ry="1.07" fill="#d82a8a" filter="url(#b1)" opacity="0.5"/>
<ellipse cx="401.96" cy="58.31" rx="1.02" ry="1.02" fill="#d82a8a" filter="url(#b1)" opacity="0.5"/>
<ellipse cx="414.77" cy="65.65" rx="0.93" ry="0.67" fill="#d82a8a" filter="url(#b1)" opacity="0.5"/>
<ellipse cx="417" cy="60.03" rx="1.95" ry="1.68" fill="#d82a8a" filter="url(#b1)" opacity="0.5"/>
<ellipse cx="402.63" cy="55.09" rx="1.61" ry="1.07" fill="#d82a8a" filter="url(#b1)" opacity="0.5"/>
<ellipse cx="402.95" cy="56.58" rx="1.04" ry="0.69" fill="#d82a8a" filter="url(#b1)" opacity="0.5"/>
<ellipse cx="415.43" cy="55.55" rx="1.06" ry="0.92" fill="#d82a8a" filter="url(#b1)" opacity="0.5"/>
<ellipse cx="411.81" cy="69.93" rx="1.4" ry="0.93" fill="#d82a8a" filter="url(#b1)" opacity="0.5"/>
<ellipse cx="412.01" cy="56.59" rx="1.15" ry="0.71" fill="#d82a8a" filter="url(#b1)" opacity="0.5"/>
<ellipse cx="409.69" cy="55.95" rx="1.43" ry="0.94" fill="#d82a8a" filter="url(#b1)" opacity="0.5"/>
<ellipse cx="409.8" cy="60.5" rx="3.6" ry="3.4" fill="#3a2898" filter="url(#b1)" opacity="0.8"/>
<ellipse cx="419.8" cy="69.2" rx="2.3" ry="1.7" fill="#32c8f0" filter="url(#b1)" opacity="1"/>
<ellipse cx="401" cy="72.3" rx="2.6" ry="1.7" fill="#3cbf3c" filter="url(#b1)" opacity="1"/>
</g></g>
<clipPath id="c8"><rect x="430.3" y="41.2" width="39.4" height="40.2"/></clipPath>
<g clip-path="url(#c8)">
<rect x="430.3" y="41.2" width="39.4" height="40.2" fill="#060006"/>
<g>
<ellipse cx="463.21" cy="66.02" rx="0.91" ry="0.65" fill="#3cbf3c" filter="url(#b1)" opacity="0.95"/>
<ellipse cx="451.14" cy="46.36" rx="1.28" ry="1.15" fill="#3cbf3c" filter="url(#b1)" opacity="0.95"/>
<ellipse cx="437.13" cy="64.88" rx="1.39" ry="0.91" fill="#3cbf3c" filter="url(#b1)" opacity="0.95"/>
<ellipse cx="438.33" cy="54.9" rx="1.33" ry="0.91" fill="#3cbf3c" filter="url(#b1)" opacity="0.95"/>
<ellipse cx="446.43" cy="48.02" rx="1.14" ry="0.8" fill="#3cbf3c" filter="url(#b1)" opacity="0.95"/>
<ellipse cx="449.5" cy="73.67" rx="1.5" ry="1.3" fill="#3cbf3c" filter="url(#b1)" opacity="0.95"/>
<ellipse cx="464.58" cy="63.15" rx="0.97" ry="0.83" fill="#3cbf3c" filter="url(#b1)" opacity="0.95"/>
<ellipse cx="439.31" cy="68.13" rx="1.5" ry="1.37" fill="#3cbf3c" filter="url(#b1)" opacity="0.95"/>
<ellipse cx="445.39" cy="48.24" rx="0.98" ry="0.82" fill="#3cbf3c" filter="url(#b1)" opacity="0.95"/>
<ellipse cx="436.74" cy="57.37" rx="1.6" ry="1.08" fill="#3cbf3c" filter="url(#b1)" opacity="0.95"/>
<ellipse cx="438.88" cy="68.01" rx="1.24" ry="1.22" fill="#3cbf3c" filter="url(#b1)" opacity="0.95"/>
<ellipse cx="464.5" cy="61.65" rx="1.57" ry="1.54" fill="#3cbf3c" filter="url(#b1)" opacity="0.95"/>
<ellipse cx="437.54" cy="60.01" rx="1.37" ry="1" fill="#3cbf3c" filter="url(#b1)" opacity="0.95"/>
<ellipse cx="446.44" cy="47.73" rx="1.06" ry="0.88" fill="#3cbf3c" filter="url(#b1)" opacity="0.95"/>
<ellipse cx="452.74" cy="46.84" rx="1.37" ry="1.14" fill="#3cbf3c" filter="url(#b1)" opacity="0.95"/>
<ellipse cx="438.12" cy="58.53" rx="1.2" ry="1.14" fill="#3cbf3c" filter="url(#b1)" opacity="0.95"/>
<ellipse cx="436.63" cy="59.45" rx="1.65" ry="1.02" fill="#3cbf3c" filter="url(#b1)" opacity="0.95"/>
<ellipse cx="449.01" cy="46.85" rx="0.91" ry="0.63" fill="#3cbf3c" filter="url(#b1)" opacity="0.95"/>
<ellipse cx="437.18" cy="61.07" rx="1.59" ry="1.18" fill="#3cbf3c" filter="url(#b1)" opacity="0.95"/>
<ellipse cx="454.1" cy="47.23" rx="1.65" ry="1.63" fill="#3cbf3c" filter="url(#b1)" opacity="0.95"/>
<ellipse cx="458.46" cy="72.72" rx="1" ry="0.73" fill="#3cbf3c" filter="url(#b1)" opacity="0.95"/>
<ellipse cx="461.2" cy="51.49" rx="0.93" ry="0.56" fill="#3cbf3c" filter="url(#b1)" opacity="0.95"/>
<ellipse cx="456.01" cy="47.63" rx="1.23" ry="0.84" fill="#8ccc3a" filter="url(#b1)" opacity="0.95"/>
<ellipse cx="453.7" cy="46.36" rx="1.24" ry="1.17" fill="#8ccc3a" filter="url(#b1)" opacity="0.95"/>
<ellipse cx="438.46" cy="54.88" rx="1.07" ry="0.85" fill="#8ccc3a" filter="url(#b1)" opacity="0.95"/>
<ellipse cx="451.73" cy="46.3" rx="1.32" ry="1.25" fill="#8ccc3a" filter="url(#b1)" opacity="0.95"/>
<ellipse cx="444.27" cy="49.37" rx="1.27" ry="1.13" fill="#8ccc3a" filter="url(#b1)" opacity="0.95"/>
<ellipse cx="454.2" cy="48.14" rx="1.1" ry="0.77" fill="#8ccc3a" filter="url(#b1)" opacity="0.95"/>
<ellipse cx="447.6" cy="46.66" rx="1.12" ry="0.69" fill="#8ccc3a" filter="url(#b1)" opacity="0.95"/>
<ellipse cx="459.62" cy="49.24" rx="1.51" ry="0.93" fill="#8ccc3a" filter="url(#b1)" opacity="0.95"/>
<ellipse cx="442.75" cy="50.33" rx="1.62" ry="1.06" fill="#8ccc3a" filter="url(#b1)" opacity="0.95"/>
<ellipse cx="440.2" cy="52.92" rx="1.53" ry="1.04" fill="#8ccc3a" filter="url(#b1)" opacity="0.95"/>
<path d="M463.08,60.8 C463.15,62.97 463.09,65.54 462.11,67.45 C461.14,69.35 459.12,71.19 457.21,72.24 C455.29,73.29 452.75,73.86 450.6,73.77 C448.45,73.67 446.26,72.71 444.32,71.67 C442.38,70.63 440.15,69.34 438.95,67.53 C437.75,65.72 437.06,63.01 437.12,60.8 C437.18,58.59 438.16,56.17 439.32,54.29 C440.49,52.41 442.22,50.55 444.1,49.53 C445.98,48.52 448.5,48.1 450.6,48.21 C452.7,48.32 454.87,49.18 456.71,50.21 C458.56,51.24 460.62,52.64 461.68,54.4 C462.74,56.17 463.01,58.63 463.08,60.8Z" fill="#4a36b8" filter="url(#b1)" opacity="1"/>
<ellipse cx="455.59" cy="63.85" rx="2.73" ry="2.73" fill="#33248e" filter="url(#b1)" opacity="0.55"/>
<ellipse cx="455.84" cy="57.69" rx="2.97" ry="2.97" fill="#33248e" filter="url(#b1)" opacity="0.55"/>
<ellipse cx="453.87" cy="59.46" rx="3.6" ry="3.6" fill="#33248e" filter="url(#b1)" opacity="0.55"/>
<ellipse cx="444.8" cy="63.89" rx="3.84" ry="3.84" fill="#33248e" filter="url(#b1)" opacity="0.55"/>
<ellipse cx="452.7" cy="55.16" rx="3.52" ry="3.52" fill="#33248e" filter="url(#b1)" opacity="0.55"/>
<ellipse cx="455.19" cy="61.51" rx="3.63" ry="3.63" fill="#33248e" filter="url(#b1)" opacity="0.55"/>
<ellipse cx="450.69" cy="55.98" rx="2.4" ry="2.4" fill="#33248e" filter="url(#b1)" opacity="0.55"/>
<ellipse cx="448" cy="62" rx="7" ry="7.5" fill="#c02478" filter="url(#b2)" opacity="0.8"/>
<ellipse cx="455.87" cy="57.74" rx="1.18" ry="0.77" fill="#e8206a" filter="url(#b3)" opacity="0.8"/>
<ellipse cx="443.87" cy="58.48" rx="0.92" ry="0.63" fill="#e8206a" filter="url(#b3)" opacity="0.8"/>
<ellipse cx="450.52" cy="66.8" rx="0.7" ry="0.61" fill="#e8206a" filter="url(#b3)" opacity="0.8"/>
<ellipse cx="450.96" cy="61.89" rx="1.05" ry="0.9" fill="#e8206a" filter="url(#b3)" opacity="0.8"/>
<ellipse cx="441.24" cy="60.92" rx="0.8" ry="0.51" fill="#e8206a" filter="url(#b3)" opacity="0.8"/>
<ellipse cx="449.85" cy="55.12" rx="1.01" ry="0.99" fill="#e8206a" filter="url(#b3)" opacity="0.8"/>
<ellipse cx="453.53" cy="60.56" rx="1.09" ry="0.89" fill="#e8206a" filter="url(#b3)" opacity="0.8"/>
<ellipse cx="442.29" cy="58.48" rx="0.77" ry="0.5" fill="#e8206a" filter="url(#b3)" opacity="0.8"/>
<ellipse cx="441.39" cy="62.67" rx="0.97" ry="0.84" fill="#e8206a" filter="url(#b3)" opacity="0.8"/>
<ellipse cx="446.23" cy="58.67" rx="0.67" ry="0.53" fill="#e8206a" filter="url(#b3)" opacity="0.8"/>
<ellipse cx="450.01" cy="58.06" rx="0.62" ry="0.41" fill="#e8206a" filter="url(#b3)" opacity="0.8"/>
<ellipse cx="452.83" cy="62.58" rx="0.95" ry="1.04" fill="#e8206a" filter="url(#b3)" opacity="0.8"/>
<ellipse cx="445.99" cy="66.02" rx="0.75" ry="0.59" fill="#e8206a" filter="url(#b3)" opacity="0.8"/>
<ellipse cx="449.59" cy="55.3" rx="0.73" ry="0.48" fill="#e8206a" filter="url(#b3)" opacity="0.8"/>
<ellipse cx="450.01" cy="54.51" rx="1.14" ry="0.84" fill="#e8206a" filter="url(#b3)" opacity="0.8"/>
<ellipse cx="440.68" cy="59.2" rx="0.97" ry="1.13" fill="#e8206a" filter="url(#b3)" opacity="0.8"/>
<ellipse cx="452.67" cy="68.78" rx="0.58" ry="0.49" fill="#e8206a" filter="url(#b3)" opacity="0.8"/>
<ellipse cx="456.07" cy="62.62" rx="1.03" ry="1.23" fill="#e8206a" filter="url(#b3)" opacity="0.8"/>
<ellipse cx="451.3" cy="53.71" rx="0.93" ry="1.11" fill="#e8206a" filter="url(#b3)" opacity="0.8"/>
<ellipse cx="448.47" cy="56.5" rx="1.24" ry="1.03" fill="#e8206a" filter="url(#b3)" opacity="0.8"/>
<ellipse cx="449.32" cy="63.69" rx="0.88" ry="0.63" fill="#e8206a" filter="url(#b3)" opacity="0.8"/>
<ellipse cx="456.08" cy="58.14" rx="0.7" ry="0.46" fill="#e8206a" filter="url(#b3)" opacity="0.8"/>
<ellipse cx="445.06" cy="60.87" rx="0.93" ry="1.01" fill="#e8206a" filter="url(#b3)" opacity="0.8"/>
<ellipse cx="448.39" cy="67.02" rx="1.19" ry="1.03" fill="#e8206a" filter="url(#b3)" opacity="0.8"/>
<ellipse cx="444.08" cy="68.2" rx="1.13" ry="1.28" fill="#e8206a" filter="url(#b3)" opacity="0.8"/>
<ellipse cx="446.42" cy="56.45" rx="1.04" ry="1.14" fill="#e8206a" filter="url(#b3)" opacity="0.8"/>
<ellipse cx="445.84" cy="58.31" rx="0.75" ry="0.64" fill="#e8206a" filter="url(#b3)" opacity="0.8"/>
<ellipse cx="449.36" cy="55.21" rx="0.94" ry="1.03" fill="#e8206a" filter="url(#b3)" opacity="0.8"/>
<ellipse cx="453.75" cy="65.75" rx="0.78" ry="0.73" fill="#e8206a" filter="url(#b3)" opacity="0.8"/>
<ellipse cx="450.66" cy="57.86" rx="1.23" ry="0.79" fill="#e8206a" filter="url(#b3)" opacity="0.8"/>
<ellipse cx="442.71" cy="59.12" rx="0.71" ry="0.66" fill="#e8206a" filter="url(#b3)" opacity="0.8"/>
<ellipse cx="442.9" cy="62.54" rx="1.06" ry="0.64" fill="#e8206a" filter="url(#b3)" opacity="0.8"/>
<ellipse cx="443.1" cy="66.75" rx="0.64" ry="0.72" fill="#e8206a" filter="url(#b3)" opacity="0.8"/>
<ellipse cx="450.52" cy="68.22" rx="0.66" ry="0.58" fill="#e8206a" filter="url(#b3)" opacity="0.8"/>
<ellipse cx="446.35" cy="62.64" rx="1.04" ry="0.93" fill="#e8206a" filter="url(#b3)" opacity="0.8"/>
<ellipse cx="446.17" cy="55.71" rx="0.94" ry="0.86" fill="#e8206a" filter="url(#b3)" opacity="0.8"/>
<ellipse cx="458.3" cy="70.3" rx="2.5" ry="2.5" fill="#66e048" filter="url(#b3)" opacity="0.95"/>
<ellipse cx="462.8" cy="56" rx="1.7" ry="1.7" fill="#66e048" filter="url(#b3)" opacity="0.95"/>
<ellipse cx="463.2" cy="63" rx="1.6" ry="1.6" fill="#66e048" filter="url(#b3)" opacity="0.95"/>
<ellipse cx="441" cy="50.5" rx="1.6" ry="1.6" fill="#66e048" filter="url(#b3)" opacity="0.95"/>
<ellipse cx="452.5" cy="48.5" rx="1.7" ry="1.7" fill="#66e048" filter="url(#b3)" opacity="0.95"/>
<ellipse cx="438.8" cy="62" rx="1.3" ry="1.3" fill="#66e048" filter="url(#b3)" opacity="0.95"/>
<ellipse cx="450" cy="73.6" rx="1.5" ry="1.5" fill="#66e048" filter="url(#b3)" opacity="0.95"/>
<ellipse cx="440" cy="56" rx="1.8" ry="2.4" fill="#e04012" filter="url(#b1)" opacity="1"/>
<ellipse cx="443" cy="70" rx="1.4" ry="1.4" fill="#e04012" filter="url(#b1)" opacity="0.8"/>
</g></g>
<clipPath id="c9"><rect x="471.5" y="41.2" width="40.2" height="40.2"/></clipPath>
<g clip-path="url(#c9)">
<rect x="471.5" y="41.2" width="40.2" height="40.2" fill="#060006"/>
<g>
<ellipse cx="481.43" cy="68.77" rx="1.29" ry="1.01" fill="#3cbf3c" filter="url(#b1)" opacity="0.95"/>
<ellipse cx="494.57" cy="74.46" rx="1.11" ry="1.1" fill="#3cbf3c" filter="url(#b1)" opacity="0.95"/>
<ellipse cx="493.94" cy="75.04" rx="0.98" ry="0.77" fill="#3cbf3c" filter="url(#b1)" opacity="0.95"/>
<ellipse cx="479.09" cy="55.1" rx="1.57" ry="1.14" fill="#3cbf3c" filter="url(#b1)" opacity="0.95"/>
<ellipse cx="483.36" cy="48.96" rx="1.05" ry="0.97" fill="#3cbf3c" filter="url(#b1)" opacity="0.95"/>
<ellipse cx="499.05" cy="46.08" rx="1.08" ry="0.97" fill="#3cbf3c" filter="url(#b1)" opacity="0.95"/>
<ellipse cx="478.79" cy="63.96" rx="1.51" ry="0.92" fill="#3cbf3c" filter="url(#b1)" opacity="0.95"/>
<ellipse cx="507.14" cy="54.77" rx="1.13" ry="1.12" fill="#3cbf3c" filter="url(#b1)" opacity="0.95"/>
<ellipse cx="501.11" cy="72.82" rx="1.37" ry="0.84" fill="#3cbf3c" filter="url(#b1)" opacity="0.95"/>
<ellipse cx="498.48" cy="47.13" rx="0.97" ry="0.64" fill="#3cbf3c" filter="url(#b1)" opacity="0.95"/>
<ellipse cx="505.36" cy="67.34" rx="1.13" ry="1.1" fill="#3cbf3c" filter="url(#b1)" opacity="0.95"/>
<ellipse cx="483.24" cy="68.99" rx="0.91" ry="0.81" fill="#3cbf3c" filter="url(#b1)" opacity="0.95"/>
<ellipse cx="505.01" cy="69.44" rx="1.5" ry="1.24" fill="#3cbf3c" filter="url(#b1)" opacity="0.95"/>
<ellipse cx="480.9" cy="53.92" rx="1.61" ry="1.17" fill="#3cbf3c" filter="url(#b1)" opacity="0.95"/>
<ellipse cx="502.11" cy="71.33" rx="1.58" ry="1.57" fill="#3cbf3c" filter="url(#b1)" opacity="0.95"/>
<ellipse cx="483.32" cy="69.44" rx="1.27" ry="0.82" fill="#3cbf3c" filter="url(#b1)" opacity="0.95"/>
<ellipse cx="482.17" cy="52.01" rx="1.14" ry="1.04" fill="#3cbf3c" filter="url(#b1)" opacity="0.95"/>
<ellipse cx="506.85" cy="55.05" rx="1.13" ry="1.11" fill="#3cbf3c" filter="url(#b1)" opacity="0.95"/>
<ellipse cx="481.51" cy="51.9" rx="1.23" ry="1.14" fill="#3cbf3c" filter="url(#b1)" opacity="0.95"/>
<ellipse cx="487.3" cy="72.2" rx="1.19" ry="0.86" fill="#3cbf3c" filter="url(#b1)" opacity="0.95"/>
<ellipse cx="500.25" cy="71.61" rx="1.45" ry="1.01" fill="#3cbf3c" filter="url(#b1)" opacity="0.95"/>
<ellipse cx="502.85" cy="49.11" rx="1.57" ry="1.36" fill="#3cbf3c" filter="url(#b1)" opacity="0.95"/>
<ellipse cx="507.07" cy="65.34" rx="0.93" ry="0.71" fill="#3cbf3c" filter="url(#b1)" opacity="0.95"/>
<ellipse cx="500.81" cy="47.83" rx="1.62" ry="1.3" fill="#3cbf3c" filter="url(#b1)" opacity="0.95"/>
<ellipse cx="495.32" cy="46.12" rx="1.18" ry="1.01" fill="#3cbf3c" filter="url(#b1)" opacity="0.95"/>
<ellipse cx="479.47" cy="61.73" rx="1.53" ry="1.16" fill="#3cbf3c" filter="url(#b1)" opacity="0.95"/>
<ellipse cx="485.16" cy="48.02" rx="1.65" ry="1.3" fill="#3cbf3c" filter="url(#b1)" opacity="0.95"/>
<ellipse cx="482.52" cy="68.22" rx="1.5" ry="1.2" fill="#3cbf3c" filter="url(#b1)" opacity="0.95"/>
<ellipse cx="481.46" cy="52.31" rx="2.05" ry="1.32" fill="#3cbf3c" filter="url(#b1)" opacity="0.95"/>
<ellipse cx="480.48" cy="55.62" rx="1.33" ry="0.87" fill="#3cbf3c" filter="url(#b1)" opacity="0.95"/>
<ellipse cx="485.35" cy="47.58" rx="1.65" ry="1.56" fill="#3cbf3c" filter="url(#b1)" opacity="0.95"/>
<ellipse cx="485.02" cy="48.48" rx="1.95" ry="1.39" fill="#3cbf3c" filter="url(#b1)" opacity="0.95"/>
<ellipse cx="479.63" cy="53.78" rx="1.48" ry="1.28" fill="#3cbf3c" filter="url(#b1)" opacity="0.95"/>
<ellipse cx="481.2" cy="53.68" rx="1.85" ry="1.26" fill="#3cbf3c" filter="url(#b1)" opacity="0.95"/>
<ellipse cx="480.69" cy="65.94" rx="1.39" ry="1.36" fill="#3cbf3c" filter="url(#b1)" opacity="0.95"/>
<ellipse cx="478.38" cy="62.1" rx="1.25" ry="0.87" fill="#3cbf3c" filter="url(#b1)" opacity="0.95"/>
<path d="M505.73,60 C505.72,62.1 505.19,64.41 504.2,66.29 C503.21,68.17 501.63,70.08 499.82,71.28 C498,72.48 495.44,73.55 493.3,73.49 C491.16,73.43 488.8,72.14 486.99,70.94 C485.17,69.74 483.48,68.12 482.4,66.29 C481.32,64.47 480.67,62.18 480.52,60 C480.38,57.82 480.44,55.02 481.52,53.2 C482.59,51.37 485.02,50.18 486.98,49.05 C488.94,47.92 491.13,46.54 493.3,46.42 C495.47,46.3 498.21,47.13 500.03,48.35 C501.85,49.56 503.28,51.75 504.23,53.69 C505.18,55.63 505.73,57.9 505.73,60Z" fill="#4a36b8" filter="url(#b1)" opacity="1"/>
<ellipse cx="490.34" cy="66.8" rx="2.15" ry="2.15" fill="#33248e" filter="url(#b1)" opacity="0.55"/>
<ellipse cx="492.29" cy="64.3" rx="3.75" ry="3.75" fill="#33248e" filter="url(#b1)" opacity="0.55"/>
<ellipse cx="489.82" cy="64.92" rx="2.18" ry="2.18" fill="#33248e" filter="url(#b1)" opacity="0.55"/>
<ellipse cx="496.53" cy="66.05" rx="3.07" ry="3.07" fill="#33248e" filter="url(#b1)" opacity="0.55"/>
<ellipse cx="492.41" cy="55.26" rx="2.95" ry="2.95" fill="#33248e" filter="url(#b1)" opacity="0.55"/>
<ellipse cx="494.25" cy="62.94" rx="2.08" ry="2.08" fill="#33248e" filter="url(#b1)" opacity="0.55"/>
<ellipse cx="495.71" cy="64.25" rx="3.15" ry="3.15" fill="#33248e" filter="url(#b1)" opacity="0.55"/>
<ellipse cx="494" cy="60.5" rx="8.5" ry="8" fill="#b02a90" filter="url(#b2)" opacity="0.6"/>
<ellipse cx="486.67" cy="57.27" rx="1.25" ry="0.96" fill="#e8206a" filter="url(#b3)" opacity="0.85"/>
<ellipse cx="488.31" cy="53.18" rx="1.33" ry="0.94" fill="#e8206a" filter="url(#b3)" opacity="0.85"/>
<ellipse cx="489.18" cy="54.42" rx="1" ry="1.18" fill="#e8206a" filter="url(#b3)" opacity="0.85"/>
<ellipse cx="487.26" cy="59.38" rx="1.35" ry="1.33" fill="#e8206a" filter="url(#b3)" opacity="0.85"/>
<ellipse cx="491.83" cy="65.51" rx="1" ry="0.63" fill="#e8206a" filter="url(#b3)" opacity="0.85"/>
<ellipse cx="487.14" cy="55.4" rx="0.94" ry="1.04" fill="#e8206a" filter="url(#b3)" opacity="0.85"/>
<ellipse cx="499.87" cy="57.4" rx="1.15" ry="0.77" fill="#e8206a" filter="url(#b3)" opacity="0.85"/>
<ellipse cx="502.33" cy="63.74" rx="0.83" ry="0.6" fill="#e8206a" filter="url(#b3)" opacity="0.85"/>
<ellipse cx="500.05" cy="55.53" rx="0.7" ry="0.55" fill="#e8206a" filter="url(#b3)" opacity="0.85"/>
<ellipse cx="493.73" cy="65.46" rx="0.61" ry="0.55" fill="#e8206a" filter="url(#b3)" opacity="0.85"/>
<ellipse cx="491.5" cy="66.12" rx="0.75" ry="0.5" fill="#e8206a" filter="url(#b3)" opacity="0.85"/>
<ellipse cx="502.19" cy="62.32" rx="1.2" ry="1.12" fill="#e8206a" filter="url(#b3)" opacity="0.85"/>
<ellipse cx="496.11" cy="63.07" rx="0.7" ry="0.55" fill="#e8206a" filter="url(#b3)" opacity="0.85"/>
<ellipse cx="498.16" cy="62.27" rx="0.76" ry="0.55" fill="#e8206a" filter="url(#b3)" opacity="0.85"/>
<ellipse cx="489.84" cy="55.21" rx="0.98" ry="0.8" fill="#e8206a" filter="url(#b3)" opacity="0.85"/>
<ellipse cx="485.33" cy="58.46" rx="0.85" ry="0.54" fill="#e8206a" filter="url(#b3)" opacity="0.85"/>
<ellipse cx="487.69" cy="61.19" rx="1.22" ry="0.82" fill="#e8206a" filter="url(#b3)" opacity="0.85"/>
<ellipse cx="494.31" cy="59.67" rx="1.03" ry="0.9" fill="#e8206a" filter="url(#b3)" opacity="0.85"/>
<ellipse cx="489.93" cy="68.71" rx="1.16" ry="0.81" fill="#e8206a" filter="url(#b3)" opacity="0.85"/>
<ellipse cx="486.07" cy="60.74" rx="0.63" ry="0.41" fill="#e8206a" filter="url(#b3)" opacity="0.85"/>
<ellipse cx="486.99" cy="55.66" rx="0.97" ry="0.83" fill="#e8206a" filter="url(#b3)" opacity="0.85"/>
<ellipse cx="488.66" cy="60.29" rx="1.3" ry="1.53" fill="#e8206a" filter="url(#b3)" opacity="0.85"/>
<ellipse cx="492.15" cy="60.65" rx="0.92" ry="0.99" fill="#e8206a" filter="url(#b3)" opacity="0.85"/>
<ellipse cx="492.1" cy="63.25" rx="0.75" ry="0.77" fill="#e8206a" filter="url(#b3)" opacity="0.85"/>
<ellipse cx="489.84" cy="56.97" rx="1.1" ry="1.16" fill="#e8206a" filter="url(#b3)" opacity="0.85"/>
<ellipse cx="501.97" cy="58.67" rx="0.95" ry="1.03" fill="#e8206a" filter="url(#b3)" opacity="0.85"/>
<ellipse cx="501.4" cy="56.5" rx="1.2" ry="1.14" fill="#e8206a" filter="url(#b3)" opacity="0.85"/>
<ellipse cx="484.76" cy="59.87" rx="1.1" ry="1.14" fill="#e8206a" filter="url(#b3)" opacity="0.85"/>
<ellipse cx="493.9" cy="63.36" rx="0.82" ry="0.78" fill="#e8206a" filter="url(#b3)" opacity="0.85"/>
<ellipse cx="489.7" cy="58.63" rx="0.75" ry="0.88" fill="#e8206a" filter="url(#b3)" opacity="0.85"/>
<ellipse cx="501.74" cy="64.47" rx="1.22" ry="1.15" fill="#e8206a" filter="url(#b3)" opacity="0.85"/>
<ellipse cx="501.33" cy="60.28" rx="0.61" ry="0.7" fill="#e8206a" filter="url(#b3)" opacity="0.85"/>
<ellipse cx="485.72" cy="65.21" rx="1.25" ry="0.85" fill="#e8206a" filter="url(#b3)" opacity="0.85"/>
<ellipse cx="494.83" cy="60.84" rx="1.22" ry="1.32" fill="#e8206a" filter="url(#b3)" opacity="0.85"/>
<ellipse cx="493.94" cy="63.66" rx="0.89" ry="0.96" fill="#e8206a" filter="url(#b3)" opacity="0.85"/>
<ellipse cx="492.99" cy="51.67" rx="1.37" ry="1.45" fill="#e8206a" filter="url(#b3)" opacity="0.85"/>
<ellipse cx="486.73" cy="59.25" rx="1.78" ry="2.03" fill="#d82a8a" filter="url(#b1)" opacity="0.55"/>
<ellipse cx="497.51" cy="56.83" rx="1.9" ry="1.63" fill="#d82a8a" filter="url(#b1)" opacity="0.55"/>
<ellipse cx="492.54" cy="63.1" rx="1.41" ry="0.98" fill="#d82a8a" filter="url(#b1)" opacity="0.55"/>
<ellipse cx="492.43" cy="67.45" rx="1.71" ry="1.8" fill="#d82a8a" filter="url(#b1)" opacity="0.55"/>
<ellipse cx="495.41" cy="61.65" rx="1.13" ry="1.05" fill="#d82a8a" filter="url(#b1)" opacity="0.55"/>
<ellipse cx="497.77" cy="53.67" rx="1.89" ry="1.8" fill="#d82a8a" filter="url(#b1)" opacity="0.55"/>
<ellipse cx="490.32" cy="56.82" rx="1.19" ry="0.86" fill="#d82a8a" filter="url(#b1)" opacity="0.55"/>
<ellipse cx="486.66" cy="58.96" rx="1.48" ry="1.24" fill="#d82a8a" filter="url(#b1)" opacity="0.55"/>
<ellipse cx="489.52" cy="62.56" rx="1.75" ry="1.66" fill="#d82a8a" filter="url(#b1)" opacity="0.55"/>
<ellipse cx="493.43" cy="52.39" rx="1.15" ry="0.77" fill="#d82a8a" filter="url(#b1)" opacity="0.55"/>
<ellipse cx="491.74" cy="68.89" rx="1.73" ry="1.46" fill="#d82a8a" filter="url(#b1)" opacity="0.55"/>
<ellipse cx="494.37" cy="55.31" rx="1.81" ry="1.18" fill="#d82a8a" filter="url(#b1)" opacity="0.55"/>
<ellipse cx="492.99" cy="51.6" rx="1.31" ry="1.15" fill="#d82a8a" filter="url(#b1)" opacity="0.55"/>
<ellipse cx="496.71" cy="63.96" rx="1.1" ry="0.86" fill="#d82a8a" filter="url(#b1)" opacity="0.55"/>
<ellipse cx="497.5" cy="75" rx="1.4" ry="1.9" fill="#3cbf3c" filter="url(#b3)" opacity="1"/>
<ellipse cx="506.5" cy="67" rx="1.8" ry="2.3" fill="#3cbf3c" filter="url(#b3)" opacity="1"/>
<ellipse cx="484.5" cy="71" rx="1.3" ry="1.3" fill="#e05012" filter="url(#b3)" opacity="1"/>
</g></g>
<clipPath id="c10"><rect x="388.3" y="83.1" width="40.5" height="40.7"/></clipPath>
<g clip-path="url(#c10)">
<rect x="388.3" y="83.1" width="40.5" height="40.7" fill="#060006"/>
<g>
<ellipse cx="393.83" cy="104.6" rx="1.31" ry="1.21" fill="#e8a020" filter="url(#b1)" opacity="0.8"/>
<ellipse cx="410.95" cy="91.49" rx="1.4" ry="0.94" fill="#e8a020" filter="url(#b1)" opacity="0.8"/>
<ellipse cx="410.86" cy="90.97" rx="0.89" ry="0.87" fill="#e8a020" filter="url(#b1)" opacity="0.8"/>
<ellipse cx="401.51" cy="92.92" rx="1.27" ry="1.1" fill="#e8a020" filter="url(#b1)" opacity="0.8"/>
<ellipse cx="394.73" cy="102.26" rx="1.2" ry="1.19" fill="#e8a020" filter="url(#b1)" opacity="0.8"/>
<ellipse cx="418.72" cy="97.69" rx="1.21" ry="0.8" fill="#e8a020" filter="url(#b1)" opacity="0.8"/>
<ellipse cx="394.31" cy="102.49" rx="1.12" ry="0.74" fill="#e8a020" filter="url(#b1)" opacity="0.8"/>
<ellipse cx="394.18" cy="107.14" rx="0.95" ry="0.9" fill="#e8a020" filter="url(#b1)" opacity="0.8"/>
<ellipse cx="419.75" cy="98.53" rx="1.29" ry="1.09" fill="#e8a020" filter="url(#b1)" opacity="0.8"/>
<ellipse cx="407.83" cy="91.25" rx="0.95" ry="0.69" fill="#e8a020" filter="url(#b1)" opacity="0.8"/>
<ellipse cx="393.69" cy="103.78" rx="1.37" ry="1.27" fill="#e8a020" filter="url(#b1)" opacity="0.8"/>
<ellipse cx="400.43" cy="115.88" rx="1.23" ry="1.1" fill="#e8a020" filter="url(#b1)" opacity="0.8"/>
<ellipse cx="420.06" cy="108.7" rx="0.78" ry="0.68" fill="#e8a020" filter="url(#b1)" opacity="0.8"/>
<ellipse cx="420.22" cy="102.64" rx="1.15" ry="1.12" fill="#e8a020" filter="url(#b1)" opacity="0.8"/>
<path d="M420.82,104.4 C420.71,106.55 419.34,108.8 418.16,110.67 C416.99,112.54 415.58,114.51 413.77,115.61 C411.96,116.71 409.52,117.15 407.3,117.26 C405.08,117.36 402.42,117.26 400.46,116.24 C398.5,115.23 396.72,113.17 395.54,111.19 C394.36,109.22 393.24,106.59 393.37,104.4 C393.51,102.21 395.13,99.98 396.35,98.08 C397.58,96.18 398.89,94.03 400.71,92.99 C402.54,91.95 405.13,91.8 407.3,91.85 C409.47,91.9 411.8,92.29 413.73,93.27 C415.65,94.25 417.64,95.89 418.83,97.75 C420.01,99.6 420.93,102.25 420.82,104.4Z" fill="#4a36b8" filter="url(#b1)" opacity="1"/>
<ellipse cx="401.43" cy="101.05" rx="2.97" ry="2.97" fill="#33248e" filter="url(#b1)" opacity="0.55"/>
<ellipse cx="403.23" cy="104.76" rx="3.66" ry="3.66" fill="#33248e" filter="url(#b1)" opacity="0.55"/>
<ellipse cx="407.14" cy="106.51" rx="2.34" ry="2.34" fill="#33248e" filter="url(#b1)" opacity="0.55"/>
<ellipse cx="399.57" cy="101.48" rx="3.07" ry="3.07" fill="#33248e" filter="url(#b1)" opacity="0.55"/>
<ellipse cx="410.52" cy="105.2" rx="2.19" ry="2.19" fill="#33248e" filter="url(#b1)" opacity="0.55"/>
<ellipse cx="405.73" cy="108.03" rx="3.8" ry="3.8" fill="#33248e" filter="url(#b1)" opacity="0.55"/>
<ellipse cx="399.48" cy="105.21" rx="3.6" ry="3.6" fill="#33248e" filter="url(#b1)" opacity="0.55"/>
<ellipse cx="406" cy="101" rx="7.5" ry="6.5" fill="#b8b048" filter="url(#b2)" opacity="0.45"/>
<ellipse cx="398.53" cy="105.46" rx="0.54" ry="0.47" fill="#f0e030" filter="url(#b3)" opacity="0.75"/>
<ellipse cx="413.19" cy="96.46" rx="0.72" ry="0.65" fill="#f0e030" filter="url(#b3)" opacity="0.75"/>
<ellipse cx="400.21" cy="105.46" rx="0.67" ry="0.75" fill="#f0e030" filter="url(#b3)" opacity="0.75"/>
<ellipse cx="409.04" cy="94.06" rx="0.71" ry="0.5" fill="#f0e030" filter="url(#b3)" opacity="0.75"/>
<ellipse cx="415.64" cy="102.93" rx="0.68" ry="0.44" fill="#f0e030" filter="url(#b3)" opacity="0.75"/>
<ellipse cx="407.54" cy="95.22" rx="0.91" ry="0.88" fill="#f0e030" filter="url(#b3)" opacity="0.75"/>
<ellipse cx="407.41" cy="94.72" rx="0.68" ry="0.43" fill="#f0e030" filter="url(#b3)" opacity="0.75"/>
<ellipse cx="397.09" cy="104.97" rx="0.95" ry="0.74" fill="#f0e030" filter="url(#b3)" opacity="0.75"/>
<ellipse cx="413.85" cy="104.09" rx="0.51" ry="0.57" fill="#f0e030" filter="url(#b3)" opacity="0.75"/>
<ellipse cx="410.76" cy="93.8" rx="0.86" ry="0.56" fill="#f0e030" filter="url(#b3)" opacity="0.75"/>
<ellipse cx="411.74" cy="95.21" rx="0.99" ry="0.79" fill="#f0e030" filter="url(#b3)" opacity="0.75"/>
<ellipse cx="408.31" cy="94.16" rx="0.55" ry="0.61" fill="#f0e030" filter="url(#b3)" opacity="0.75"/>
<ellipse cx="410.06" cy="101.56" rx="0.8" ry="0.66" fill="#f0e030" filter="url(#b3)" opacity="0.75"/>
<ellipse cx="398.83" cy="100.23" rx="1.03" ry="0.96" fill="#f0e030" filter="url(#b3)" opacity="0.75"/>
<ellipse cx="399.15" cy="102.71" rx="0.92" ry="1.08" fill="#f0e030" filter="url(#b3)" opacity="0.75"/>
<ellipse cx="409.56" cy="100.65" rx="1.03" ry="0.99" fill="#f0e030" filter="url(#b3)" opacity="0.75"/>
<ellipse cx="402.02" cy="103.22" rx="0.5" ry="0.5" fill="#f0e030" filter="url(#b3)" opacity="0.75"/>
<ellipse cx="397.52" cy="101.15" rx="0.52" ry="0.47" fill="#f0e030" filter="url(#b3)" opacity="0.75"/>
<ellipse cx="405.93" cy="99.02" rx="0.45" ry="0.52" fill="#f0e030" filter="url(#b3)" opacity="0.75"/>
<ellipse cx="410.23" cy="105.03" rx="0.89" ry="1.06" fill="#f0e030" filter="url(#b3)" opacity="0.75"/>
<ellipse cx="415.6" cy="105.1" rx="0.65" ry="0.67" fill="#f0e030" filter="url(#b3)" opacity="0.75"/>
<ellipse cx="407.27" cy="92.82" rx="0.87" ry="0.96" fill="#f0e030" filter="url(#b3)" opacity="0.75"/>
<ellipse cx="413.12" cy="103" rx="0.88" ry="0.58" fill="#f0e030" filter="url(#b3)" opacity="0.75"/>
<ellipse cx="397.47" cy="98.94" rx="0.69" ry="0.7" fill="#f0e030" filter="url(#b3)" opacity="0.75"/>
<ellipse cx="408.82" cy="97.27" rx="0.8" ry="0.92" fill="#f0e030" filter="url(#b3)" opacity="0.75"/>
<ellipse cx="402.56" cy="97.49" rx="0.56" ry="0.4" fill="#f0e030" filter="url(#b3)" opacity="0.75"/>
<ellipse cx="415.05" cy="102.03" rx="1.03" ry="1.03" fill="#f0e030" filter="url(#b3)" opacity="0.75"/>
<ellipse cx="411.19" cy="105.18" rx="0.56" ry="0.41" fill="#f0e030" filter="url(#b3)" opacity="0.75"/>
<ellipse cx="402.44" cy="93.41" rx="0.58" ry="0.51" fill="#f0e030" filter="url(#b3)" opacity="0.75"/>
<ellipse cx="403.22" cy="103.36" rx="0.78" ry="0.75" fill="#f0e030" filter="url(#b3)" opacity="0.75"/>
<ellipse cx="407.79" cy="92.98" rx="0.97" ry="1.13" fill="#f0e030" filter="url(#b3)" opacity="0.75"/>
<ellipse cx="408.9" cy="97.28" rx="0.53" ry="0.56" fill="#f0e030" filter="url(#b3)" opacity="0.75"/>
<ellipse cx="403.44" cy="102.03" rx="0.87" ry="0.59" fill="#f0e030" filter="url(#b3)" opacity="0.75"/>
<ellipse cx="409.54" cy="98.25" rx="0.71" ry="0.43" fill="#f0e030" filter="url(#b3)" opacity="0.75"/>
<ellipse cx="403.77" cy="96.89" rx="0.61" ry="0.41" fill="#f0e030" filter="url(#b3)" opacity="0.75"/>
<ellipse cx="409.94" cy="94.74" rx="0.57" ry="0.36" fill="#f0e030" filter="url(#b3)" opacity="0.75"/>
<ellipse cx="399.7" cy="97.36" rx="0.61" ry="0.61" fill="#f0e030" filter="url(#b3)" opacity="0.75"/>
<ellipse cx="398.13" cy="104.22" rx="0.54" ry="0.39" fill="#f0e030" filter="url(#b3)" opacity="0.75"/>
<ellipse cx="412.9" cy="99.15" rx="0.83" ry="0.64" fill="#f0e030" filter="url(#b3)" opacity="0.75"/>
<ellipse cx="410.91" cy="98.4" rx="0.74" ry="0.64" fill="#f0e030" filter="url(#b3)" opacity="0.75"/>
<ellipse cx="414.87" cy="105.23" rx="0.78" ry="0.86" fill="#f0e030" filter="url(#b3)" opacity="0.75"/>
<ellipse cx="411.15" cy="95.2" rx="0.76" ry="0.72" fill="#f0e030" filter="url(#b3)" opacity="0.75"/>
<ellipse cx="397.62" cy="98.65" rx="0.83" ry="0.91" fill="#f0e030" filter="url(#b3)" opacity="0.75"/>
<ellipse cx="408.26" cy="99.64" rx="0.51" ry="0.58" fill="#f0e030" filter="url(#b3)" opacity="0.75"/>
<ellipse cx="414.32" cy="97.01" rx="0.99" ry="0.73" fill="#f0e030" filter="url(#b3)" opacity="0.75"/>
<ellipse cx="412.98" cy="107.26" rx="0.89" ry="0.81" fill="#f0e030" filter="url(#b3)" opacity="0.75"/>
<ellipse cx="400.46" cy="98.41" rx="0.73" ry="0.57" fill="#f0e030" filter="url(#b3)" opacity="0.75"/>
<ellipse cx="402.52" cy="96.72" rx="0.61" ry="0.42" fill="#f0e030" filter="url(#b3)" opacity="0.75"/>
<ellipse cx="412.87" cy="101.5" rx="0.67" ry="0.72" fill="#f0e030" filter="url(#b3)" opacity="0.75"/>
<ellipse cx="412.25" cy="98.41" rx="0.64" ry="0.69" fill="#f0e030" filter="url(#b3)" opacity="0.75"/>
<ellipse cx="401.06" cy="104.2" rx="1.81" ry="1.27" fill="#e8d838" filter="url(#b1)" opacity="0.5"/>
<ellipse cx="406.21" cy="102.35" rx="0.97" ry="0.59" fill="#e8d838" filter="url(#b1)" opacity="0.5"/>
<ellipse cx="409.17" cy="105.78" rx="1.95" ry="1.98" fill="#e8d838" filter="url(#b1)" opacity="0.5"/>
<ellipse cx="402.32" cy="104.52" rx="1.61" ry="1.28" fill="#e8d838" filter="url(#b1)" opacity="0.5"/>
<ellipse cx="412.57" cy="104.27" rx="1.53" ry="1.02" fill="#e8d838" filter="url(#b1)" opacity="0.5"/>
<ellipse cx="408.23" cy="102.05" rx="1.91" ry="1.27" fill="#e8d838" filter="url(#b1)" opacity="0.5"/>
<ellipse cx="400.44" cy="95.42" rx="0.88" ry="0.73" fill="#e8d838" filter="url(#b1)" opacity="0.5"/>
<ellipse cx="398.42" cy="102.09" rx="1.05" ry="0.79" fill="#e8d838" filter="url(#b1)" opacity="0.5"/>
<ellipse cx="406.02" cy="102.77" rx="1.59" ry="1.74" fill="#e8d838" filter="url(#b1)" opacity="0.5"/>
<ellipse cx="404.57" cy="101.61" rx="1.64" ry="1.71" fill="#e8d838" filter="url(#b1)" opacity="0.5"/>
<ellipse cx="403.39" cy="97.23" rx="1.77" ry="1.73" fill="#e8d838" filter="url(#b1)" opacity="0.5"/>
<ellipse cx="401.03" cy="97.85" rx="1.1" ry="0.96" fill="#e8d838" filter="url(#b1)" opacity="0.5"/>
<ellipse cx="407.81" cy="94.64" rx="1.23" ry="1.34" fill="#e8d838" filter="url(#b1)" opacity="0.5"/>
<ellipse cx="406.89" cy="99.59" rx="1.02" ry="0.75" fill="#e8d838" filter="url(#b1)" opacity="0.5"/>
<ellipse cx="405.58" cy="114.29" rx="0.67" ry="0.53" fill="#f0c030" filter="url(#b3)" opacity="0.8"/>
<ellipse cx="415.29" cy="108.05" rx="0.83" ry="0.55" fill="#f0c030" filter="url(#b3)" opacity="0.8"/>
<ellipse cx="402.9" cy="114.16" rx="0.63" ry="0.61" fill="#f0c030" filter="url(#b3)" opacity="0.8"/>
<ellipse cx="414.32" cy="112.3" rx="1.19" ry="0.86" fill="#f0c030" filter="url(#b3)" opacity="0.8"/>
<ellipse cx="413.3" cy="95.11" rx="0.66" ry="0.56" fill="#f0c030" filter="url(#b3)" opacity="0.8"/>
<ellipse cx="403.53" cy="93.21" rx="0.74" ry="0.55" fill="#f0c030" filter="url(#b3)" opacity="0.8"/>
<ellipse cx="408.79" cy="92.72" rx="0.68" ry="0.44" fill="#f0c030" filter="url(#b3)" opacity="0.8"/>
<ellipse cx="407.07" cy="94.01" rx="0.91" ry="1.02" fill="#f0c030" filter="url(#b3)" opacity="0.8"/>
<ellipse cx="406.72" cy="93.23" rx="1.29" ry="1.34" fill="#f0c030" filter="url(#b3)" opacity="0.8"/>
<ellipse cx="410.97" cy="94.02" rx="1.07" ry="0.68" fill="#f0c030" filter="url(#b3)" opacity="0.8"/>
<ellipse cx="416.54" cy="97.91" rx="0.88" ry="0.86" fill="#f0c030" filter="url(#b3)" opacity="0.8"/>
<ellipse cx="417.35" cy="105.1" rx="1.1" ry="0.85" fill="#f0c030" filter="url(#b3)" opacity="0.8"/>
<ellipse cx="408" cy="108.5" rx="3" ry="2.6" fill="#3a2898" filter="url(#b1)" opacity="0.7"/>
<ellipse cx="401" cy="118.5" rx="2.1" ry="2.1" fill="#f07010" filter="url(#b1)" opacity="1"/>
<ellipse cx="411.5" cy="117.8" rx="2.6" ry="1.7" fill="#f07010" filter="url(#b1)" opacity="1"/>
<ellipse cx="399.5" cy="93" rx="1.6" ry="1.6" fill="#f08020" filter="url(#b1)" opacity="1"/>
<path d="M411.5,93.5 L418.5,88.2 L416,94 Z" fill="#f0e030" filter="url(#b3)"/>
</g></g>
<clipPath id="c11"><rect x="430.3" y="83.1" width="39.4" height="40.7"/></clipPath>
<g clip-path="url(#c11)">
<rect x="430.3" y="83.1" width="39.4" height="40.7" fill="#060006"/>
<g>
<ellipse cx="440.92" cy="91.91" rx="1.01" ry="0.94" fill="#3cbf3c" filter="url(#b1)" opacity="0.95"/>
<ellipse cx="435.82" cy="105.24" rx="1.36" ry="1.01" fill="#3cbf3c" filter="url(#b1)" opacity="0.95"/>
<ellipse cx="455.32" cy="89.84" rx="1.11" ry="0.67" fill="#3cbf3c" filter="url(#b1)" opacity="0.95"/>
<ellipse cx="446.33" cy="89.99" rx="1.17" ry="1.02" fill="#3cbf3c" filter="url(#b1)" opacity="0.95"/>
<ellipse cx="435.45" cy="98.68" rx="1.12" ry="0.84" fill="#3cbf3c" filter="url(#b1)" opacity="0.95"/>
<ellipse cx="441.42" cy="114.43" rx="0.93" ry="0.77" fill="#3cbf3c" filter="url(#b1)" opacity="0.95"/>
<ellipse cx="440.4" cy="114.73" rx="0.95" ry="0.87" fill="#3cbf3c" filter="url(#b1)" opacity="0.95"/>
<ellipse cx="443.38" cy="117.39" rx="1.51" ry="1.48" fill="#3cbf3c" filter="url(#b1)" opacity="0.95"/>
<ellipse cx="435.7" cy="98.79" rx="0.96" ry="0.95" fill="#3cbf3c" filter="url(#b1)" opacity="0.95"/>
<ellipse cx="456.86" cy="89.95" rx="1.54" ry="1.31" fill="#3cbf3c" filter="url(#b1)" opacity="0.95"/>
<ellipse cx="456.38" cy="90.43" rx="0.9" ry="0.61" fill="#3cbf3c" filter="url(#b1)" opacity="0.95"/>
<ellipse cx="451.5" cy="88.28" rx="1.12" ry="0.99" fill="#3cbf3c" filter="url(#b1)" opacity="0.95"/>
<ellipse cx="453.11" cy="89.44" rx="1.03" ry="1.03" fill="#3cbf3c" filter="url(#b1)" opacity="0.95"/>
<ellipse cx="434.67" cy="103.68" rx="1.02" ry="1.01" fill="#3cbf3c" filter="url(#b1)" opacity="0.95"/>
<ellipse cx="443.66" cy="116.64" rx="1.16" ry="0.72" fill="#3cbf3c" filter="url(#b1)" opacity="0.95"/>
<ellipse cx="448.78" cy="88.12" rx="1.14" ry="1" fill="#3cbf3c" filter="url(#b1)" opacity="0.95"/>
<ellipse cx="436.71" cy="108.6" rx="1.32" ry="1.06" fill="#3cbf3c" filter="url(#b1)" opacity="0.95"/>
<ellipse cx="440.35" cy="115.91" rx="1.55" ry="1.31" fill="#3cbf3c" filter="url(#b1)" opacity="0.95"/>
<ellipse cx="454.19" cy="89.72" rx="1.15" ry="0.98" fill="#3cbf3c" filter="url(#b1)" opacity="0.95"/>
<ellipse cx="442.46" cy="115.25" rx="1.21" ry="0.82" fill="#3cbf3c" filter="url(#b1)" opacity="0.95"/>
<ellipse cx="445.82" cy="89.31" rx="1.13" ry="0.9" fill="#3cbf3c" filter="url(#b1)" opacity="0.95"/>
<ellipse cx="443.51" cy="91.33" rx="1.4" ry="1.3" fill="#3cbf3c" filter="url(#b1)" opacity="0.95"/>
<ellipse cx="438.21" cy="110.99" rx="1.38" ry="1.19" fill="#3cbf3c" filter="url(#b1)" opacity="0.95"/>
<ellipse cx="447.92" cy="88.11" rx="1.36" ry="1.32" fill="#3cbf3c" filter="url(#b1)" opacity="0.95"/>
<ellipse cx="437.72" cy="111.17" rx="1.48" ry="1.31" fill="#3cbf3c" filter="url(#b1)" opacity="0.95"/>
<ellipse cx="441.32" cy="92.16" rx="1.01" ry="0.95" fill="#3cbf3c" filter="url(#b1)" opacity="0.95"/>
<ellipse cx="462.63" cy="96.68" rx="0.82" ry="0.76" fill="#3cbf3c" filter="url(#b1)" opacity="0.95"/>
<ellipse cx="463.79" cy="99.28" rx="1.11" ry="1.05" fill="#3cbf3c" filter="url(#b1)" opacity="0.95"/>
<ellipse cx="458.4" cy="90.96" rx="0.83" ry="0.53" fill="#3cbf3c" filter="url(#b1)" opacity="0.95"/>
<ellipse cx="461.72" cy="93.83" rx="0.69" ry="0.5" fill="#3cbf3c" filter="url(#b1)" opacity="0.95"/>
<ellipse cx="463.86" cy="99.11" rx="1.1" ry="0.91" fill="#3cbf3c" filter="url(#b1)" opacity="0.95"/>
<ellipse cx="463.21" cy="98.45" rx="0.67" ry="0.56" fill="#3cbf3c" filter="url(#b1)" opacity="0.95"/>
<path d="M465.52,103.7 C465.44,105.98 463.43,108.32 462.14,110.42 C460.85,112.53 459.73,115.09 457.79,116.33 C455.85,117.57 452.96,117.82 450.5,117.87 C448.04,117.93 445.05,117.84 443.02,116.65 C441,115.46 439.58,112.88 438.34,110.72 C437.1,108.56 435.52,106.01 435.59,103.7 C435.65,101.39 437.47,99.06 438.71,96.89 C439.94,94.72 441.01,91.88 442.98,90.67 C444.94,89.47 448.11,89.45 450.5,89.65 C452.89,89.85 455.32,90.69 457.33,91.87 C459.34,93.05 461.21,94.76 462.57,96.73 C463.93,98.7 465.59,101.42 465.52,103.7Z" fill="#4a36b8" filter="url(#b1)" opacity="1"/>
<ellipse cx="455.21" cy="103.03" rx="2.44" ry="2.44" fill="#33248e" filter="url(#b1)" opacity="0.55"/>
<ellipse cx="458.59" cy="102.24" rx="3.46" ry="3.46" fill="#33248e" filter="url(#b1)" opacity="0.55"/>
<ellipse cx="456.05" cy="99.85" rx="2.19" ry="2.19" fill="#33248e" filter="url(#b1)" opacity="0.55"/>
<ellipse cx="450.9" cy="97.16" rx="3.97" ry="3.97" fill="#33248e" filter="url(#b1)" opacity="0.55"/>
<ellipse cx="450.74" cy="113.44" rx="3.67" ry="3.67" fill="#33248e" filter="url(#b1)" opacity="0.55"/>
<ellipse cx="448.82" cy="109.54" rx="2.2" ry="2.2" fill="#33248e" filter="url(#b1)" opacity="0.55"/>
<ellipse cx="447.93" cy="111.09" rx="2.82" ry="2.82" fill="#33248e" filter="url(#b1)" opacity="0.55"/>
<ellipse cx="453" cy="103.5" rx="9" ry="9" fill="#8a2a9a" filter="url(#b2)" opacity="0.45"/>
<path d="M438.35,110.6 A13.8,13.8 0 0 1 442.38,92.4" fill="none" stroke="#d02010" stroke-width="1.6" filter="url(#b1)" opacity="0.8"/>
<ellipse cx="449.7" cy="95.5" rx="1.7" ry="1.87" fill="#e8206a" filter="url(#b3)" opacity="0.85"/>
<ellipse cx="456" cy="94.5" rx="1.2" ry="1.32" fill="#e8206a" filter="url(#b3)" opacity="0.85"/>
<ellipse cx="462" cy="104.5" rx="1.5" ry="1.65" fill="#e8206a" filter="url(#b3)" opacity="0.85"/>
<ellipse cx="443" cy="101.5" rx="1.3" ry="1.43" fill="#e8206a" filter="url(#b3)" opacity="0.85"/>
<ellipse cx="460.5" cy="110" rx="1.3" ry="1.43" fill="#e8206a" filter="url(#b3)" opacity="0.85"/>
<ellipse cx="456" cy="112" rx="1.2" ry="1.32" fill="#e8206a" filter="url(#b3)" opacity="0.85"/>
<ellipse cx="446" cy="110" rx="1" ry="1.1" fill="#e8206a" filter="url(#b3)" opacity="0.85"/>
<ellipse cx="452" cy="100" rx="1" ry="1.1" fill="#e8206a" filter="url(#b3)" opacity="0.85"/>
<ellipse cx="461" cy="99" rx="1.1" ry="1.21" fill="#e8206a" filter="url(#b3)" opacity="0.85"/>
<ellipse cx="445.71" cy="98.3" rx="0.97" ry="0.99" fill="#d82a8a" filter="url(#b1)" opacity="0.55"/>
<ellipse cx="457.99" cy="101.5" rx="1.19" ry="1.23" fill="#d82a8a" filter="url(#b1)" opacity="0.55"/>
<ellipse cx="453.09" cy="102.66" rx="0.74" ry="0.88" fill="#d82a8a" filter="url(#b1)" opacity="0.55"/>
<ellipse cx="451.91" cy="99.4" rx="1.19" ry="0.84" fill="#d82a8a" filter="url(#b1)" opacity="0.55"/>
<ellipse cx="448.18" cy="108.6" rx="0.78" ry="0.53" fill="#d82a8a" filter="url(#b1)" opacity="0.55"/>
<ellipse cx="444.77" cy="103.66" rx="0.85" ry="0.85" fill="#d82a8a" filter="url(#b1)" opacity="0.55"/>
<ellipse cx="454.1" cy="103.76" rx="0.82" ry="0.54" fill="#d82a8a" filter="url(#b1)" opacity="0.55"/>
<ellipse cx="449.45" cy="98.81" rx="0.95" ry="0.71" fill="#d82a8a" filter="url(#b1)" opacity="0.55"/>
<ellipse cx="453.32" cy="96.27" rx="0.96" ry="1.05" fill="#d82a8a" filter="url(#b1)" opacity="0.55"/>
<ellipse cx="452.62" cy="109.24" rx="1.37" ry="1.01" fill="#d82a8a" filter="url(#b1)" opacity="0.55"/>
<ellipse cx="453" cy="105.27" rx="1.14" ry="1.24" fill="#d82a8a" filter="url(#b1)" opacity="0.55"/>
<ellipse cx="457.9" cy="105.99" rx="0.92" ry="0.73" fill="#d82a8a" filter="url(#b1)" opacity="0.55"/>
<ellipse cx="452.53" cy="109.55" rx="0.71" ry="0.82" fill="#d82a8a" filter="url(#b1)" opacity="0.55"/>
<ellipse cx="454.07" cy="110.25" rx="1.11" ry="1.11" fill="#d82a8a" filter="url(#b1)" opacity="0.55"/>
<ellipse cx="445.58" cy="105.05" rx="1.35" ry="0.95" fill="#d82a8a" filter="url(#b1)" opacity="0.55"/>
<ellipse cx="453.51" cy="108.71" rx="1.19" ry="1.02" fill="#d82a8a" filter="url(#b1)" opacity="0.55"/>
<ellipse cx="450.07" cy="105.6" rx="0.7" ry="0.69" fill="#d82a8a" filter="url(#b1)" opacity="0.55"/>
<ellipse cx="452.81" cy="110.05" rx="0.79" ry="0.62" fill="#d82a8a" filter="url(#b1)" opacity="0.55"/>
<ellipse cx="455.5" cy="105.5" rx="4" ry="4" fill="#3a2898" filter="url(#b1)" opacity="0.6"/>
</g></g>
<clipPath id="c12"><rect x="471.5" y="83.1" width="40.2" height="40.7"/></clipPath>
<g clip-path="url(#c12)">
<rect x="471.5" y="83.1" width="40.2" height="40.7" fill="#060006"/>
<g>
<path d="M502.59,104.5 C502.57,106.72 501.97,109.17 500.91,111.14 C499.85,113.12 498.16,115.31 496.25,116.36 C494.33,117.4 491.62,117.53 489.4,117.42 C487.18,117.3 484.89,116.71 482.94,115.69 C480.99,114.66 478.82,113.12 477.7,111.25 C476.58,109.39 476.15,106.71 476.22,104.5 C476.3,102.29 477.05,99.9 478.16,98.01 C479.27,96.13 481,94.27 482.87,93.2 C484.75,92.12 487.26,91.52 489.4,91.57 C491.54,91.62 493.8,92.49 495.74,93.52 C497.67,94.56 499.87,95.97 501.01,97.8 C502.15,99.62 502.61,102.28 502.59,104.5Z" fill="#4a36b8" filter="url(#b1)" opacity="1"/>
<ellipse cx="483.76" cy="103.85" rx="2.43" ry="2.43" fill="#33248e" filter="url(#b1)" opacity="0.55"/>
<ellipse cx="494.54" cy="100.74" rx="2.93" ry="2.93" fill="#33248e" filter="url(#b1)" opacity="0.55"/>
<ellipse cx="489.59" cy="97.63" rx="3.73" ry="3.73" fill="#33248e" filter="url(#b1)" opacity="0.55"/>
<ellipse cx="487.7" cy="104.63" rx="3.39" ry="3.39" fill="#33248e" filter="url(#b1)" opacity="0.55"/>
<ellipse cx="483.21" cy="105.34" rx="2.13" ry="2.13" fill="#33248e" filter="url(#b1)" opacity="0.55"/>
<ellipse cx="481.92" cy="105.73" rx="3.75" ry="3.75" fill="#33248e" filter="url(#b1)" opacity="0.55"/>
<ellipse cx="493.05" cy="97.94" rx="3.02" ry="3.02" fill="#33248e" filter="url(#b1)" opacity="0.55"/>
<ellipse cx="489.5" cy="102.5" rx="9" ry="8" fill="#b8287a" filter="url(#b2)" opacity="0.6"/>
<ellipse cx="493.68" cy="100.47" rx="1.51" ry="1.12" fill="#e8206a" filter="url(#b3)" opacity="0.85"/>
<ellipse cx="480.41" cy="104.55" rx="0.97" ry="0.88" fill="#e8206a" filter="url(#b3)" opacity="0.85"/>
<ellipse cx="494.58" cy="110.67" rx="1.53" ry="1.07" fill="#e8206a" filter="url(#b3)" opacity="0.85"/>
<ellipse cx="494.5" cy="107.36" rx="1.12" ry="1.19" fill="#e8206a" filter="url(#b3)" opacity="0.85"/>
<ellipse cx="485.27" cy="108.92" rx="0.8" ry="0.58" fill="#e8206a" filter="url(#b3)" opacity="0.85"/>
<ellipse cx="496.03" cy="106.03" rx="1.16" ry="1.12" fill="#e8206a" filter="url(#b3)" opacity="0.85"/>
<ellipse cx="494.83" cy="100.22" rx="0.96" ry="0.84" fill="#e8206a" filter="url(#b3)" opacity="0.85"/>
<ellipse cx="494.97" cy="100.57" rx="0.92" ry="0.78" fill="#e8206a" filter="url(#b3)" opacity="0.85"/>
<ellipse cx="487.44" cy="97.31" rx="0.81" ry="0.84" fill="#e8206a" filter="url(#b3)" opacity="0.85"/>
<ellipse cx="482.71" cy="99.03" rx="0.67" ry="0.5" fill="#e8206a" filter="url(#b3)" opacity="0.85"/>
<ellipse cx="494.51" cy="106.22" rx="1.46" ry="1.74" fill="#e8206a" filter="url(#b3)" opacity="0.85"/>
<ellipse cx="493.07" cy="97.35" rx="1.16" ry="1.32" fill="#e8206a" filter="url(#b3)" opacity="0.85"/>
<ellipse cx="485.92" cy="107.9" rx="1.29" ry="1.04" fill="#e8206a" filter="url(#b3)" opacity="0.85"/>
<ellipse cx="483.37" cy="103.51" rx="1.38" ry="1.26" fill="#e8206a" filter="url(#b3)" opacity="0.85"/>
<ellipse cx="491.73" cy="104.07" rx="1.23" ry="0.82" fill="#e8206a" filter="url(#b3)" opacity="0.85"/>
<ellipse cx="487.02" cy="98.04" rx="1.13" ry="0.91" fill="#e8206a" filter="url(#b3)" opacity="0.85"/>
<ellipse cx="487.11" cy="99" rx="1.02" ry="1.01" fill="#e8206a" filter="url(#b3)" opacity="0.85"/>
<ellipse cx="488.91" cy="112.24" rx="1.53" ry="1.81" fill="#e8206a" filter="url(#b3)" opacity="0.85"/>
<ellipse cx="498.16" cy="98.53" rx="1.16" ry="1.28" fill="#e8206a" filter="url(#b3)" opacity="0.85"/>
<ellipse cx="486.63" cy="104.42" rx="1.47" ry="1.7" fill="#e8206a" filter="url(#b3)" opacity="0.85"/>
<ellipse cx="489.19" cy="108.8" rx="0.87" ry="0.89" fill="#e8206a" filter="url(#b3)" opacity="0.85"/>
<ellipse cx="493.85" cy="110.27" rx="0.69" ry="0.58" fill="#e8206a" filter="url(#b3)" opacity="0.85"/>
<ellipse cx="490.92" cy="95.59" rx="0.78" ry="0.48" fill="#e8206a" filter="url(#b3)" opacity="0.85"/>
<ellipse cx="487.99" cy="99.25" rx="0.91" ry="0.87" fill="#e8206a" filter="url(#b3)" opacity="0.85"/>
<ellipse cx="488.4" cy="105.35" rx="1.36" ry="1.41" fill="#e8206a" filter="url(#b3)" opacity="0.85"/>
<ellipse cx="486.55" cy="99.99" rx="1.09" ry="1.28" fill="#e8206a" filter="url(#b3)" opacity="0.85"/>
<ellipse cx="484.14" cy="102.11" rx="1.48" ry="1.2" fill="#e8206a" filter="url(#b3)" opacity="0.85"/>
<ellipse cx="484.99" cy="101.84" rx="1.42" ry="1.43" fill="#e8206a" filter="url(#b3)" opacity="0.85"/>
<ellipse cx="482.53" cy="101.13" rx="0.96" ry="0.84" fill="#e8206a" filter="url(#b3)" opacity="0.85"/>
<ellipse cx="486.72" cy="102.3" rx="1.29" ry="1.35" fill="#e8206a" filter="url(#b3)" opacity="0.85"/>
<ellipse cx="493.7" cy="103.25" rx="1.29" ry="1.04" fill="#e8206a" filter="url(#b3)" opacity="0.85"/>
<ellipse cx="494.74" cy="108.94" rx="1.52" ry="1.24" fill="#e8206a" filter="url(#b3)" opacity="0.85"/>
<ellipse cx="483.25" cy="98.44" rx="1.15" ry="1.1" fill="#e8206a" filter="url(#b3)" opacity="0.85"/>
<ellipse cx="497.34" cy="97.79" rx="1.44" ry="1.46" fill="#e8206a" filter="url(#b3)" opacity="0.85"/>
<ellipse cx="490.13" cy="93.92" rx="1.31" ry="1.33" fill="#e8206a" filter="url(#b3)" opacity="0.85"/>
<ellipse cx="489.69" cy="99.15" rx="0.81" ry="0.8" fill="#e8206a" filter="url(#b3)" opacity="0.85"/>
<ellipse cx="484.93" cy="104.9" rx="1.23" ry="0.89" fill="#e8206a" filter="url(#b3)" opacity="0.85"/>
<ellipse cx="489.75" cy="96.62" rx="1.47" ry="1.16" fill="#e8206a" filter="url(#b3)" opacity="0.85"/>
<ellipse cx="495.31" cy="101.17" rx="1.35" ry="0.92" fill="#e8206a" filter="url(#b3)" opacity="0.85"/>
<ellipse cx="483.32" cy="102.37" rx="1.42" ry="1.46" fill="#e8206a" filter="url(#b3)" opacity="0.85"/>
<ellipse cx="485.86" cy="100.77" rx="1.12" ry="0.83" fill="#e8206a" filter="url(#b3)" opacity="0.85"/>
<ellipse cx="496.19" cy="107.45" rx="1.14" ry="1.37" fill="#e8206a" filter="url(#b3)" opacity="0.85"/>
<ellipse cx="491.23" cy="99.87" rx="1.49" ry="1.37" fill="#e8206a" filter="url(#b3)" opacity="0.85"/>
<ellipse cx="495.3" cy="102.18" rx="1.07" ry="1.09" fill="#e8206a" filter="url(#b3)" opacity="0.85"/>
<ellipse cx="484.92" cy="104.47" rx="1.99" ry="1.77" fill="#d82a8a" filter="url(#b1)" opacity="0.55"/>
<ellipse cx="494.92" cy="106.6" rx="0.99" ry="0.71" fill="#d82a8a" filter="url(#b1)" opacity="0.55"/>
<ellipse cx="494.67" cy="105.84" rx="1.91" ry="1.85" fill="#d82a8a" filter="url(#b1)" opacity="0.55"/>
<ellipse cx="490.27" cy="110.24" rx="1.95" ry="1.55" fill="#d82a8a" filter="url(#b1)" opacity="0.55"/>
<ellipse cx="488.02" cy="109.49" rx="2.07" ry="2.37" fill="#d82a8a" filter="url(#b1)" opacity="0.55"/>
<ellipse cx="493.84" cy="98.27" rx="1.17" ry="1.14" fill="#d82a8a" filter="url(#b1)" opacity="0.55"/>
<ellipse cx="483.25" cy="105.8" rx="1.48" ry="1.07" fill="#d82a8a" filter="url(#b1)" opacity="0.55"/>
<ellipse cx="490.21" cy="102.09" rx="1.31" ry="1.04" fill="#d82a8a" filter="url(#b1)" opacity="0.55"/>
<ellipse cx="491.68" cy="102.43" rx="1.59" ry="1.86" fill="#d82a8a" filter="url(#b1)" opacity="0.55"/>
<ellipse cx="483.11" cy="98.03" rx="1.37" ry="1.18" fill="#d82a8a" filter="url(#b1)" opacity="0.55"/>
<ellipse cx="485.67" cy="106.53" rx="1.32" ry="0.85" fill="#d82a8a" filter="url(#b1)" opacity="0.55"/>
<ellipse cx="495.82" cy="102.36" rx="1.71" ry="1.58" fill="#d82a8a" filter="url(#b1)" opacity="0.55"/>
<ellipse cx="490.16" cy="106.62" rx="2.06" ry="2.26" fill="#d82a8a" filter="url(#b1)" opacity="0.55"/>
<ellipse cx="482.37" cy="104.9" rx="2.05" ry="1.28" fill="#d82a8a" filter="url(#b1)" opacity="0.55"/>
<ellipse cx="489.5" cy="107.5" rx="3.6" ry="3.3" fill="#3a2898" filter="url(#b1)" opacity="0.8"/>
<ellipse cx="480.85" cy="115.1" rx="1.03" ry="0.66" fill="#3cbf3c" filter="url(#b1)" opacity="0.95"/>
<ellipse cx="477.64" cy="97.87" rx="1.1" ry="1.02" fill="#3cbf3c" filter="url(#b1)" opacity="0.95"/>
<ellipse cx="477.04" cy="110.61" rx="0.95" ry="0.77" fill="#3cbf3c" filter="url(#b1)" opacity="0.95"/>
<ellipse cx="476.42" cy="99.75" rx="0.76" ry="0.55" fill="#3cbf3c" filter="url(#b1)" opacity="0.95"/>
<ellipse cx="476.11" cy="103.7" rx="1.01" ry="0.7" fill="#3cbf3c" filter="url(#b1)" opacity="0.95"/>
<ellipse cx="479.77" cy="113.82" rx="0.65" ry="0.58" fill="#3cbf3c" filter="url(#b1)" opacity="0.95"/>
<ellipse cx="480.14" cy="113.1" rx="0.99" ry="0.75" fill="#3cbf3c" filter="url(#b1)" opacity="0.95"/>
<ellipse cx="476.47" cy="105.43" rx="0.96" ry="0.76" fill="#3cbf3c" filter="url(#b1)" opacity="0.95"/>
<ellipse cx="480" cy="92.5" rx="2.2" ry="1.6" fill="#52d040" filter="url(#b3)" opacity="1"/>
<ellipse cx="482.5" cy="116.5" rx="2" ry="2.8" fill="#52d040" filter="url(#b3)" opacity="1"/>
<ellipse cx="493" cy="117" rx="2.6" ry="1.8" fill="#52d040" filter="url(#b3)" opacity="1"/>
<ellipse cx="476.5" cy="109" rx="1.1" ry="1.5" fill="#3cbf3c" filter="url(#b3)" opacity="1"/>
<path d="M491.5,92.5 L497,88.2 L495,93.5 Z" fill="#f04020" filter="url(#b3)"/>
<ellipse cx="501.5" cy="107" rx="1" ry="1" fill="#ff3030" filter="url(#b3)" opacity="1"/>
</g></g>
<rect x="489" y="118.4" width="19.8" height="1.7" fill="#fff"/>
<text x="249.2" y="37.4" font-size="8.2" fill="#1a1a1a" stroke="#1a1a1a" stroke-width="0.22" text-anchor="middle" textLength="12.7" lengthAdjust="spacingAndGlyphs" >WT</text>
<text x="270.2" y="37.3" font-size="8.2" fill="#1a1a1a" stroke="#1a1a1a" stroke-width="0.22" textLength="39.3" lengthAdjust="spacingAndGlyphs" >integrin β1</text>
<text x="310" y="33.4" font-size="4.6" fill="#1a1a1a" stroke="#1a1a1a" stroke-width="0.22" textLength="5.6" lengthAdjust="spacingAndGlyphs" >-/-</text>
<text x="323" y="37.3" font-size="8.2" fill="#1a1a1a" stroke="#1a1a1a" stroke-width="0.22" textLength="8.1" lengthAdjust="spacingAndGlyphs" >TF</text>
<text x="331.4" y="33" font-size="5.2" fill="#1a1a1a" stroke="#1a1a1a" stroke-width="0.22" textLength="11.2" lengthAdjust="spacingAndGlyphs" >ΔCT</text>
<text x="226.8" y="62.3" font-size="8.0" fill="#e04a2c" stroke="#e04a2c" stroke-width="0.3" text-anchor="middle" textLength="15.4" lengthAdjust="spacingAndGlyphs" transform="rotate(-90 226.8 62.3)" >CTB</text>
<text x="226.6" y="103.3" font-size="7.8" fill="#e04a2c" stroke="#e04a2c" stroke-width="0.3" text-anchor="middle" textLength="41.2" lengthAdjust="spacingAndGlyphs" transform="rotate(-90 226.6 103.3)" >LysoTracker</text>
<line x1="233" y1="127.9" x2="350" y2="127.9" stroke="#7cc068" stroke-width="1.1" />
<polygon points="230.3,127.9 236.8,125.3 235.4,127.9 236.8,130.5" fill="#64b450"/>
<polygon points="352.4,127.9 345.9,125.3 347.3,127.9 345.9,130.5" fill="#64b450"/>
<text x="272" y="137.4" font-size="8.4" fill="#5fae4a" stroke="#5fae4a" stroke-width="0.35" textLength="38.6" lengthAdjust="spacingAndGlyphs" >HL5B-FITC</text>
<text x="408.2" y="37" font-size="8.2" fill="#1a1a1a" stroke="#1a1a1a" stroke-width="0.22" text-anchor="middle" textLength="12" lengthAdjust="spacingAndGlyphs" >WT</text>
<text x="429.8" y="37" font-size="8.2" fill="#1a1a1a" stroke="#1a1a1a" stroke-width="0.22" textLength="38.6" lengthAdjust="spacingAndGlyphs" >integrin β1</text>
<text x="469" y="33.1" font-size="4.6" fill="#1a1a1a" stroke="#1a1a1a" stroke-width="0.22" textLength="5.6" lengthAdjust="spacingAndGlyphs" >-/-</text>
<text x="484" y="37" font-size="8.2" fill="#1a1a1a" stroke="#1a1a1a" stroke-width="0.22" textLength="7.7" lengthAdjust="spacingAndGlyphs" >TF</text>
<text x="492.2" y="32.8" font-size="5.2" fill="#1a1a1a" stroke="#1a1a1a" stroke-width="0.22" textLength="12" lengthAdjust="spacingAndGlyphs" >ΔCT</text>
<text x="386" y="61.2" font-size="7.8" fill="#1a1a1a" stroke="#1a1a1a" stroke-width="0.22" text-anchor="middle" textLength="12.6" lengthAdjust="spacingAndGlyphs" transform="rotate(-90 386 61.2)" >IgG</text>
<text x="385.8" y="102.2" font-size="7.6" fill="#1a1a1a" stroke="#1a1a1a" stroke-width="0.22" text-anchor="middle" textLength="18.3" lengthAdjust="spacingAndGlyphs" transform="rotate(-90 385.8 102.2)" >HL5B</text>
<text x="376.2" y="82.4" font-size="7.8" fill="#e04a2c" stroke="#e04a2c" stroke-width="0.3" text-anchor="middle" textLength="27" lengthAdjust="spacingAndGlyphs" transform="rotate(-90 376.2 82.4)" >α-EEA1</text>
<text x="427.8" y="132.8" font-size="8.4" fill="#5fae4a" stroke="#5fae4a" stroke-width="0.3" textLength="44.4" lengthAdjust="spacingAndGlyphs" >α-gp91phox</text>
</svg></body></html>
